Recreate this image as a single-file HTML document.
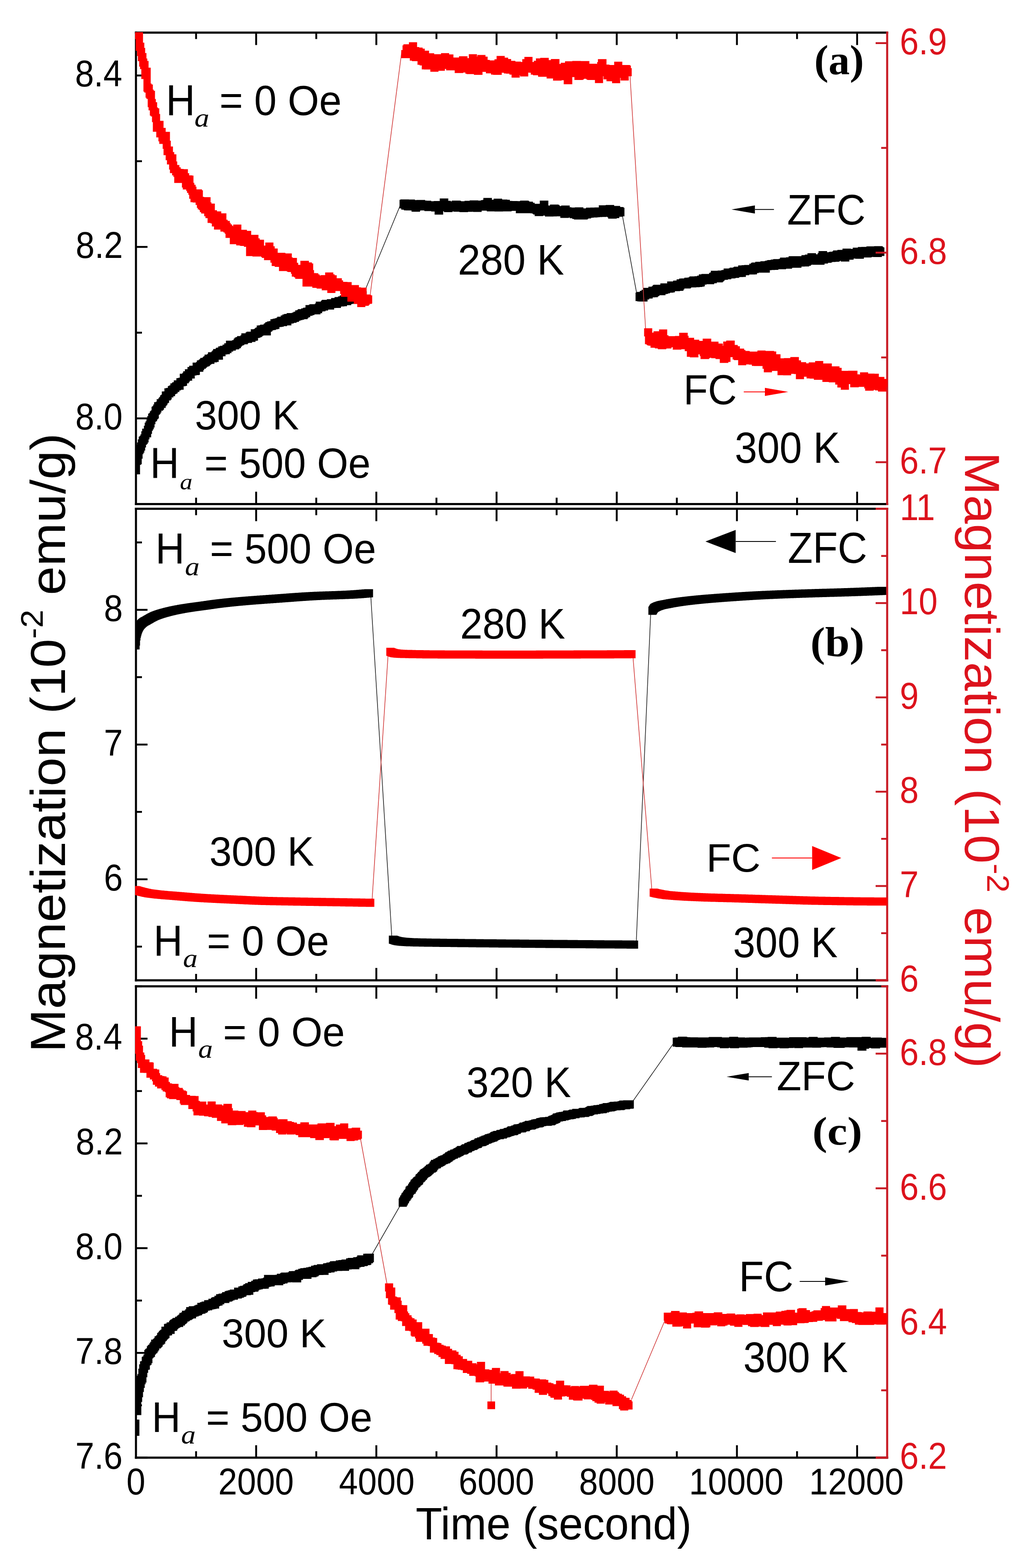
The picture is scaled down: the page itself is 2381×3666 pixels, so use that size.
<!DOCTYPE html>
<html><head><meta charset="utf-8"><title>Magnetization vs time</title>
<style>html,body{margin:0;padding:0;background:#fff;}svg{display:block;}</style></head>
<body><svg width="2381" height="3666" viewBox="0 0 2381 3666">
<rect width="2381" height="3666" fill="#fff"/>
<line x1="458.6" y1="76.3" x2="458.6" y2="91.3" stroke="#000" stroke-width="4.4"/>
<line x1="458.6" y1="1178.6" x2="458.6" y2="1163.6" stroke="#000" stroke-width="4.4"/>
<line x1="599.1" y1="76.3" x2="599.1" y2="105.3" stroke="#000" stroke-width="4.4"/>
<line x1="599.1" y1="1178.6" x2="599.1" y2="1149.6" stroke="#000" stroke-width="4.4"/>
<line x1="739.7" y1="76.3" x2="739.7" y2="91.3" stroke="#000" stroke-width="4.4"/>
<line x1="739.7" y1="1178.6" x2="739.7" y2="1163.6" stroke="#000" stroke-width="4.4"/>
<line x1="880.2" y1="76.3" x2="880.2" y2="105.3" stroke="#000" stroke-width="4.4"/>
<line x1="880.2" y1="1178.6" x2="880.2" y2="1149.6" stroke="#000" stroke-width="4.4"/>
<line x1="1020.8" y1="76.3" x2="1020.8" y2="91.3" stroke="#000" stroke-width="4.4"/>
<line x1="1020.8" y1="1178.6" x2="1020.8" y2="1163.6" stroke="#000" stroke-width="4.4"/>
<line x1="1161.4" y1="76.3" x2="1161.4" y2="105.3" stroke="#000" stroke-width="4.4"/>
<line x1="1161.4" y1="1178.6" x2="1161.4" y2="1149.6" stroke="#000" stroke-width="4.4"/>
<line x1="1301.9" y1="76.3" x2="1301.9" y2="91.3" stroke="#000" stroke-width="4.4"/>
<line x1="1301.9" y1="1178.6" x2="1301.9" y2="1163.6" stroke="#000" stroke-width="4.4"/>
<line x1="1442.5" y1="76.3" x2="1442.5" y2="105.3" stroke="#000" stroke-width="4.4"/>
<line x1="1442.5" y1="1178.6" x2="1442.5" y2="1149.6" stroke="#000" stroke-width="4.4"/>
<line x1="1583.0" y1="76.3" x2="1583.0" y2="91.3" stroke="#000" stroke-width="4.4"/>
<line x1="1583.0" y1="1178.6" x2="1583.0" y2="1163.6" stroke="#000" stroke-width="4.4"/>
<line x1="1723.6" y1="76.3" x2="1723.6" y2="105.3" stroke="#000" stroke-width="4.4"/>
<line x1="1723.6" y1="1178.6" x2="1723.6" y2="1149.6" stroke="#000" stroke-width="4.4"/>
<line x1="1864.2" y1="76.3" x2="1864.2" y2="91.3" stroke="#000" stroke-width="4.4"/>
<line x1="1864.2" y1="1178.6" x2="1864.2" y2="1163.6" stroke="#000" stroke-width="4.4"/>
<line x1="2004.7" y1="76.3" x2="2004.7" y2="105.3" stroke="#000" stroke-width="4.4"/>
<line x1="2004.7" y1="1178.6" x2="2004.7" y2="1149.6" stroke="#000" stroke-width="4.4"/>
<line x1="458.6" y1="1189.5" x2="458.6" y2="1204.5" stroke="#000" stroke-width="4.4"/>
<line x1="458.6" y1="2292.0" x2="458.6" y2="2277.0" stroke="#000" stroke-width="4.4"/>
<line x1="599.1" y1="1189.5" x2="599.1" y2="1218.5" stroke="#000" stroke-width="4.4"/>
<line x1="599.1" y1="2292.0" x2="599.1" y2="2263.0" stroke="#000" stroke-width="4.4"/>
<line x1="739.7" y1="1189.5" x2="739.7" y2="1204.5" stroke="#000" stroke-width="4.4"/>
<line x1="739.7" y1="2292.0" x2="739.7" y2="2277.0" stroke="#000" stroke-width="4.4"/>
<line x1="880.2" y1="1189.5" x2="880.2" y2="1218.5" stroke="#000" stroke-width="4.4"/>
<line x1="880.2" y1="2292.0" x2="880.2" y2="2263.0" stroke="#000" stroke-width="4.4"/>
<line x1="1020.8" y1="1189.5" x2="1020.8" y2="1204.5" stroke="#000" stroke-width="4.4"/>
<line x1="1020.8" y1="2292.0" x2="1020.8" y2="2277.0" stroke="#000" stroke-width="4.4"/>
<line x1="1161.4" y1="1189.5" x2="1161.4" y2="1218.5" stroke="#000" stroke-width="4.4"/>
<line x1="1161.4" y1="2292.0" x2="1161.4" y2="2263.0" stroke="#000" stroke-width="4.4"/>
<line x1="1301.9" y1="1189.5" x2="1301.9" y2="1204.5" stroke="#000" stroke-width="4.4"/>
<line x1="1301.9" y1="2292.0" x2="1301.9" y2="2277.0" stroke="#000" stroke-width="4.4"/>
<line x1="1442.5" y1="1189.5" x2="1442.5" y2="1218.5" stroke="#000" stroke-width="4.4"/>
<line x1="1442.5" y1="2292.0" x2="1442.5" y2="2263.0" stroke="#000" stroke-width="4.4"/>
<line x1="1583.0" y1="1189.5" x2="1583.0" y2="1204.5" stroke="#000" stroke-width="4.4"/>
<line x1="1583.0" y1="2292.0" x2="1583.0" y2="2277.0" stroke="#000" stroke-width="4.4"/>
<line x1="1723.6" y1="1189.5" x2="1723.6" y2="1218.5" stroke="#000" stroke-width="4.4"/>
<line x1="1723.6" y1="2292.0" x2="1723.6" y2="2263.0" stroke="#000" stroke-width="4.4"/>
<line x1="1864.2" y1="1189.5" x2="1864.2" y2="1204.5" stroke="#000" stroke-width="4.4"/>
<line x1="1864.2" y1="2292.0" x2="1864.2" y2="2277.0" stroke="#000" stroke-width="4.4"/>
<line x1="2004.7" y1="1189.5" x2="2004.7" y2="1218.5" stroke="#000" stroke-width="4.4"/>
<line x1="2004.7" y1="2292.0" x2="2004.7" y2="2263.0" stroke="#000" stroke-width="4.4"/>
<line x1="458.6" y1="2306.0" x2="458.6" y2="2321.0" stroke="#000" stroke-width="4.4"/>
<line x1="458.6" y1="3408.0" x2="458.6" y2="3393.0" stroke="#000" stroke-width="4.4"/>
<line x1="599.1" y1="2306.0" x2="599.1" y2="2335.0" stroke="#000" stroke-width="4.4"/>
<line x1="599.1" y1="3408.0" x2="599.1" y2="3379.0" stroke="#000" stroke-width="4.4"/>
<line x1="739.7" y1="2306.0" x2="739.7" y2="2321.0" stroke="#000" stroke-width="4.4"/>
<line x1="739.7" y1="3408.0" x2="739.7" y2="3393.0" stroke="#000" stroke-width="4.4"/>
<line x1="880.2" y1="2306.0" x2="880.2" y2="2335.0" stroke="#000" stroke-width="4.4"/>
<line x1="880.2" y1="3408.0" x2="880.2" y2="3379.0" stroke="#000" stroke-width="4.4"/>
<line x1="1020.8" y1="2306.0" x2="1020.8" y2="2321.0" stroke="#000" stroke-width="4.4"/>
<line x1="1020.8" y1="3408.0" x2="1020.8" y2="3393.0" stroke="#000" stroke-width="4.4"/>
<line x1="1161.4" y1="2306.0" x2="1161.4" y2="2335.0" stroke="#000" stroke-width="4.4"/>
<line x1="1161.4" y1="3408.0" x2="1161.4" y2="3379.0" stroke="#000" stroke-width="4.4"/>
<line x1="1301.9" y1="2306.0" x2="1301.9" y2="2321.0" stroke="#000" stroke-width="4.4"/>
<line x1="1301.9" y1="3408.0" x2="1301.9" y2="3393.0" stroke="#000" stroke-width="4.4"/>
<line x1="1442.5" y1="2306.0" x2="1442.5" y2="2335.0" stroke="#000" stroke-width="4.4"/>
<line x1="1442.5" y1="3408.0" x2="1442.5" y2="3379.0" stroke="#000" stroke-width="4.4"/>
<line x1="1583.0" y1="2306.0" x2="1583.0" y2="2321.0" stroke="#000" stroke-width="4.4"/>
<line x1="1583.0" y1="3408.0" x2="1583.0" y2="3393.0" stroke="#000" stroke-width="4.4"/>
<line x1="1723.6" y1="2306.0" x2="1723.6" y2="2335.0" stroke="#000" stroke-width="4.4"/>
<line x1="1723.6" y1="3408.0" x2="1723.6" y2="3379.0" stroke="#000" stroke-width="4.4"/>
<line x1="1864.2" y1="2306.0" x2="1864.2" y2="2321.0" stroke="#000" stroke-width="4.4"/>
<line x1="1864.2" y1="3408.0" x2="1864.2" y2="3393.0" stroke="#000" stroke-width="4.4"/>
<line x1="2004.7" y1="2306.0" x2="2004.7" y2="2335.0" stroke="#000" stroke-width="4.4"/>
<line x1="2004.7" y1="3408.0" x2="2004.7" y2="3379.0" stroke="#000" stroke-width="4.4"/>
<line x1="318.0" y1="978.2" x2="345.0" y2="978.2" stroke="#000" stroke-width="4.4"/>
<line x1="318.0" y1="577.3" x2="345.0" y2="577.3" stroke="#000" stroke-width="4.4"/>
<line x1="318.0" y1="176.5" x2="345.0" y2="176.5" stroke="#000" stroke-width="4.4"/>
<line x1="318.0" y1="1178.6" x2="332.0" y2="1178.6" stroke="#000" stroke-width="4.4"/>
<line x1="318.0" y1="777.8" x2="332.0" y2="777.8" stroke="#000" stroke-width="4.4"/>
<line x1="318.0" y1="376.9" x2="332.0" y2="376.9" stroke="#000" stroke-width="4.4"/>
<line x1="318.0" y1="2055.8" x2="345.0" y2="2055.8" stroke="#000" stroke-width="4.4"/>
<line x1="318.0" y1="1740.8" x2="345.0" y2="1740.8" stroke="#000" stroke-width="4.4"/>
<line x1="318.0" y1="1425.8" x2="345.0" y2="1425.8" stroke="#000" stroke-width="4.4"/>
<line x1="318.0" y1="2213.2" x2="332.0" y2="2213.2" stroke="#000" stroke-width="4.4"/>
<line x1="318.0" y1="1898.2" x2="332.0" y2="1898.2" stroke="#000" stroke-width="4.4"/>
<line x1="318.0" y1="1583.2" x2="332.0" y2="1583.2" stroke="#000" stroke-width="4.4"/>
<line x1="318.0" y1="1268.2" x2="332.0" y2="1268.2" stroke="#000" stroke-width="4.4"/>
<line x1="318.0" y1="3408.0" x2="345.0" y2="3408.0" stroke="#000" stroke-width="4.4"/>
<line x1="318.0" y1="3163.1" x2="345.0" y2="3163.1" stroke="#000" stroke-width="4.4"/>
<line x1="318.0" y1="2918.2" x2="345.0" y2="2918.2" stroke="#000" stroke-width="4.4"/>
<line x1="318.0" y1="2673.3" x2="345.0" y2="2673.3" stroke="#000" stroke-width="4.4"/>
<line x1="318.0" y1="2428.4" x2="345.0" y2="2428.4" stroke="#000" stroke-width="4.4"/>
<line x1="318.0" y1="3285.6" x2="332.0" y2="3285.6" stroke="#000" stroke-width="4.4"/>
<line x1="318.0" y1="3040.7" x2="332.0" y2="3040.7" stroke="#000" stroke-width="4.4"/>
<line x1="318.0" y1="2795.8" x2="332.0" y2="2795.8" stroke="#000" stroke-width="4.4"/>
<line x1="318.0" y1="2550.9" x2="332.0" y2="2550.9" stroke="#000" stroke-width="4.4"/>
<line x1="318.0" y1="2306.0" x2="332.0" y2="2306.0" stroke="#000" stroke-width="4.4"/>
<line x1="315.6" y1="76.3" x2="2077.4" y2="76.3" stroke="#000" stroke-width="5.0"/>
<line x1="315.6" y1="1178.6" x2="2077.4" y2="1178.6" stroke="#000" stroke-width="5.0"/>
<line x1="318.0" y1="73.8" x2="318.0" y2="1181.1" stroke="#000" stroke-width="4.8"/>
<line x1="315.6" y1="1189.5" x2="2077.4" y2="1189.5" stroke="#000" stroke-width="5.0"/>
<line x1="315.6" y1="2292.0" x2="2077.4" y2="2292.0" stroke="#000" stroke-width="5.0"/>
<line x1="318.0" y1="1187.0" x2="318.0" y2="2294.5" stroke="#000" stroke-width="4.8"/>
<line x1="315.6" y1="2306.0" x2="2077.4" y2="2306.0" stroke="#000" stroke-width="5.0"/>
<line x1="315.6" y1="3408.0" x2="2077.4" y2="3408.0" stroke="#000" stroke-width="5.0"/>
<line x1="318.0" y1="2303.5" x2="318.0" y2="3410.5" stroke="#000" stroke-width="4.8"/>
<line x1="855.0" y1="676.0" x2="937.0" y2="478.0" stroke="#222" stroke-width="1.6"/>
<line x1="1455.0" y1="500.0" x2="1491.0" y2="696.0" stroke="#222" stroke-width="1.6"/>
<line x1="867.0" y1="1390.0" x2="917.0" y2="2200.0" stroke="#222" stroke-width="1.6"/>
<line x1="1488.0" y1="2206.0" x2="1522.0" y2="1432.0" stroke="#222" stroke-width="1.6"/>
<line x1="866.0" y1="2940.0" x2="938.0" y2="2815.0" stroke="#222" stroke-width="1.6"/>
<line x1="1475.0" y1="2582.0" x2="1577.0" y2="2437.0" stroke="#222" stroke-width="1.6"/>
<path d="M316 1053.4 L316.5 1053.4 L316.5 1042.8 L318.5 1042.8 L318.5 1039.4 L320.5 1039.4 L320.5 1034.6 L322.5 1034.6 L322.5 1027.3 L324.5 1027.3 L324.5 1021 L326.5 1021 L326.5 1018.9 L328.5 1018.9 L328.5 1015.6 L330.5 1015.6 L330.5 1008.2 L332.5 1008.2 L332.5 1002.2 L336.5 1002.2 L336.5 995.5 L338.5 995.5 L338.5 988.2 L340.5 988.2 L340.5 984.7 L342.5 984.7 L342.5 980.5 L344.5 980.5 L344.5 972.8 L346.5 972.8 L346.5 967 L348.5 967 L348.5 965.4 L350.5 965.4 L350.5 961.4 L352.5 961.4 L352.5 959.6 L354.5 959.6 L354.5 951 L356.5 951 L356.5 949 L358.5 949 L358.5 945.4 L360.5 945.4 L360.5 940.3 L364.5 940.3 L364.5 939 L366.5 939 L366.5 933.2 L370.5 933.2 L370.5 930.6 L372.5 930.6 L372.5 927.9 L374.5 927.9 L374.5 924.2 L376.5 924.2 L376.5 922.8 L378.5 922.8 L378.5 915.3 L382.5 915.3 L382.5 915 L384.5 915 L384.5 907.7 L388.5 907.7 L388.5 906.9 L392.5 906.9 L392.5 902.7 L394.5 902.7 L394.5 901.7 L396.5 901.7 L396.5 900.7 L398.5 900.7 L398.5 896.2 L402.5 896.2 L402.5 894.1 L404.5 894.1 L404.5 893.5 L406.5 893.5 L406.5 889.3 L412.5 889.3 L412.5 884.2 L414.5 884.2 L414.5 884.1 L416.5 884.1 L416.5 883.6 L418.5 883.6 L418.5 882.9 L420.5 882.9 L420.5 873.8 L426.5 873.8 L426.5 871.6 L428.5 871.6 L428.5 867.9 L432.5 867.9 L432.5 863.2 L438.5 863.2 L438.5 857.9 L442.5 857.9 L442.5 855.1 L450.5 855.1 L450.5 847.7 L458.5 847.7 L458.5 846.3 L460.5 846.3 L460.5 842.4 L464.5 842.4 L464.5 841.1 L466.5 841.1 L466.5 839.3 L468.5 839.3 L468.5 836.8 L472.5 836.8 L472.5 836.3 L474.5 836.3 L474.5 834.1 L476.5 834.1 L476.5 832.5 L478.5 832.5 L478.5 828.9 L484.5 828.9 L484.5 827.4 L486.5 827.4 L486.5 823.4 L494.5 823.4 L494.5 821.6 L496.5 821.6 L496.5 819.2 L498.5 819.2 L498.5 815.9 L504.5 815.9 L504.5 813.5 L506.5 813.5 L506.5 812.7 L510.5 812.7 L510.5 809.8 L514.5 809.8 L514.5 808.5 L520.5 808.5 L520.5 805.7 L524.5 805.7 L524.5 802.5 L528.5 802.5 L528.5 796.5 L542.5 796.5 L542.5 795.6 L544.5 795.6 L544.5 795.1 L546.5 795.1 L546.5 791.7 L548.5 791.7 L548.5 789.5 L550.5 789.5 L550.5 788.4 L552.5 788.4 L552.5 788 L554.5 788 L554.5 785.7 L562.5 785.7 L562.5 783.6 L564.5 783.6 L564.5 779.2 L574.5 779.2 L574.5 776.9 L576.5 776.9 L576.5 775.6 L586.5 775.6 L586.5 769.7 L592.5 769.7 L592.5 769.5 L594.5 769.5 L594.5 768.4 L596.5 768.4 L596.5 766.6 L598.5 766.6 L598.5 765.5 L600.5 765.5 L600.5 760.9 L604.5 760.9 L604.5 760.5 L608.5 760.5 L608.5 759.1 L616.5 759.1 L616.5 756.8 L618.5 756.8 L618.5 755.4 L620.5 755.4 L620.5 753.3 L622.5 753.3 L622.5 753 L624.5 753 L624.5 751.4 L628.5 751.4 L628.5 750.7 L632.5 750.7 L632.5 746.2 L636.5 746.2 L636.5 745.8 L638.5 745.8 L638.5 745.1 L642.5 745.1 L642.5 743.9 L646.5 743.9 L646.5 742.4 L648.5 742.4 L648.5 740.6 L656.5 740.6 L656.5 737.5 L660.5 737.5 L660.5 735.3 L664.5 735.3 L664.5 733.9 L670.5 733.9 L670.5 731.9 L682.5 731.9 L682.5 730.9 L684.5 730.9 L684.5 730.6 L686.5 730.6 L686.5 728.8 L690.5 728.8 L690.5 725.5 L694.5 725.5 L694.5 724.8 L696.5 724.8 L696.5 722.8 L704.5 722.8 L704.5 720.9 L708.5 720.9 L708.5 719.5 L710.5 719.5 L710.5 719.4 L712.5 719.4 L712.5 719.1 L714.5 719.1 L714.5 713.2 L722.5 713.2 L722.5 712 L724.5 712 L724.5 711.2 L736.5 711.2 L736.5 709.5 L738.5 709.5 L738.5 705.2 L750.5 705.2 L750.5 703.1 L752.5 703.1 L752.5 701.1 L764.5 701.1 L764.5 699.4 L774.5 699.4 L774.5 696.7 L782.5 696.7 L782.5 694.4 L790.5 694.4 L790.5 692.9 L794.5 692.9 L794.5 690.7 L800.5 690.7 L800.5 689.6 L806.5 689.6 L806.5 688.3 L812.5 688.3 L812.5 685.3 L830.5 685.3 L830.5 685 L832.5 685 L832.5 684.8 L836.5 684.8 L836.5 680.8 L855.5 680.8 L855.5 681 L857.5 681 L857.5 700 L853.5 700 L853.5 703.8 L849.5 703.8 L849.5 704 L847.5 704 L847.5 706.8 L841.5 706.8 L841.5 708.3 L827.5 708.3 L827.5 710.6 L823.5 710.6 L823.5 711 L821.5 711 L821.5 713.4 L811.5 713.4 L811.5 716.1 L805.5 716.1 L805.5 716.6 L799.5 716.6 L799.5 716.8 L797.5 716.8 L797.5 719.9 L787.5 719.9 L787.5 720.1 L785.5 720.1 L785.5 720.2 L781.5 720.2 L781.5 723.7 L767.5 723.7 L767.5 725.9 L765.5 725.9 L765.5 726 L761.5 726 L761.5 727.8 L759.5 727.8 L759.5 727.9 L755.5 727.9 L755.5 728.5 L753.5 728.5 L753.5 732.2 L749.5 732.2 L749.5 734.9 L735.5 734.9 L735.5 736.8 L731.5 736.8 L731.5 738.1 L729.5 738.1 L729.5 738.4 L727.5 738.4 L727.5 738.5 L725.5 738.5 L725.5 741.7 L721.5 741.7 L721.5 743.9 L719.5 743.9 L719.5 746.2 L711.5 746.2 L711.5 747.4 L707.5 747.4 L707.5 748.6 L703.5 748.6 L703.5 749.6 L701.5 749.6 L701.5 749.9 L699.5 749.9 L699.5 752.4 L695.5 752.4 L695.5 752.9 L693.5 752.9 L693.5 754.8 L687.5 754.8 L687.5 756 L685.5 756 L685.5 756.6 L681.5 756.6 L681.5 760.8 L671.5 760.8 L671.5 762.6 L663.5 762.6 L663.5 764 L659.5 764 L659.5 764.5 L655.5 764.5 L655.5 764.8 L653.5 764.8 L653.5 769.2 L649.5 769.2 L649.5 770.1 L645.5 770.1 L645.5 771.4 L641.5 771.4 L641.5 772 L639.5 772 L639.5 772.3 L637.5 772.3 L637.5 774.4 L635.5 774.4 L635.5 775.8 L633.5 775.8 L633.5 784.2 L617.5 784.2 L617.5 784.5 L615.5 784.5 L615.5 785.6 L613.5 785.6 L613.5 787.4 L611.5 787.4 L611.5 788.5 L609.5 788.5 L609.5 789.3 L607.5 789.3 L607.5 790.2 L603.5 790.2 L603.5 796.3 L601.5 796.3 L601.5 796.7 L597.5 796.7 L597.5 799.4 L591.5 799.4 L591.5 799.6 L589.5 799.6 L589.5 801.7 L581.5 801.7 L581.5 802.6 L579.5 802.6 L579.5 804.9 L577.5 804.9 L577.5 805.1 L571.5 805.1 L571.5 807 L569.5 807 L569.5 807.4 L567.5 807.4 L567.5 808.5 L565.5 808.5 L565.5 810.7 L563.5 810.7 L563.5 814.1 L561.5 814.1 L561.5 814.6 L559.5 814.6 L559.5 816.7 L555.5 816.7 L555.5 817.1 L551.5 817.1 L551.5 819.7 L545.5 819.7 L545.5 822 L541.5 822 L541.5 825.5 L537.5 825.5 L537.5 828.2 L531.5 828.2 L531.5 828.8 L527.5 828.8 L527.5 833.1 L521.5 833.1 L521.5 841.1 L511.5 841.1 L511.5 846.3 L507.5 846.3 L507.5 847.2 L501.5 847.2 L501.5 850.7 L495.5 850.7 L495.5 851.5 L493.5 851.5 L493.5 853.1 L491.5 853.1 L491.5 855.3 L489.5 855.3 L489.5 856.8 L485.5 856.8 L485.5 858.3 L483.5 858.3 L483.5 860.1 L481.5 860.1 L481.5 862.2 L477.5 862.2 L477.5 865.3 L475.5 865.3 L475.5 869.3 L467.5 869.3 L467.5 876.4 L465.5 876.4 L465.5 877 L459.5 877 L459.5 878 L455.5 878 L455.5 884.9 L453.5 884.9 L453.5 885 L449.5 885 L449.5 890 L445.5 890 L445.5 890.6 L443.5 890.6 L443.5 893.6 L441.5 893.6 L441.5 896.3 L437.5 896.3 L437.5 901.9 L435.5 901.9 L435.5 902.6 L433.5 902.6 L433.5 903.1 L431.5 903.1 L431.5 903.2 L429.5 903.2 L429.5 911.3 L423.5 911.3 L423.5 912.5 L421.5 912.5 L421.5 913.1 L419.5 913.1 L419.5 916.5 L415.5 916.5 L415.5 919.7 L413.5 919.7 L413.5 920.7 L411.5 920.7 L411.5 921.7 L409.5 921.7 L409.5 926.2 L405.5 926.2 L405.5 929.2 L401.5 929.2 L401.5 934 L399.5 934 L399.5 936.2 L395.5 936.2 L395.5 941.8 L393.5 941.8 L393.5 943.2 L391.5 943.2 L391.5 946.9 L389.5 946.9 L389.5 949.6 L387.5 949.6 L387.5 953.8 L383.5 953.8 L383.5 958 L381.5 958 L381.5 960.2 L377.5 960.2 L377.5 964.4 L375.5 964.4 L375.5 968 L373.5 968 L373.5 970 L371.5 970 L371.5 978.6 L369.5 978.6 L369.5 980.4 L367.5 980.4 L367.5 984.4 L365.5 984.4 L365.5 986 L363.5 986 L363.5 991.8 L361.5 991.8 L361.5 999.5 L359.5 999.5 L359.5 1003.7 L357.5 1003.7 L357.5 1007.2 L355.5 1007.2 L355.5 1014.5 L353.5 1014.5 L353.5 1022.6 L349.5 1022.6 L349.5 1027.2 L347.5 1027.2 L347.5 1034.6 L345.5 1034.6 L345.5 1037.9 L343.5 1037.9 L343.5 1040 L341.5 1040 L341.5 1046.3 L339.5 1046.3 L339.5 1053.6 L337.5 1053.6 L337.5 1058.4 L335.5 1058.4 L335.5 1061.8 L333.5 1061.8 L333.5 1072.4 L331.5 1072.4 L331.5 1085.4 L329.5 1085.4 L329.5 1087.1 L327.5 1087.1 L327.5 1108.9 L316 1108.9 Z" fill="#000"/>
<path d="M934.5 467.2 L936.5 467.2 L936.5 466.2 L956.5 466.2 L956.5 466.6 L970.5 466.6 L970.5 467.8 L974.5 467.8 L974.5 467.4 L994.5 467.4 L994.5 469 L998.5 469 L998.5 469.2 L1008.5 469.2 L1008.5 470.5 L1010.5 470.5 L1010.5 470.4 L1014.5 470.4 L1014.5 470 L1028.5 470 L1028.5 464.1 L1048.5 464.1 L1048.5 469.6 L1054.5 469.6 L1054.5 470.9 L1056.5 470.9 L1056.5 468.9 L1076.5 468.9 L1076.5 469.6 L1078.5 469.6 L1078.5 470.4 L1086.5 470.4 L1086.5 469.6 L1098.5 469.6 L1098.5 468.6 L1118.5 468.6 L1118.5 469 L1124.5 469 L1124.5 468 L1128.5 468 L1128.5 467.3 L1130.5 467.3 L1130.5 462.8 L1150.5 462.8 L1150.5 467.1 L1154.5 467.1 L1154.5 464.6 L1174.5 464.6 L1174.5 466.5 L1186.5 466.5 L1186.5 467.1 L1192.5 467.1 L1192.5 469.7 L1198.5 469.7 L1198.5 470 L1210.5 470 L1210.5 470.3 L1216.5 470.3 L1216.5 469 L1236.5 469 L1236.5 470.5 L1238.5 470.5 L1238.5 471.4 L1246.5 471.4 L1246.5 474.1 L1250.5 474.1 L1250.5 476.4 L1262.5 476.4 L1262.5 469 L1282.5 469 L1282.5 480.5 L1286.5 480.5 L1286.5 478.3 L1306.5 478.3 L1306.5 479.1 L1308.5 479.1 L1308.5 481.2 L1310.5 481.2 L1310.5 482.1 L1312.5 482.1 L1312.5 480.6 L1332.5 480.6 L1332.5 484.4 L1336.5 484.4 L1336.5 485.3 L1344.5 485.3 L1344.5 484.8 L1364.5 484.8 L1364.5 487.3 L1370.5 487.3 L1370.5 485.5 L1380.5 485.5 L1380.5 485.2 L1390.5 485.2 L1390.5 485 L1392.5 485 L1392.5 484.9 L1400.5 484.9 L1400.5 480 L1416.5 480 L1416.5 479.3 L1436.5 479.3 L1436.5 481.4 L1450.5 481.4 L1450.5 484.1 L1458.5 484.1 L1458.5 485.8 L1460.5 485.8 L1460.5 505.8 L1456.5 505.8 L1456.5 506.8 L1448.5 506.8 L1448.5 510 L1442.5 510 L1442.5 511.2 L1422.5 511.2 L1422.5 508.3 L1420.5 508.3 L1420.5 506.8 L1418.5 506.8 L1418.5 507.3 L1408.5 507.3 L1408.5 507.4 L1402.5 507.4 L1402.5 508 L1398.5 508 L1398.5 508.2 L1396.5 508.2 L1396.5 508.5 L1388.5 508.5 L1388.5 509.1 L1384.5 509.1 L1384.5 509.3 L1382.5 509.3 L1382.5 510.7 L1376.5 510.7 L1376.5 511.5 L1374.5 511.5 L1374.5 513.2 L1362.5 513.2 L1362.5 513.3 L1342.5 513.3 L1342.5 512.1 L1338.5 512.1 L1338.5 510.3 L1332.5 510.3 L1332.5 508.5 L1330.5 508.5 L1330.5 509.5 L1310.5 509.5 L1310.5 505.8 L1302.5 505.8 L1302.5 506 L1294.5 506 L1294.5 506.3 L1274.5 506.3 L1274.5 504 L1270.5 504 L1270.5 505.2 L1250.5 505.2 L1250.5 501.5 L1248.5 501.5 L1248.5 501.3 L1246.5 501.3 L1246.5 499.6 L1244.5 499.6 L1244.5 498.8 L1240.5 498.8 L1240.5 498.6 L1236.5 498.6 L1236.5 498.5 L1206.5 498.5 L1206.5 493.1 L1196.5 493.1 L1196.5 494.3 L1176.5 494.3 L1176.5 494.5 L1156.5 494.5 L1156.5 494.2 L1138.5 494.2 L1138.5 492.4 L1134.5 492.4 L1134.5 492.5 L1126.5 492.5 L1126.5 495.4 L1106.5 495.4 L1106.5 495.1 L1104.5 495.1 L1104.5 495.2 L1094.5 495.2 L1094.5 496.1 L1074.5 496.1 L1074.5 495.1 L1060.5 495.1 L1060.5 493.9 L1058.5 493.9 L1058.5 496 L1038.5 496 L1038.5 494 L1036.5 494 L1036.5 501.7 L1016.5 501.7 L1016.5 494.4 L1008.5 494.4 L1008.5 493.6 L992.5 493.6 L992.5 492 L984.5 492 L984.5 492.3 L982.5 492.3 L982.5 495.1 L962.5 495.1 L962.5 492.1 L948.5 492.1 L948.5 491.7 L944.5 491.7 L944.5 490.3 L940.5 490.3 L940.5 490.2 L938.5 490.2 L938.5 487.2 L934.5 487.2 Z" fill="#000"/>
<path d="M1486.5 684 L1488.5 684 L1488.5 682.5 L1496.5 682.5 L1496.5 679.9 L1500.5 679.9 L1500.5 677.4 L1504.5 677.4 L1504.5 673 L1516.5 673 L1516.5 670.3 L1524.5 670.3 L1524.5 668.9 L1526.5 668.9 L1526.5 666.4 L1528.5 666.4 L1528.5 665.8 L1544.5 665.8 L1544.5 662.5 L1560.5 662.5 L1560.5 658.1 L1574.5 658.1 L1574.5 656.1 L1582.5 656.1 L1582.5 652.9 L1588.5 652.9 L1588.5 651.3 L1592.5 651.3 L1592.5 651 L1600.5 651 L1600.5 649.2 L1606.5 649.2 L1606.5 649 L1610.5 649 L1610.5 648 L1612.5 648 L1612.5 646.3 L1624.5 646.3 L1624.5 645.7 L1630.5 645.7 L1630.5 644.4 L1634.5 644.4 L1634.5 641.6 L1640.5 641.6 L1640.5 640.5 L1658.5 640.5 L1658.5 637.9 L1660.5 637.9 L1660.5 637 L1662.5 637 L1662.5 633.1 L1678.5 633.1 L1678.5 632.5 L1686.5 632.5 L1686.5 631.8 L1688.5 631.8 L1688.5 631.2 L1692.5 631.2 L1692.5 627.7 L1704.5 627.7 L1704.5 627.3 L1706.5 627.3 L1706.5 625.7 L1714.5 625.7 L1714.5 624.8 L1716.5 624.8 L1716.5 623.6 L1726.5 623.6 L1726.5 620.6 L1734.5 620.6 L1734.5 619.9 L1740.5 619.9 L1740.5 619.5 L1752.5 619.5 L1752.5 616.5 L1756.5 616.5 L1756.5 614.5 L1758.5 614.5 L1758.5 613.7 L1766.5 613.7 L1766.5 612.1 L1778.5 612.1 L1778.5 610.7 L1788.5 610.7 L1788.5 610 L1790.5 610 L1790.5 609.2 L1794.5 609.2 L1794.5 607.9 L1802.5 607.9 L1802.5 607 L1804.5 607 L1804.5 606.7 L1808.5 606.7 L1808.5 605.8 L1820.5 605.8 L1820.5 605.4 L1822.5 605.4 L1822.5 604.7 L1824.5 604.7 L1824.5 602.2 L1838.5 602.2 L1838.5 601.4 L1844.5 601.4 L1844.5 599 L1850.5 599 L1850.5 598.9 L1870.5 598.9 L1870.5 599.1 L1874.5 599.1 L1874.5 596.5 L1882.5 596.5 L1882.5 595.2 L1888.5 595.2 L1888.5 591.9 L1908.5 591.9 L1908.5 594.5 L1912.5 594.5 L1912.5 591.4 L1914.5 591.4 L1914.5 587.1 L1934.5 587.1 L1934.5 589.8 L1938.5 589.8 L1938.5 589.1 L1940.5 589.1 L1940.5 588.4 L1946.5 588.4 L1946.5 587.4 L1948.5 587.4 L1948.5 585.4 L1958.5 585.4 L1958.5 584.3 L1970.5 584.3 L1970.5 581.2 L1990.5 581.2 L1990.5 582 L1994.5 582 L1994.5 579.1 L2004.5 579.1 L2004.5 578.9 L2006.5 578.9 L2006.5 577.5 L2014.5 577.5 L2014.5 577.3 L2026.5 577.3 L2026.5 575.9 L2044.5 575.9 L2044.5 575.6 L2064.5 575.6 L2064.5 577.2 L2066.5 577.2 L2066.5 578.4 L2068.5 578.4 L2068.5 598.4 L2062.5 598.4 L2062.5 601 L2042.5 601 L2042.5 600.7 L2038.5 600.7 L2038.5 601.9 L2020.5 601.9 L2020.5 605.1 L2000.5 605.1 L2000.5 604.5 L1996.5 604.5 L1996.5 607.3 L1986.5 607.3 L1986.5 611.5 L1966.5 611.5 L1966.5 609.7 L1964.5 609.7 L1964.5 611.2 L1962.5 611.2 L1962.5 612 L1954.5 612 L1954.5 612.6 L1946.5 612.6 L1946.5 613.5 L1944.5 613.5 L1944.5 614.5 L1936.5 614.5 L1936.5 616.2 L1928.5 616.2 L1928.5 618.9 L1920.5 618.9 L1920.5 619 L1900.5 619 L1900.5 618.8 L1898.5 618.8 L1898.5 619.5 L1896.5 619.5 L1896.5 621.6 L1892.5 621.6 L1892.5 623 L1882.5 623 L1882.5 623.2 L1874.5 623.2 L1874.5 625.9 L1854.5 625.9 L1854.5 626.3 L1852.5 626.3 L1852.5 628.3 L1838.5 628.3 L1838.5 629.5 L1820.5 629.5 L1820.5 630.9 L1812.5 630.9 L1812.5 631.3 L1804.5 631.3 L1804.5 631.7 L1800.5 631.7 L1800.5 637.4 L1788.5 637.4 L1788.5 637.6 L1774.5 637.6 L1774.5 638.6 L1770.5 638.6 L1770.5 641.5 L1766.5 641.5 L1766.5 641.7 L1752.5 641.7 L1752.5 643.6 L1744.5 643.6 L1744.5 647.6 L1738.5 647.6 L1738.5 647.7 L1730.5 647.7 L1730.5 648.3 L1728.5 648.3 L1728.5 649.8 L1720.5 649.8 L1720.5 650.7 L1718.5 650.7 L1718.5 651.1 L1710.5 651.1 L1710.5 652.9 L1702.5 652.9 L1702.5 654.3 L1696.5 654.3 L1696.5 654.6 L1694.5 654.6 L1694.5 656.8 L1692.5 656.8 L1692.5 658.6 L1690.5 658.6 L1690.5 660.2 L1676.5 660.2 L1676.5 662.2 L1670.5 662.2 L1670.5 664.4 L1652.5 664.4 L1652.5 665.4 L1648.5 665.4 L1648.5 669.6 L1646.5 669.6 L1646.5 670.2 L1642.5 670.2 L1642.5 671.1 L1636.5 671.1 L1636.5 671.6 L1628.5 671.6 L1628.5 672.1 L1616.5 672.1 L1616.5 673.9 L1614.5 673.9 L1614.5 674.6 L1600.5 674.6 L1600.5 676.9 L1598.5 676.9 L1598.5 680 L1590.5 680 L1590.5 680.8 L1578.5 680.8 L1578.5 683.4 L1576.5 683.4 L1576.5 683.7 L1574.5 683.7 L1574.5 684.3 L1568.5 684.3 L1568.5 684.5 L1566.5 684.5 L1566.5 686.1 L1562.5 686.1 L1562.5 686.9 L1560.5 686.9 L1560.5 687.6 L1556.5 687.6 L1556.5 690.3 L1542.5 690.3 L1542.5 691.8 L1540.5 691.8 L1540.5 693 L1538.5 693 L1538.5 695.1 L1532.5 695.1 L1532.5 695.2 L1526.5 695.2 L1526.5 698.1 L1518.5 698.1 L1518.5 700.3 L1514.5 700.3 L1514.5 705 L1494.5 705 L1494.5 704.7 L1490.5 704.7 L1490.5 704 L1486.5 704 Z" fill="#000"/>
<path d="M316 1457.2 L316.5 1457.2 L316.5 1455.3 L317.5 1455.3 L317.5 1453.7 L318.5 1453.7 L318.5 1452.3 L319.5 1452.3 L319.5 1451.1 L320.5 1451.1 L320.5 1450 L321.5 1450 L321.5 1448.9 L322.5 1448.9 L322.5 1448 L323.5 1448 L323.5 1447.1 L324.5 1447.1 L324.5 1446.3 L325.5 1446.3 L325.5 1445.5 L326.5 1445.5 L326.5 1444.8 L327.5 1444.8 L327.5 1444.1 L328.5 1444.1 L328.5 1443.5 L329.5 1443.5 L329.5 1443 L330.5 1443 L330.5 1442.4 L331.5 1442.4 L331.5 1441.9 L332.5 1441.9 L332.5 1441.4 L333.5 1441.4 L333.5 1440.8 L334.5 1440.8 L334.5 1440.3 L335.5 1440.3 L335.5 1439.7 L336.5 1439.7 L336.5 1439.1 L337.5 1439.1 L337.5 1438.5 L338.5 1438.5 L338.5 1437.9 L339.5 1437.9 L339.5 1437.4 L340.5 1437.4 L340.5 1436.8 L341.5 1436.8 L341.5 1436.2 L342.5 1436.2 L342.5 1435.6 L343.5 1435.6 L343.5 1435.1 L344.5 1435.1 L344.5 1434.5 L345.5 1434.5 L345.5 1434 L346.5 1434 L346.5 1433.4 L347.5 1433.4 L347.5 1432.9 L348.5 1432.9 L348.5 1432.4 L349.5 1432.4 L349.5 1432 L350.5 1432 L350.5 1431.5 L351.5 1431.5 L351.5 1431.1 L352.5 1431.1 L352.5 1430.6 L353.5 1430.6 L353.5 1430.2 L354.5 1430.2 L354.5 1429.8 L355.5 1429.8 L355.5 1429.4 L356.5 1429.4 L356.5 1429 L357.5 1429 L357.5 1428.7 L358.5 1428.7 L358.5 1428.3 L359.5 1428.3 L359.5 1427.9 L360.5 1427.9 L360.5 1427.6 L361.5 1427.6 L361.5 1427.2 L362.5 1427.2 L362.5 1426.9 L363.5 1426.9 L363.5 1426.6 L364.5 1426.6 L364.5 1426.2 L365.5 1426.2 L365.5 1425.9 L366.5 1425.9 L366.5 1425.6 L367.5 1425.6 L367.5 1425.3 L368.5 1425.3 L368.5 1425 L369.5 1425 L369.5 1424.7 L370.5 1424.7 L370.5 1424.4 L371.5 1424.4 L371.5 1424.1 L372.5 1424.1 L372.5 1423.8 L373.5 1423.8 L373.5 1423.5 L374.5 1423.5 L374.5 1423.3 L375.5 1423.3 L375.5 1423 L376.5 1423 L376.5 1422.7 L377.5 1422.7 L377.5 1422.4 L378.5 1422.4 L378.5 1422.2 L379.5 1422.2 L379.5 1421.9 L380.5 1421.9 L380.5 1421.6 L381.5 1421.6 L381.5 1421.4 L382.5 1421.4 L382.5 1421.1 L383.5 1421.1 L383.5 1420.9 L384.5 1420.9 L384.5 1420.6 L385.5 1420.6 L385.5 1420.4 L386.5 1420.4 L386.5 1420.1 L387.5 1420.1 L387.5 1419.9 L388.5 1419.9 L388.5 1419.6 L389.5 1419.6 L389.5 1419.4 L390.5 1419.4 L390.5 1419.2 L391.5 1419.2 L391.5 1418.9 L392.5 1418.9 L392.5 1418.7 L393.5 1418.7 L393.5 1418.5 L394.5 1418.5 L394.5 1418.3 L395.5 1418.3 L395.5 1418 L396.5 1418 L396.5 1417.8 L397.5 1417.8 L397.5 1417.6 L398.5 1417.6 L398.5 1417.4 L399.5 1417.4 L399.5 1417.2 L400.5 1417.2 L400.5 1417 L401.5 1417 L401.5 1416.8 L402.5 1416.8 L402.5 1416.6 L403.5 1416.6 L403.5 1416.4 L404.5 1416.4 L404.5 1416.2 L405.5 1416.2 L405.5 1416 L406.5 1416 L406.5 1415.8 L407.5 1415.8 L407.5 1415.6 L408.5 1415.6 L408.5 1415.4 L409.5 1415.4 L409.5 1415.2 L410.5 1415.2 L410.5 1415 L411.5 1415 L411.5 1414.9 L412.5 1414.9 L412.5 1414.7 L413.5 1414.7 L413.5 1414.5 L414.5 1414.5 L414.5 1414.3 L415.5 1414.3 L415.5 1414.1 L416.5 1414.1 L416.5 1414 L417.5 1414 L417.5 1413.8 L418.5 1413.8 L418.5 1413.6 L419.5 1413.6 L419.5 1413.5 L420.5 1413.5 L420.5 1413.3 L421.5 1413.3 L421.5 1413.1 L422.5 1413.1 L422.5 1413 L423.5 1413 L423.5 1412.8 L424.5 1412.8 L424.5 1412.6 L425.5 1412.6 L425.5 1412.5 L426.5 1412.5 L426.5 1412.3 L427.5 1412.3 L427.5 1412.2 L428.5 1412.2 L428.5 1412 L429.5 1412 L429.5 1411.8 L430.5 1411.8 L430.5 1411.7 L431.5 1411.7 L431.5 1411.5 L432.5 1411.5 L432.5 1411.4 L433.5 1411.4 L433.5 1411.2 L434.5 1411.2 L434.5 1411.1 L435.5 1411.1 L435.5 1410.9 L436.5 1410.9 L436.5 1410.8 L437.5 1410.8 L437.5 1410.6 L438.5 1410.6 L438.5 1410.5 L439.5 1410.5 L439.5 1410.3 L440.5 1410.3 L440.5 1410.2 L441.5 1410.2 L441.5 1410 L442.5 1410 L442.5 1409.9 L443.5 1409.9 L443.5 1409.8 L444.5 1409.8 L444.5 1409.6 L445.5 1409.6 L445.5 1409.5 L446.5 1409.5 L446.5 1409.4 L447.5 1409.4 L447.5 1409.2 L448.5 1409.2 L448.5 1409.1 L449.5 1409.1 L449.5 1409 L450.5 1409 L450.5 1408.8 L451.5 1408.8 L451.5 1408.7 L452.5 1408.7 L452.5 1408.6 L453.5 1408.6 L453.5 1408.4 L454.5 1408.4 L454.5 1408.3 L455.5 1408.3 L455.5 1408.2 L456.5 1408.2 L456.5 1408 L457.5 1408 L457.5 1407.9 L458.5 1407.9 L458.5 1407.8 L459.5 1407.8 L459.5 1407.6 L460.5 1407.6 L460.5 1407.5 L461.5 1407.5 L461.5 1407.4 L462.5 1407.4 L462.5 1407.2 L463.5 1407.2 L463.5 1407.1 L464.5 1407.1 L464.5 1407 L465.5 1407 L465.5 1406.8 L466.5 1406.8 L466.5 1406.7 L467.5 1406.7 L467.5 1406.6 L468.5 1406.6 L468.5 1406.4 L469.5 1406.4 L469.5 1406.3 L470.5 1406.3 L470.5 1406.1 L471.5 1406.1 L471.5 1406 L472.5 1406 L472.5 1405.9 L473.5 1405.9 L473.5 1405.7 L474.5 1405.7 L474.5 1405.6 L475.5 1405.6 L475.5 1405.4 L476.5 1405.4 L476.5 1405.3 L477.5 1405.3 L477.5 1405.1 L478.5 1405.1 L478.5 1405 L479.5 1405 L479.5 1404.9 L480.5 1404.9 L480.5 1404.7 L481.5 1404.7 L481.5 1404.6 L482.5 1404.6 L482.5 1404.4 L483.5 1404.4 L483.5 1404.3 L484.5 1404.3 L484.5 1404.1 L485.5 1404.1 L485.5 1404 L486.5 1404 L486.5 1403.8 L487.5 1403.8 L487.5 1403.7 L488.5 1403.7 L488.5 1403.5 L489.5 1403.5 L489.5 1403.4 L490.5 1403.4 L490.5 1403.3 L491.5 1403.3 L491.5 1403.1 L492.5 1403.1 L492.5 1403 L493.5 1403 L493.5 1402.8 L494.5 1402.8 L494.5 1402.7 L495.5 1402.7 L495.5 1402.6 L496.5 1402.6 L496.5 1402.4 L497.5 1402.4 L497.5 1402.3 L498.5 1402.3 L498.5 1402.2 L499.5 1402.2 L499.5 1402 L500.5 1402 L500.5 1401.9 L501.5 1401.9 L501.5 1401.8 L502.5 1401.8 L502.5 1401.7 L503.5 1401.7 L503.5 1401.6 L504.5 1401.6 L504.5 1401.4 L505.5 1401.4 L505.5 1401.3 L506.5 1401.3 L506.5 1401.2 L507.5 1401.2 L507.5 1401.1 L508.5 1401.1 L508.5 1401 L509.5 1401 L509.5 1400.9 L510.5 1400.9 L510.5 1400.7 L511.5 1400.7 L511.5 1400.6 L512.5 1400.6 L512.5 1400.5 L513.5 1400.5 L513.5 1400.4 L514.5 1400.4 L514.5 1400.3 L515.5 1400.3 L515.5 1400.2 L516.5 1400.2 L516.5 1400.1 L517.5 1400.1 L517.5 1400 L518.5 1400 L518.5 1399.9 L519.5 1399.9 L519.5 1399.7 L520.5 1399.7 L520.5 1399.6 L521.5 1399.6 L521.5 1399.5 L522.5 1399.5 L522.5 1399.4 L523.5 1399.4 L523.5 1399.3 L524.5 1399.3 L524.5 1399.2 L525.5 1399.2 L525.5 1399.1 L526.5 1399.1 L526.5 1399 L527.5 1399 L527.5 1398.9 L528.5 1398.9 L528.5 1398.8 L529.5 1398.8 L529.5 1398.7 L530.5 1398.7 L530.5 1398.6 L531.5 1398.6 L531.5 1398.5 L532.5 1398.5 L532.5 1398.4 L533.5 1398.4 L533.5 1398.3 L534.5 1398.3 L534.5 1398.2 L535.5 1398.2 L535.5 1398.1 L536.5 1398.1 L536.5 1398 L537.5 1398 L537.5 1397.9 L538.5 1397.9 L538.5 1397.8 L539.5 1397.8 L539.5 1397.7 L540.5 1397.7 L540.5 1397.6 L541.5 1397.6 L541.5 1397.5 L542.5 1397.5 L542.5 1397.4 L543.5 1397.4 L543.5 1397.3 L545.5 1397.3 L545.5 1397.2 L546.5 1397.2 L546.5 1397.1 L547.5 1397.1 L547.5 1397 L548.5 1397 L548.5 1396.9 L549.5 1396.9 L549.5 1396.8 L550.5 1396.8 L550.5 1396.7 L551.5 1396.7 L551.5 1396.6 L552.5 1396.6 L552.5 1396.5 L553.5 1396.5 L553.5 1396.4 L555.5 1396.4 L555.5 1396.3 L556.5 1396.3 L556.5 1396.2 L557.5 1396.2 L557.5 1396.1 L558.5 1396.1 L558.5 1396 L559.5 1396 L559.5 1395.9 L560.5 1395.9 L560.5 1395.8 L561.5 1395.8 L561.5 1395.7 L563.5 1395.7 L563.5 1395.6 L564.5 1395.6 L564.5 1395.5 L565.5 1395.5 L565.5 1395.4 L566.5 1395.4 L566.5 1395.3 L567.5 1395.3 L567.5 1395.2 L569.5 1395.2 L569.5 1395.1 L570.5 1395.1 L570.5 1395 L571.5 1395 L571.5 1394.9 L572.5 1394.9 L572.5 1394.8 L574.5 1394.8 L574.5 1394.7 L575.5 1394.7 L575.5 1394.6 L576.5 1394.6 L576.5 1394.5 L577.5 1394.5 L577.5 1394.4 L579.5 1394.4 L579.5 1394.3 L580.5 1394.3 L580.5 1394.2 L581.5 1394.2 L581.5 1394.1 L583.5 1394.1 L583.5 1394 L584.5 1394 L584.5 1393.9 L585.5 1393.9 L585.5 1393.8 L587.5 1393.8 L587.5 1393.7 L588.5 1393.7 L588.5 1393.6 L589.5 1393.6 L589.5 1393.5 L591.5 1393.5 L591.5 1393.4 L592.5 1393.4 L592.5 1393.3 L593.5 1393.3 L593.5 1393.2 L595.5 1393.2 L595.5 1393.1 L596.5 1393.1 L596.5 1393 L597.5 1393 L597.5 1392.9 L599.5 1392.9 L599.5 1392.8 L600.5 1392.8 L600.5 1392.7 L601.5 1392.7 L601.5 1392.6 L603.5 1392.6 L603.5 1392.5 L604.5 1392.5 L604.5 1392.4 L606.5 1392.4 L606.5 1392.3 L607.5 1392.3 L607.5 1392.2 L608.5 1392.2 L608.5 1392.1 L610.5 1392.1 L610.5 1392 L611.5 1392 L611.5 1391.9 L613.5 1391.9 L613.5 1391.8 L614.5 1391.8 L614.5 1391.7 L615.5 1391.7 L615.5 1391.6 L617.5 1391.6 L617.5 1391.5 L618.5 1391.5 L618.5 1391.4 L620.5 1391.4 L620.5 1391.3 L621.5 1391.3 L621.5 1391.2 L622.5 1391.2 L622.5 1391.1 L624.5 1391.1 L624.5 1391 L625.5 1391 L625.5 1390.9 L627.5 1390.9 L627.5 1390.8 L628.5 1390.8 L628.5 1390.7 L629.5 1390.7 L629.5 1390.6 L631.5 1390.6 L631.5 1390.5 L632.5 1390.5 L632.5 1390.4 L634.5 1390.4 L634.5 1390.3 L635.5 1390.3 L635.5 1390.2 L636.5 1390.2 L636.5 1390.1 L638.5 1390.1 L638.5 1390 L639.5 1390 L639.5 1389.9 L641.5 1389.9 L641.5 1389.8 L642.5 1389.8 L642.5 1389.7 L643.5 1389.7 L643.5 1389.6 L645.5 1389.6 L645.5 1389.5 L646.5 1389.5 L646.5 1389.4 L647.5 1389.4 L647.5 1389.3 L649.5 1389.3 L649.5 1389.2 L650.5 1389.2 L650.5 1389.1 L651.5 1389.1 L651.5 1389 L653.5 1389 L653.5 1388.9 L654.5 1388.9 L654.5 1388.8 L656.5 1388.8 L656.5 1388.7 L657.5 1388.7 L657.5 1388.6 L658.5 1388.6 L658.5 1388.5 L660.5 1388.5 L660.5 1388.4 L661.5 1388.4 L661.5 1388.3 L662.5 1388.3 L662.5 1388.2 L664.5 1388.2 L664.5 1388.1 L665.5 1388.1 L665.5 1388 L666.5 1388 L666.5 1387.9 L668.5 1387.9 L668.5 1387.8 L669.5 1387.8 L669.5 1387.7 L670.5 1387.7 L670.5 1387.6 L672.5 1387.6 L672.5 1387.5 L673.5 1387.5 L673.5 1387.4 L674.5 1387.4 L674.5 1387.3 L676.5 1387.3 L676.5 1387.2 L677.5 1387.2 L677.5 1387.1 L679.5 1387.1 L679.5 1387 L680.5 1387 L680.5 1386.9 L681.5 1386.9 L681.5 1386.8 L683.5 1386.8 L683.5 1386.7 L684.5 1386.7 L684.5 1386.6 L685.5 1386.6 L685.5 1386.5 L687.5 1386.5 L687.5 1386.4 L688.5 1386.4 L688.5 1386.3 L690.5 1386.3 L690.5 1386.2 L691.5 1386.2 L691.5 1386.1 L693.5 1386.1 L693.5 1386 L694.5 1386 L694.5 1385.9 L696.5 1385.9 L696.5 1385.8 L697.5 1385.8 L697.5 1385.7 L699.5 1385.7 L699.5 1385.6 L700.5 1385.6 L700.5 1385.5 L702.5 1385.5 L702.5 1385.4 L703.5 1385.4 L703.5 1385.3 L705.5 1385.3 L705.5 1385.2 L706.5 1385.2 L706.5 1385.1 L708.5 1385.1 L708.5 1385 L710.5 1385 L710.5 1384.9 L711.5 1384.9 L711.5 1384.8 L713.5 1384.8 L713.5 1384.7 L715.5 1384.7 L715.5 1384.6 L716.5 1384.6 L716.5 1384.5 L718.5 1384.5 L718.5 1384.4 L720.5 1384.4 L720.5 1384.3 L722.5 1384.3 L722.5 1384.2 L724.5 1384.2 L724.5 1384.1 L726.5 1384.1 L726.5 1384 L728.5 1384 L728.5 1383.9 L730.5 1383.9 L730.5 1383.8 L732.5 1383.8 L732.5 1383.7 L734.5 1383.7 L734.5 1383.6 L736.5 1383.6 L736.5 1383.5 L739.5 1383.5 L739.5 1383.4 L741.5 1383.4 L741.5 1383.3 L743.5 1383.3 L743.5 1383.2 L746.5 1383.2 L746.5 1383.1 L749.5 1383.1 L749.5 1383 L751.5 1383 L751.5 1382.9 L754.5 1382.9 L754.5 1382.8 L757.5 1382.8 L757.5 1382.7 L760.5 1382.7 L760.5 1382.6 L763.5 1382.6 L763.5 1382.5 L766.5 1382.5 L766.5 1382.4 L769.5 1382.4 L769.5 1382.3 L772.5 1382.3 L772.5 1382.2 L775.5 1382.2 L775.5 1382.1 L778.5 1382.1 L778.5 1382 L781.5 1382 L781.5 1381.9 L784.5 1381.9 L784.5 1381.8 L786.5 1381.8 L786.5 1381.7 L789.5 1381.7 L789.5 1381.6 L792.5 1381.6 L792.5 1381.5 L794.5 1381.5 L794.5 1381.4 L797.5 1381.4 L797.5 1381.3 L799.5 1381.3 L799.5 1381.2 L801.5 1381.2 L801.5 1381.1 L804.5 1381.1 L804.5 1381 L806.5 1381 L806.5 1380.9 L808.5 1380.9 L808.5 1380.8 L810.5 1380.8 L810.5 1380.7 L812.5 1380.7 L812.5 1380.6 L814.5 1380.6 L814.5 1380.5 L815.5 1380.5 L815.5 1380.4 L817.5 1380.4 L817.5 1380.3 L819.5 1380.3 L819.5 1380.2 L820.5 1380.2 L820.5 1380.1 L822.5 1380.1 L822.5 1380 L823.5 1380 L823.5 1379.9 L825.5 1379.9 L825.5 1379.8 L826.5 1379.8 L826.5 1379.7 L828.5 1379.7 L828.5 1379.6 L829.5 1379.6 L829.5 1379.5 L830.5 1379.5 L830.5 1379.4 L832.5 1379.4 L832.5 1379.3 L833.5 1379.3 L833.5 1379.2 L834.5 1379.2 L834.5 1379.1 L835.5 1379.1 L835.5 1379 L837.5 1379 L837.5 1378.9 L838.5 1378.9 L838.5 1378.8 L839.5 1378.8 L839.5 1378.7 L840.5 1378.7 L840.5 1378.6 L841.5 1378.6 L841.5 1378.5 L843.5 1378.5 L843.5 1378.4 L844.5 1378.4 L844.5 1378.3 L845.5 1378.3 L845.5 1378.2 L846.5 1378.2 L846.5 1378.1 L847.5 1378.1 L847.5 1378 L848.5 1378 L848.5 1377.9 L850.5 1377.9 L850.5 1377.8 L851.5 1377.8 L851.5 1377.7 L852.5 1377.7 L852.5 1377.6 L853.5 1377.6 L853.5 1377.5 L872.5 1377.5 L872.5 1396.5 L871.5 1396.5 L871.5 1396.6 L870.5 1396.6 L870.5 1396.7 L869.5 1396.7 L869.5 1396.8 L868.5 1396.8 L868.5 1396.9 L866.5 1396.9 L866.5 1397 L865.5 1397 L865.5 1397.1 L864.5 1397.1 L864.5 1397.2 L863.5 1397.2 L863.5 1397.3 L862.5 1397.3 L862.5 1397.4 L861.5 1397.4 L861.5 1397.5 L859.5 1397.5 L859.5 1397.6 L858.5 1397.6 L858.5 1397.7 L857.5 1397.7 L857.5 1397.8 L856.5 1397.8 L856.5 1397.9 L855.5 1397.9 L855.5 1398 L853.5 1398 L853.5 1398.1 L852.5 1398.1 L852.5 1398.2 L851.5 1398.2 L851.5 1398.3 L850.5 1398.3 L850.5 1398.4 L848.5 1398.4 L848.5 1398.5 L847.5 1398.5 L847.5 1398.6 L846.5 1398.6 L846.5 1398.7 L844.5 1398.7 L844.5 1398.8 L843.5 1398.8 L843.5 1398.9 L841.5 1398.9 L841.5 1399 L840.5 1399 L840.5 1399.1 L838.5 1399.1 L838.5 1399.2 L837.5 1399.2 L837.5 1399.3 L835.5 1399.3 L835.5 1399.4 L833.5 1399.4 L833.5 1399.5 L832.5 1399.5 L832.5 1399.6 L830.5 1399.6 L830.5 1399.7 L828.5 1399.7 L828.5 1399.8 L826.5 1399.8 L826.5 1399.9 L824.5 1399.9 L824.5 1400 L822.5 1400 L822.5 1400.1 L819.5 1400.1 L819.5 1400.2 L817.5 1400.2 L817.5 1400.3 L815.5 1400.3 L815.5 1400.4 L812.5 1400.4 L812.5 1400.5 L810.5 1400.5 L810.5 1400.6 L807.5 1400.6 L807.5 1400.7 L804.5 1400.7 L804.5 1400.8 L802.5 1400.8 L802.5 1400.9 L799.5 1400.9 L799.5 1401 L796.5 1401 L796.5 1401.1 L793.5 1401.1 L793.5 1401.2 L790.5 1401.2 L790.5 1401.3 L787.5 1401.3 L787.5 1401.4 L784.5 1401.4 L784.5 1401.5 L781.5 1401.5 L781.5 1401.6 L778.5 1401.6 L778.5 1401.7 L775.5 1401.7 L775.5 1401.8 L772.5 1401.8 L772.5 1401.9 L769.5 1401.9 L769.5 1402 L767.5 1402 L767.5 1402.1 L764.5 1402.1 L764.5 1402.2 L761.5 1402.2 L761.5 1402.3 L759.5 1402.3 L759.5 1402.4 L757.5 1402.4 L757.5 1402.5 L754.5 1402.5 L754.5 1402.6 L752.5 1402.6 L752.5 1402.7 L750.5 1402.7 L750.5 1402.8 L748.5 1402.8 L748.5 1402.9 L746.5 1402.9 L746.5 1403 L744.5 1403 L744.5 1403.1 L742.5 1403.1 L742.5 1403.2 L740.5 1403.2 L740.5 1403.3 L738.5 1403.3 L738.5 1403.4 L736.5 1403.4 L736.5 1403.5 L734.5 1403.5 L734.5 1403.6 L733.5 1403.6 L733.5 1403.7 L731.5 1403.7 L731.5 1403.8 L729.5 1403.8 L729.5 1403.9 L728.5 1403.9 L728.5 1404 L726.5 1404 L726.5 1404.1 L724.5 1404.1 L724.5 1404.2 L723.5 1404.2 L723.5 1404.3 L721.5 1404.3 L721.5 1404.4 L720.5 1404.4 L720.5 1404.5 L718.5 1404.5 L718.5 1404.6 L717.5 1404.6 L717.5 1404.7 L715.5 1404.7 L715.5 1404.8 L714.5 1404.8 L714.5 1404.9 L712.5 1404.9 L712.5 1405 L711.5 1405 L711.5 1405.1 L709.5 1405.1 L709.5 1405.2 L708.5 1405.2 L708.5 1405.3 L706.5 1405.3 L706.5 1405.4 L705.5 1405.4 L705.5 1405.5 L703.5 1405.5 L703.5 1405.6 L702.5 1405.6 L702.5 1405.7 L701.5 1405.7 L701.5 1405.8 L699.5 1405.8 L699.5 1405.9 L698.5 1405.9 L698.5 1406 L697.5 1406 L697.5 1406.1 L695.5 1406.1 L695.5 1406.2 L694.5 1406.2 L694.5 1406.3 L692.5 1406.3 L692.5 1406.4 L691.5 1406.4 L691.5 1406.5 L690.5 1406.5 L690.5 1406.6 L688.5 1406.6 L688.5 1406.7 L687.5 1406.7 L687.5 1406.8 L686.5 1406.8 L686.5 1406.9 L684.5 1406.9 L684.5 1407 L683.5 1407 L683.5 1407.1 L682.5 1407.1 L682.5 1407.2 L680.5 1407.2 L680.5 1407.3 L679.5 1407.3 L679.5 1407.4 L678.5 1407.4 L678.5 1407.5 L676.5 1407.5 L676.5 1407.6 L675.5 1407.6 L675.5 1407.7 L674.5 1407.7 L674.5 1407.8 L672.5 1407.8 L672.5 1407.9 L671.5 1407.9 L671.5 1408 L669.5 1408 L669.5 1408.1 L668.5 1408.1 L668.5 1408.2 L667.5 1408.2 L667.5 1408.3 L665.5 1408.3 L665.5 1408.4 L664.5 1408.4 L664.5 1408.5 L663.5 1408.5 L663.5 1408.6 L661.5 1408.6 L661.5 1408.7 L660.5 1408.7 L660.5 1408.8 L659.5 1408.8 L659.5 1408.9 L657.5 1408.9 L657.5 1409 L656.5 1409 L656.5 1409.1 L654.5 1409.1 L654.5 1409.2 L653.5 1409.2 L653.5 1409.3 L652.5 1409.3 L652.5 1409.4 L650.5 1409.4 L650.5 1409.5 L649.5 1409.5 L649.5 1409.6 L647.5 1409.6 L647.5 1409.7 L646.5 1409.7 L646.5 1409.8 L645.5 1409.8 L645.5 1409.9 L643.5 1409.9 L643.5 1410 L642.5 1410 L642.5 1410.1 L640.5 1410.1 L640.5 1410.2 L639.5 1410.2 L639.5 1410.3 L638.5 1410.3 L638.5 1410.4 L636.5 1410.4 L636.5 1410.5 L635.5 1410.5 L635.5 1410.6 L633.5 1410.6 L633.5 1410.7 L632.5 1410.7 L632.5 1410.8 L631.5 1410.8 L631.5 1410.9 L629.5 1410.9 L629.5 1411 L628.5 1411 L628.5 1411.1 L626.5 1411.1 L626.5 1411.2 L625.5 1411.2 L625.5 1411.3 L624.5 1411.3 L624.5 1411.4 L622.5 1411.4 L622.5 1411.5 L621.5 1411.5 L621.5 1411.6 L619.5 1411.6 L619.5 1411.7 L618.5 1411.7 L618.5 1411.8 L617.5 1411.8 L617.5 1411.9 L615.5 1411.9 L615.5 1412 L614.5 1412 L614.5 1412.1 L613.5 1412.1 L613.5 1412.2 L611.5 1412.2 L611.5 1412.3 L610.5 1412.3 L610.5 1412.4 L609.5 1412.4 L609.5 1412.5 L607.5 1412.5 L607.5 1412.6 L606.5 1412.6 L606.5 1412.7 L605.5 1412.7 L605.5 1412.8 L603.5 1412.8 L603.5 1412.9 L602.5 1412.9 L602.5 1413 L601.5 1413 L601.5 1413.1 L599.5 1413.1 L599.5 1413.2 L598.5 1413.2 L598.5 1413.3 L597.5 1413.3 L597.5 1413.4 L595.5 1413.4 L595.5 1413.5 L594.5 1413.5 L594.5 1413.6 L593.5 1413.6 L593.5 1413.7 L592.5 1413.7 L592.5 1413.8 L590.5 1413.8 L590.5 1413.9 L589.5 1413.9 L589.5 1414 L588.5 1414 L588.5 1414.1 L587.5 1414.1 L587.5 1414.2 L585.5 1414.2 L585.5 1414.3 L584.5 1414.3 L584.5 1414.4 L583.5 1414.4 L583.5 1414.5 L582.5 1414.5 L582.5 1414.6 L581.5 1414.6 L581.5 1414.7 L579.5 1414.7 L579.5 1414.8 L578.5 1414.8 L578.5 1414.9 L577.5 1414.9 L577.5 1415 L576.5 1415 L576.5 1415.1 L575.5 1415.1 L575.5 1415.2 L574.5 1415.2 L574.5 1415.3 L573.5 1415.3 L573.5 1415.4 L571.5 1415.4 L571.5 1415.5 L570.5 1415.5 L570.5 1415.6 L569.5 1415.6 L569.5 1415.7 L568.5 1415.7 L568.5 1415.8 L567.5 1415.8 L567.5 1415.9 L566.5 1415.9 L566.5 1416 L565.5 1416 L565.5 1416.1 L564.5 1416.1 L564.5 1416.2 L563.5 1416.2 L563.5 1416.3 L561.5 1416.3 L561.5 1416.4 L560.5 1416.4 L560.5 1416.5 L559.5 1416.5 L559.5 1416.6 L558.5 1416.6 L558.5 1416.7 L557.5 1416.7 L557.5 1416.8 L556.5 1416.8 L556.5 1416.9 L555.5 1416.9 L555.5 1417 L554.5 1417 L554.5 1417.1 L553.5 1417.1 L553.5 1417.2 L552.5 1417.2 L552.5 1417.3 L551.5 1417.3 L551.5 1417.4 L550.5 1417.4 L550.5 1417.5 L549.5 1417.5 L549.5 1417.6 L548.5 1417.6 L548.5 1417.7 L547.5 1417.7 L547.5 1417.8 L546.5 1417.8 L546.5 1417.9 L545.5 1417.9 L545.5 1418 L544.5 1418 L544.5 1418.1 L543.5 1418.1 L543.5 1418.2 L542.5 1418.2 L542.5 1418.3 L541.5 1418.3 L541.5 1418.4 L540.5 1418.4 L540.5 1418.5 L539.5 1418.5 L539.5 1418.6 L538.5 1418.6 L538.5 1418.7 L537.5 1418.7 L537.5 1418.9 L536.5 1418.9 L536.5 1419 L535.5 1419 L535.5 1419.1 L534.5 1419.1 L534.5 1419.2 L533.5 1419.2 L533.5 1419.3 L532.5 1419.3 L532.5 1419.4 L531.5 1419.4 L531.5 1419.5 L530.5 1419.5 L530.5 1419.6 L529.5 1419.6 L529.5 1419.7 L528.5 1419.7 L528.5 1419.9 L527.5 1419.9 L527.5 1420 L526.5 1420 L526.5 1420.1 L525.5 1420.1 L525.5 1420.2 L524.5 1420.2 L524.5 1420.3 L523.5 1420.3 L523.5 1420.4 L522.5 1420.4 L522.5 1420.6 L521.5 1420.6 L521.5 1420.7 L520.5 1420.7 L520.5 1420.8 L519.5 1420.8 L519.5 1420.9 L518.5 1420.9 L518.5 1421 L517.5 1421 L517.5 1421.2 L516.5 1421.2 L516.5 1421.3 L515.5 1421.3 L515.5 1421.4 L514.5 1421.4 L514.5 1421.6 L513.5 1421.6 L513.5 1421.7 L512.5 1421.7 L512.5 1421.8 L511.5 1421.8 L511.5 1422 L510.5 1422 L510.5 1422.1 L509.5 1422.1 L509.5 1422.3 L508.5 1422.3 L508.5 1422.4 L507.5 1422.4 L507.5 1422.5 L506.5 1422.5 L506.5 1422.7 L505.5 1422.7 L505.5 1422.8 L504.5 1422.8 L504.5 1423 L503.5 1423 L503.5 1423.1 L502.5 1423.1 L502.5 1423.3 L501.5 1423.3 L501.5 1423.4 L500.5 1423.4 L500.5 1423.6 L499.5 1423.6 L499.5 1423.7 L498.5 1423.7 L498.5 1423.9 L497.5 1423.9 L497.5 1424 L496.5 1424 L496.5 1424.1 L495.5 1424.1 L495.5 1424.3 L494.5 1424.3 L494.5 1424.4 L493.5 1424.4 L493.5 1424.6 L492.5 1424.6 L492.5 1424.7 L491.5 1424.7 L491.5 1424.9 L490.5 1424.9 L490.5 1425 L489.5 1425 L489.5 1425.1 L488.5 1425.1 L488.5 1425.3 L487.5 1425.3 L487.5 1425.4 L486.5 1425.4 L486.5 1425.6 L485.5 1425.6 L485.5 1425.7 L484.5 1425.7 L484.5 1425.8 L483.5 1425.8 L483.5 1426 L482.5 1426 L482.5 1426.1 L481.5 1426.1 L481.5 1426.2 L480.5 1426.2 L480.5 1426.4 L479.5 1426.4 L479.5 1426.5 L478.5 1426.5 L478.5 1426.6 L477.5 1426.6 L477.5 1426.8 L476.5 1426.8 L476.5 1426.9 L475.5 1426.9 L475.5 1427 L474.5 1427 L474.5 1427.2 L473.5 1427.2 L473.5 1427.3 L472.5 1427.3 L472.5 1427.4 L471.5 1427.4 L471.5 1427.6 L470.5 1427.6 L470.5 1427.7 L469.5 1427.7 L469.5 1427.8 L468.5 1427.8 L468.5 1428 L467.5 1428 L467.5 1428.1 L466.5 1428.1 L466.5 1428.2 L465.5 1428.2 L465.5 1428.4 L464.5 1428.4 L464.5 1428.5 L463.5 1428.5 L463.5 1428.6 L462.5 1428.6 L462.5 1428.8 L461.5 1428.8 L461.5 1428.9 L460.5 1428.9 L460.5 1429 L459.5 1429 L459.5 1429.2 L458.5 1429.2 L458.5 1429.3 L457.5 1429.3 L457.5 1429.5 L456.5 1429.5 L456.5 1429.6 L455.5 1429.6 L455.5 1429.8 L454.5 1429.8 L454.5 1429.9 L453.5 1429.9 L453.5 1430.1 L452.5 1430.1 L452.5 1430.2 L451.5 1430.2 L451.5 1430.4 L450.5 1430.4 L450.5 1430.5 L449.5 1430.5 L449.5 1430.7 L448.5 1430.7 L448.5 1430.8 L447.5 1430.8 L447.5 1431 L446.5 1431 L446.5 1431.2 L445.5 1431.2 L445.5 1431.3 L444.5 1431.3 L444.5 1431.5 L443.5 1431.5 L443.5 1431.6 L442.5 1431.6 L442.5 1431.8 L441.5 1431.8 L441.5 1432 L440.5 1432 L440.5 1432.1 L439.5 1432.1 L439.5 1432.3 L438.5 1432.3 L438.5 1432.5 L437.5 1432.5 L437.5 1432.6 L436.5 1432.6 L436.5 1432.8 L435.5 1432.8 L435.5 1433 L434.5 1433 L434.5 1433.1 L433.5 1433.1 L433.5 1433.3 L432.5 1433.3 L432.5 1433.5 L431.5 1433.5 L431.5 1433.7 L430.5 1433.7 L430.5 1433.9 L429.5 1433.9 L429.5 1434 L428.5 1434 L428.5 1434.2 L427.5 1434.2 L427.5 1434.4 L426.5 1434.4 L426.5 1434.6 L425.5 1434.6 L425.5 1434.8 L424.5 1434.8 L424.5 1435 L423.5 1435 L423.5 1435.2 L422.5 1435.2 L422.5 1435.4 L421.5 1435.4 L421.5 1435.6 L420.5 1435.6 L420.5 1435.8 L419.5 1435.8 L419.5 1436 L418.5 1436 L418.5 1436.2 L417.5 1436.2 L417.5 1436.4 L416.5 1436.4 L416.5 1436.6 L415.5 1436.6 L415.5 1436.8 L414.5 1436.8 L414.5 1437 L413.5 1437 L413.5 1437.3 L412.5 1437.3 L412.5 1437.5 L411.5 1437.5 L411.5 1437.7 L410.5 1437.7 L410.5 1437.9 L409.5 1437.9 L409.5 1438.2 L408.5 1438.2 L408.5 1438.4 L407.5 1438.4 L407.5 1438.6 L406.5 1438.6 L406.5 1438.9 L405.5 1438.9 L405.5 1439.1 L404.5 1439.1 L404.5 1439.4 L403.5 1439.4 L403.5 1439.6 L402.5 1439.6 L402.5 1439.9 L401.5 1439.9 L401.5 1440.1 L400.5 1440.1 L400.5 1440.4 L399.5 1440.4 L399.5 1440.6 L398.5 1440.6 L398.5 1440.9 L397.5 1440.9 L397.5 1441.2 L396.5 1441.2 L396.5 1441.4 L395.5 1441.4 L395.5 1441.7 L394.5 1441.7 L394.5 1442 L393.5 1442 L393.5 1442.3 L392.5 1442.3 L392.5 1442.5 L391.5 1442.5 L391.5 1442.8 L390.5 1442.8 L390.5 1443.1 L389.5 1443.1 L389.5 1443.4 L388.5 1443.4 L388.5 1443.7 L387.5 1443.7 L387.5 1444 L386.5 1444 L386.5 1444.3 L385.5 1444.3 L385.5 1444.6 L384.5 1444.6 L384.5 1444.9 L383.5 1444.9 L383.5 1445.2 L382.5 1445.2 L382.5 1445.6 L381.5 1445.6 L381.5 1445.9 L380.5 1445.9 L380.5 1446.2 L379.5 1446.2 L379.5 1446.6 L378.5 1446.6 L378.5 1446.9 L377.5 1446.9 L377.5 1447.3 L376.5 1447.3 L376.5 1447.7 L375.5 1447.7 L375.5 1448 L374.5 1448 L374.5 1448.4 L373.5 1448.4 L373.5 1448.8 L372.5 1448.8 L372.5 1449.2 L371.5 1449.2 L371.5 1449.6 L370.5 1449.6 L370.5 1450.1 L369.5 1450.1 L369.5 1450.5 L368.5 1450.5 L368.5 1451 L367.5 1451 L367.5 1451.4 L366.5 1451.4 L366.5 1451.9 L365.5 1451.9 L365.5 1452.4 L364.5 1452.4 L364.5 1453 L363.5 1453 L363.5 1453.5 L362.5 1453.5 L362.5 1454.1 L361.5 1454.1 L361.5 1454.6 L360.5 1454.6 L360.5 1455.2 L359.5 1455.2 L359.5 1455.8 L358.5 1455.8 L358.5 1456.4 L357.5 1456.4 L357.5 1456.9 L356.5 1456.9 L356.5 1457.5 L355.5 1457.5 L355.5 1458.1 L354.5 1458.1 L354.5 1458.7 L353.5 1458.7 L353.5 1459.3 L352.5 1459.3 L352.5 1459.8 L351.5 1459.8 L351.5 1460.4 L350.5 1460.4 L350.5 1460.9 L349.5 1460.9 L349.5 1461.4 L348.5 1461.4 L348.5 1462 L347.5 1462 L347.5 1462.5 L346.5 1462.5 L346.5 1463.1 L345.5 1463.1 L345.5 1463.8 L344.5 1463.8 L344.5 1464.5 L343.5 1464.5 L343.5 1465.3 L342.5 1465.3 L342.5 1466.1 L341.5 1466.1 L341.5 1467 L340.5 1467 L340.5 1467.9 L339.5 1467.9 L339.5 1469 L338.5 1469 L338.5 1470.1 L337.5 1470.1 L337.5 1471.3 L336.5 1471.3 L336.5 1472.7 L335.5 1472.7 L335.5 1474.3 L334.5 1474.3 L334.5 1476.2 L333.5 1476.2 L333.5 1478.3 L332.5 1478.3 L332.5 1480.8 L331.5 1480.8 L331.5 1483.8 L330.5 1483.8 L330.5 1487.5 L329.5 1487.5 L329.5 1491.6 L328.5 1491.6 L328.5 1497.5 L327.5 1497.5 L327.5 1509.5 L326.5 1509.5 L326.5 1518.5 L316 1518.5 Z" fill="#000"/>
<path d="M909.5 2187.5 L929.5 2187.5 L929.5 2188.1 L931.5 2188.1 L931.5 2188.8 L933.5 2188.8 L933.5 2189.4 L935.5 2189.4 L935.5 2190 L937.5 2190 L937.5 2190.5 L939.5 2190.5 L939.5 2190.9 L941.5 2190.9 L941.5 2191.3 L943.5 2191.3 L943.5 2191.6 L945.5 2191.6 L945.5 2191.8 L947.5 2191.8 L947.5 2192 L949.5 2192 L949.5 2192.2 L951.5 2192.2 L951.5 2192.4 L953.5 2192.4 L953.5 2192.5 L955.5 2192.5 L955.5 2192.7 L957.5 2192.7 L957.5 2192.8 L959.5 2192.8 L959.5 2193 L961.5 2193 L961.5 2193.1 L963.5 2193.1 L963.5 2193.2 L965.5 2193.2 L965.5 2193.3 L967.5 2193.3 L967.5 2193.4 L969.5 2193.4 L969.5 2193.5 L973.5 2193.5 L973.5 2193.6 L977.5 2193.6 L977.5 2193.7 L981.5 2193.7 L981.5 2193.8 L983.5 2193.8 L983.5 2193.9 L989.5 2193.9 L989.5 2194 L993.5 2194 L993.5 2194.1 L997.5 2194.1 L997.5 2194.2 L1003.5 2194.2 L1003.5 2194.3 L1009.5 2194.3 L1009.5 2194.4 L1015.5 2194.4 L1015.5 2194.5 L1021.5 2194.5 L1021.5 2194.6 L1029.5 2194.6 L1029.5 2194.7 L1037.5 2194.7 L1037.5 2194.8 L1045.5 2194.8 L1045.5 2194.9 L1053.5 2194.9 L1053.5 2195 L1063.5 2195 L1063.5 2195.1 L1071.5 2195.1 L1071.5 2195.2 L1079.5 2195.2 L1079.5 2195.3 L1087.5 2195.3 L1087.5 2195.4 L1095.5 2195.4 L1095.5 2195.5 L1103.5 2195.5 L1103.5 2195.6 L1113.5 2195.6 L1113.5 2195.7 L1121.5 2195.7 L1121.5 2195.8 L1131.5 2195.8 L1131.5 2195.9 L1141.5 2195.9 L1141.5 2196 L1151.5 2196 L1151.5 2196.1 L1161.5 2196.1 L1161.5 2196.2 L1171.5 2196.2 L1171.5 2196.3 L1183.5 2196.3 L1183.5 2196.4 L1193.5 2196.4 L1193.5 2196.5 L1203.5 2196.5 L1203.5 2196.6 L1215.5 2196.6 L1215.5 2196.7 L1225.5 2196.7 L1225.5 2196.8 L1237.5 2196.8 L1237.5 2196.9 L1247.5 2196.9 L1247.5 2197 L1259.5 2197 L1259.5 2197.1 L1269.5 2197.1 L1269.5 2197.2 L1281.5 2197.2 L1281.5 2197.3 L1293.5 2197.3 L1293.5 2197.4 L1303.5 2197.4 L1303.5 2197.5 L1315.5 2197.5 L1315.5 2197.6 L1327.5 2197.6 L1327.5 2197.7 L1339.5 2197.7 L1339.5 2197.8 L1351.5 2197.8 L1351.5 2197.9 L1363.5 2197.9 L1363.5 2198 L1375.5 2198 L1375.5 2198.1 L1387.5 2198.1 L1387.5 2198.2 L1401.5 2198.2 L1401.5 2198.3 L1413.5 2198.3 L1413.5 2198.4 L1427.5 2198.4 L1427.5 2198.5 L1441.5 2198.5 L1441.5 2198.6 L1455.5 2198.6 L1455.5 2198.7 L1469.5 2198.7 L1469.5 2198.8 L1483.5 2198.8 L1483.5 2198.9 L1492.5 2198.9 L1492.5 2217.9 L1465.5 2217.9 L1465.5 2217.8 L1451.5 2217.8 L1451.5 2217.7 L1437.5 2217.7 L1437.5 2217.6 L1423.5 2217.6 L1423.5 2217.5 L1409.5 2217.5 L1409.5 2217.4 L1395.5 2217.4 L1395.5 2217.3 L1383.5 2217.3 L1383.5 2217.2 L1369.5 2217.2 L1369.5 2217.1 L1357.5 2217.1 L1357.5 2217 L1345.5 2217 L1345.5 2216.9 L1333.5 2216.9 L1333.5 2216.8 L1321.5 2216.8 L1321.5 2216.7 L1309.5 2216.7 L1309.5 2216.6 L1297.5 2216.6 L1297.5 2216.5 L1285.5 2216.5 L1285.5 2216.4 L1275.5 2216.4 L1275.5 2216.3 L1263.5 2216.3 L1263.5 2216.2 L1251.5 2216.2 L1251.5 2216.1 L1241.5 2216.1 L1241.5 2216 L1229.5 2216 L1229.5 2215.9 L1219.5 2215.9 L1219.5 2215.8 L1207.5 2215.8 L1207.5 2215.7 L1197.5 2215.7 L1197.5 2215.6 L1185.5 2215.6 L1185.5 2215.5 L1175.5 2215.5 L1175.5 2215.4 L1165.5 2215.4 L1165.5 2215.3 L1153.5 2215.3 L1153.5 2215.2 L1143.5 2215.2 L1143.5 2215.1 L1133.5 2215.1 L1133.5 2215 L1123.5 2215 L1123.5 2214.9 L1113.5 2214.9 L1113.5 2214.8 L1103.5 2214.8 L1103.5 2214.7 L1095.5 2214.7 L1095.5 2214.6 L1085.5 2214.6 L1085.5 2214.5 L1077.5 2214.5 L1077.5 2214.4 L1069.5 2214.4 L1069.5 2214.3 L1061.5 2214.3 L1061.5 2214.2 L1053.5 2214.2 L1053.5 2214.1 L1045.5 2214.1 L1045.5 2214 L1035.5 2214 L1035.5 2213.9 L1027.5 2213.9 L1027.5 2213.8 L1019.5 2213.8 L1019.5 2213.7 L1011.5 2213.7 L1011.5 2213.6 L1003.5 2213.6 L1003.5 2213.5 L997.5 2213.5 L997.5 2213.4 L991.5 2213.4 L991.5 2213.3 L985.5 2213.3 L985.5 2213.2 L979.5 2213.2 L979.5 2213.1 L975.5 2213.1 L975.5 2213 L971.5 2213 L971.5 2212.9 L965.5 2212.9 L965.5 2212.8 L963.5 2212.8 L963.5 2212.7 L959.5 2212.7 L959.5 2212.6 L955.5 2212.6 L955.5 2212.5 L951.5 2212.5 L951.5 2212.4 L949.5 2212.4 L949.5 2212.3 L947.5 2212.3 L947.5 2212.2 L945.5 2212.2 L945.5 2212.1 L943.5 2212.1 L943.5 2212 L941.5 2212 L941.5 2211.8 L939.5 2211.8 L939.5 2211.7 L937.5 2211.7 L937.5 2211.5 L935.5 2211.5 L935.5 2211.4 L933.5 2211.4 L933.5 2211.2 L931.5 2211.2 L931.5 2211 L929.5 2211 L929.5 2210.8 L927.5 2210.8 L927.5 2210.6 L925.5 2210.6 L925.5 2210.3 L923.5 2210.3 L923.5 2209.9 L921.5 2209.9 L921.5 2209.5 L919.5 2209.5 L919.5 2209 L917.5 2209 L917.5 2208.4 L915.5 2208.4 L915.5 2207.8 L913.5 2207.8 L913.5 2207.1 L911.5 2207.1 L911.5 2206.5 L909.5 2206.5 Z" fill="#000"/>
<path d="M1516.5 1418.5 L1517.5 1418.5 L1517.5 1416.9 L1518.5 1416.9 L1518.5 1415.2 L1519.5 1415.2 L1519.5 1413.6 L1520.5 1413.6 L1520.5 1412.4 L1521.5 1412.4 L1521.5 1411.5 L1522.5 1411.5 L1522.5 1410.9 L1523.5 1410.9 L1523.5 1410.4 L1524.5 1410.4 L1524.5 1409.9 L1525.5 1409.9 L1525.5 1409.4 L1526.5 1409.4 L1526.5 1409 L1527.5 1409 L1527.5 1408.5 L1528.5 1408.5 L1528.5 1408.1 L1529.5 1408.1 L1529.5 1407.7 L1530.5 1407.7 L1530.5 1407.4 L1531.5 1407.4 L1531.5 1407 L1532.5 1407 L1532.5 1406.7 L1533.5 1406.7 L1533.5 1406.4 L1534.5 1406.4 L1534.5 1406.1 L1535.5 1406.1 L1535.5 1405.8 L1536.5 1405.8 L1536.5 1405.6 L1537.5 1405.6 L1537.5 1405.3 L1538.5 1405.3 L1538.5 1405.1 L1539.5 1405.1 L1539.5 1404.8 L1540.5 1404.8 L1540.5 1404.6 L1541.5 1404.6 L1541.5 1404.4 L1542.5 1404.4 L1542.5 1404.2 L1543.5 1404.2 L1543.5 1404 L1544.5 1404 L1544.5 1403.8 L1545.5 1403.8 L1545.5 1403.6 L1546.5 1403.6 L1546.5 1403.4 L1547.5 1403.4 L1547.5 1403.3 L1548.5 1403.3 L1548.5 1403.1 L1549.5 1403.1 L1549.5 1402.9 L1550.5 1402.9 L1550.5 1402.7 L1551.5 1402.7 L1551.5 1402.5 L1552.5 1402.5 L1552.5 1402.3 L1553.5 1402.3 L1553.5 1402.1 L1554.5 1402.1 L1554.5 1401.9 L1555.5 1401.9 L1555.5 1401.7 L1556.5 1401.7 L1556.5 1401.5 L1557.5 1401.5 L1557.5 1401.3 L1558.5 1401.3 L1558.5 1401.1 L1559.5 1401.1 L1559.5 1401 L1560.5 1401 L1560.5 1400.8 L1561.5 1400.8 L1561.5 1400.6 L1562.5 1400.6 L1562.5 1400.4 L1563.5 1400.4 L1563.5 1400.2 L1564.5 1400.2 L1564.5 1400.1 L1565.5 1400.1 L1565.5 1399.9 L1566.5 1399.9 L1566.5 1399.7 L1567.5 1399.7 L1567.5 1399.6 L1568.5 1399.6 L1568.5 1399.4 L1569.5 1399.4 L1569.5 1399.2 L1570.5 1399.2 L1570.5 1399.1 L1571.5 1399.1 L1571.5 1398.9 L1572.5 1398.9 L1572.5 1398.8 L1573.5 1398.8 L1573.5 1398.6 L1574.5 1398.6 L1574.5 1398.5 L1575.5 1398.5 L1575.5 1398.3 L1576.5 1398.3 L1576.5 1398.2 L1577.5 1398.2 L1577.5 1398 L1578.5 1398 L1578.5 1397.9 L1579.5 1397.9 L1579.5 1397.7 L1580.5 1397.7 L1580.5 1397.6 L1581.5 1397.6 L1581.5 1397.4 L1582.5 1397.4 L1582.5 1397.3 L1583.5 1397.3 L1583.5 1397.2 L1584.5 1397.2 L1584.5 1397 L1585.5 1397 L1585.5 1396.9 L1586.5 1396.9 L1586.5 1396.8 L1587.5 1396.8 L1587.5 1396.6 L1588.5 1396.6 L1588.5 1396.5 L1589.5 1396.5 L1589.5 1396.4 L1590.5 1396.4 L1590.5 1396.2 L1591.5 1396.2 L1591.5 1396.1 L1592.5 1396.1 L1592.5 1396 L1593.5 1396 L1593.5 1395.9 L1594.5 1395.9 L1594.5 1395.7 L1595.5 1395.7 L1595.5 1395.6 L1596.5 1395.6 L1596.5 1395.5 L1597.5 1395.5 L1597.5 1395.4 L1598.5 1395.4 L1598.5 1395.3 L1599.5 1395.3 L1599.5 1395.2 L1600.5 1395.2 L1600.5 1395 L1601.5 1395 L1601.5 1394.9 L1602.5 1394.9 L1602.5 1394.8 L1603.5 1394.8 L1603.5 1394.7 L1604.5 1394.7 L1604.5 1394.6 L1605.5 1394.6 L1605.5 1394.5 L1606.5 1394.5 L1606.5 1394.4 L1607.5 1394.4 L1607.5 1394.3 L1608.5 1394.3 L1608.5 1394.1 L1609.5 1394.1 L1609.5 1394 L1610.5 1394 L1610.5 1393.9 L1611.5 1393.9 L1611.5 1393.8 L1612.5 1393.8 L1612.5 1393.7 L1613.5 1393.7 L1613.5 1393.6 L1614.5 1393.6 L1614.5 1393.5 L1615.5 1393.5 L1615.5 1393.4 L1616.5 1393.4 L1616.5 1393.3 L1617.5 1393.3 L1617.5 1393.2 L1618.5 1393.2 L1618.5 1393.1 L1619.5 1393.1 L1619.5 1393 L1620.5 1393 L1620.5 1392.9 L1621.5 1392.9 L1621.5 1392.8 L1622.5 1392.8 L1622.5 1392.7 L1623.5 1392.7 L1623.5 1392.6 L1624.5 1392.6 L1624.5 1392.5 L1625.5 1392.5 L1625.5 1392.4 L1626.5 1392.4 L1626.5 1392.3 L1627.5 1392.3 L1627.5 1392.2 L1628.5 1392.2 L1628.5 1392.1 L1629.5 1392.1 L1629.5 1392 L1630.5 1392 L1630.5 1391.9 L1631.5 1391.9 L1631.5 1391.8 L1632.5 1391.8 L1632.5 1391.7 L1633.5 1391.7 L1633.5 1391.6 L1634.5 1391.6 L1634.5 1391.5 L1636.5 1391.5 L1636.5 1391.4 L1637.5 1391.4 L1637.5 1391.3 L1638.5 1391.3 L1638.5 1391.2 L1639.5 1391.2 L1639.5 1391.1 L1640.5 1391.1 L1640.5 1391 L1641.5 1391 L1641.5 1390.9 L1642.5 1390.9 L1642.5 1390.8 L1644.5 1390.8 L1644.5 1390.7 L1645.5 1390.7 L1645.5 1390.6 L1646.5 1390.6 L1646.5 1390.5 L1647.5 1390.5 L1647.5 1390.4 L1648.5 1390.4 L1648.5 1390.3 L1650.5 1390.3 L1650.5 1390.2 L1651.5 1390.2 L1651.5 1390.1 L1652.5 1390.1 L1652.5 1390 L1653.5 1390 L1653.5 1389.9 L1655.5 1389.9 L1655.5 1389.8 L1656.5 1389.8 L1656.5 1389.7 L1657.5 1389.7 L1657.5 1389.6 L1658.5 1389.6 L1658.5 1389.5 L1660.5 1389.5 L1660.5 1389.4 L1661.5 1389.4 L1661.5 1389.3 L1662.5 1389.3 L1662.5 1389.2 L1664.5 1389.2 L1664.5 1389.1 L1665.5 1389.1 L1665.5 1389 L1666.5 1389 L1666.5 1388.9 L1668.5 1388.9 L1668.5 1388.8 L1669.5 1388.8 L1669.5 1388.7 L1670.5 1388.7 L1670.5 1388.6 L1672.5 1388.6 L1672.5 1388.5 L1673.5 1388.5 L1673.5 1388.4 L1674.5 1388.4 L1674.5 1388.3 L1676.5 1388.3 L1676.5 1388.2 L1677.5 1388.2 L1677.5 1388.1 L1678.5 1388.1 L1678.5 1388 L1680.5 1388 L1680.5 1387.9 L1681.5 1387.9 L1681.5 1387.8 L1683.5 1387.8 L1683.5 1387.7 L1684.5 1387.7 L1684.5 1387.6 L1685.5 1387.6 L1685.5 1387.5 L1687.5 1387.5 L1687.5 1387.4 L1688.5 1387.4 L1688.5 1387.3 L1690.5 1387.3 L1690.5 1387.2 L1691.5 1387.2 L1691.5 1387.1 L1693.5 1387.1 L1693.5 1387 L1694.5 1387 L1694.5 1386.9 L1695.5 1386.9 L1695.5 1386.8 L1697.5 1386.8 L1697.5 1386.7 L1698.5 1386.7 L1698.5 1386.6 L1700.5 1386.6 L1700.5 1386.5 L1701.5 1386.5 L1701.5 1386.4 L1703.5 1386.4 L1703.5 1386.3 L1704.5 1386.3 L1704.5 1386.2 L1705.5 1386.2 L1705.5 1386.1 L1707.5 1386.1 L1707.5 1386 L1708.5 1386 L1708.5 1385.9 L1710.5 1385.9 L1710.5 1385.8 L1711.5 1385.8 L1711.5 1385.7 L1713.5 1385.7 L1713.5 1385.6 L1714.5 1385.6 L1714.5 1385.5 L1716.5 1385.5 L1716.5 1385.4 L1717.5 1385.4 L1717.5 1385.3 L1719.5 1385.3 L1719.5 1385.2 L1720.5 1385.2 L1720.5 1385.1 L1722.5 1385.1 L1722.5 1385 L1723.5 1385 L1723.5 1384.9 L1725.5 1384.9 L1725.5 1384.8 L1726.5 1384.8 L1726.5 1384.7 L1728.5 1384.7 L1728.5 1384.6 L1729.5 1384.6 L1729.5 1384.5 L1731.5 1384.5 L1731.5 1384.4 L1733.5 1384.4 L1733.5 1384.3 L1734.5 1384.3 L1734.5 1384.2 L1736.5 1384.2 L1736.5 1384.1 L1737.5 1384.1 L1737.5 1384 L1739.5 1384 L1739.5 1383.9 L1741.5 1383.9 L1741.5 1383.8 L1742.5 1383.8 L1742.5 1383.7 L1744.5 1383.7 L1744.5 1383.6 L1746.5 1383.6 L1746.5 1383.5 L1747.5 1383.5 L1747.5 1383.4 L1749.5 1383.4 L1749.5 1383.3 L1751.5 1383.3 L1751.5 1383.2 L1753.5 1383.2 L1753.5 1383.1 L1754.5 1383.1 L1754.5 1383 L1756.5 1383 L1756.5 1382.9 L1758.5 1382.9 L1758.5 1382.8 L1760.5 1382.8 L1760.5 1382.7 L1762.5 1382.7 L1762.5 1382.6 L1764.5 1382.6 L1764.5 1382.5 L1765.5 1382.5 L1765.5 1382.4 L1767.5 1382.4 L1767.5 1382.3 L1769.5 1382.3 L1769.5 1382.2 L1772.5 1382.2 L1772.5 1382.1 L1774.5 1382.1 L1774.5 1382 L1776.5 1382 L1776.5 1381.9 L1778.5 1381.9 L1778.5 1381.8 L1780.5 1381.8 L1780.5 1381.7 L1782.5 1381.7 L1782.5 1381.6 L1784.5 1381.6 L1784.5 1381.5 L1786.5 1381.5 L1786.5 1381.4 L1789.5 1381.4 L1789.5 1381.3 L1791.5 1381.3 L1791.5 1381.2 L1793.5 1381.2 L1793.5 1381.1 L1796.5 1381.1 L1796.5 1381 L1798.5 1381 L1798.5 1380.9 L1800.5 1380.9 L1800.5 1380.8 L1803.5 1380.8 L1803.5 1380.7 L1805.5 1380.7 L1805.5 1380.6 L1807.5 1380.6 L1807.5 1380.5 L1810.5 1380.5 L1810.5 1380.4 L1812.5 1380.4 L1812.5 1380.3 L1815.5 1380.3 L1815.5 1380.2 L1817.5 1380.2 L1817.5 1380.1 L1820.5 1380.1 L1820.5 1380 L1822.5 1380 L1822.5 1379.9 L1825.5 1379.9 L1825.5 1379.8 L1828.5 1379.8 L1828.5 1379.7 L1830.5 1379.7 L1830.5 1379.6 L1833.5 1379.6 L1833.5 1379.5 L1836.5 1379.5 L1836.5 1379.4 L1838.5 1379.4 L1838.5 1379.3 L1841.5 1379.3 L1841.5 1379.2 L1844.5 1379.2 L1844.5 1379.1 L1847.5 1379.1 L1847.5 1379 L1850.5 1379 L1850.5 1378.9 L1852.5 1378.9 L1852.5 1378.8 L1855.5 1378.8 L1855.5 1378.7 L1858.5 1378.7 L1858.5 1378.6 L1861.5 1378.6 L1861.5 1378.5 L1864.5 1378.5 L1864.5 1378.4 L1867.5 1378.4 L1867.5 1378.3 L1870.5 1378.3 L1870.5 1378.2 L1873.5 1378.2 L1873.5 1378.1 L1875.5 1378.1 L1875.5 1378 L1878.5 1378 L1878.5 1377.9 L1882.5 1377.9 L1882.5 1377.8 L1885.5 1377.8 L1885.5 1377.7 L1888.5 1377.7 L1888.5 1377.6 L1891.5 1377.6 L1891.5 1377.5 L1894.5 1377.5 L1894.5 1377.4 L1898.5 1377.4 L1898.5 1377.3 L1901.5 1377.3 L1901.5 1377.2 L1905.5 1377.2 L1905.5 1377.1 L1908.5 1377.1 L1908.5 1377 L1911.5 1377 L1911.5 1376.9 L1915.5 1376.9 L1915.5 1376.8 L1919.5 1376.8 L1919.5 1376.7 L1922.5 1376.7 L1922.5 1376.6 L1926.5 1376.6 L1926.5 1376.5 L1929.5 1376.5 L1929.5 1376.4 L1933.5 1376.4 L1933.5 1376.3 L1937.5 1376.3 L1937.5 1376.2 L1940.5 1376.2 L1940.5 1376.1 L1944.5 1376.1 L1944.5 1376 L1947.5 1376 L1947.5 1375.9 L1950.5 1375.9 L1950.5 1375.8 L1954.5 1375.8 L1954.5 1375.7 L1957.5 1375.7 L1957.5 1375.6 L1960.5 1375.6 L1960.5 1375.5 L1964.5 1375.5 L1964.5 1375.4 L1967.5 1375.4 L1967.5 1375.3 L1970.5 1375.3 L1970.5 1375.2 L1973.5 1375.2 L1973.5 1375.1 L1976.5 1375.1 L1976.5 1375 L1979.5 1375 L1979.5 1374.9 L1982.5 1374.9 L1982.5 1374.8 L1985.5 1374.8 L1985.5 1374.7 L1988.5 1374.7 L1988.5 1374.6 L1990.5 1374.6 L1990.5 1374.5 L1993.5 1374.5 L1993.5 1374.4 L1996.5 1374.4 L1996.5 1374.3 L1998.5 1374.3 L1998.5 1374.2 L2001.5 1374.2 L2001.5 1374.1 L2004.5 1374.1 L2004.5 1374 L2006.5 1374 L2006.5 1373.9 L2009.5 1373.9 L2009.5 1373.8 L2012.5 1373.8 L2012.5 1373.7 L2014.5 1373.7 L2014.5 1373.6 L2017.5 1373.6 L2017.5 1373.5 L2019.5 1373.5 L2019.5 1373.4 L2022.5 1373.4 L2022.5 1373.3 L2024.5 1373.3 L2024.5 1373.2 L2027.5 1373.2 L2027.5 1373.1 L2029.5 1373.1 L2029.5 1373 L2032.5 1373 L2032.5 1372.9 L2034.5 1372.9 L2034.5 1372.8 L2036.5 1372.8 L2036.5 1372.7 L2039.5 1372.7 L2039.5 1372.6 L2041.5 1372.6 L2041.5 1372.5 L2044.5 1372.5 L2044.5 1372.4 L2046.5 1372.4 L2046.5 1372.3 L2048.5 1372.3 L2048.5 1372.2 L2051.5 1372.2 L2051.5 1372.1 L2053.5 1372.1 L2053.5 1372 L2055.5 1372 L2055.5 1371.9 L2075.5 1371.9 L2075.5 1390.9 L2073.5 1390.9 L2073.5 1391 L2071.5 1391 L2071.5 1391.1 L2069.5 1391.1 L2069.5 1391.2 L2066.5 1391.2 L2066.5 1391.3 L2064.5 1391.3 L2064.5 1391.4 L2062.5 1391.4 L2062.5 1391.5 L2059.5 1391.5 L2059.5 1391.6 L2057.5 1391.6 L2057.5 1391.7 L2054.5 1391.7 L2054.5 1391.8 L2052.5 1391.8 L2052.5 1391.9 L2050.5 1391.9 L2050.5 1392 L2047.5 1392 L2047.5 1392.1 L2045.5 1392.1 L2045.5 1392.2 L2042.5 1392.2 L2042.5 1392.3 L2040.5 1392.3 L2040.5 1392.4 L2037.5 1392.4 L2037.5 1392.5 L2035.5 1392.5 L2035.5 1392.6 L2032.5 1392.6 L2032.5 1392.7 L2030.5 1392.7 L2030.5 1392.8 L2027.5 1392.8 L2027.5 1392.9 L2024.5 1392.9 L2024.5 1393 L2022.5 1393 L2022.5 1393.1 L2019.5 1393.1 L2019.5 1393.2 L2016.5 1393.2 L2016.5 1393.3 L2014.5 1393.3 L2014.5 1393.4 L2011.5 1393.4 L2011.5 1393.5 L2008.5 1393.5 L2008.5 1393.6 L2006.5 1393.6 L2006.5 1393.7 L2003.5 1393.7 L2003.5 1393.8 L2000.5 1393.8 L2000.5 1393.9 L1997.5 1393.9 L1997.5 1394 L1994.5 1394 L1994.5 1394.1 L1991.5 1394.1 L1991.5 1394.2 L1988.5 1394.2 L1988.5 1394.3 L1985.5 1394.3 L1985.5 1394.4 L1982.5 1394.4 L1982.5 1394.5 L1978.5 1394.5 L1978.5 1394.6 L1975.5 1394.6 L1975.5 1394.7 L1972.5 1394.7 L1972.5 1394.8 L1968.5 1394.8 L1968.5 1394.9 L1965.5 1394.9 L1965.5 1395 L1962.5 1395 L1962.5 1395.1 L1958.5 1395.1 L1958.5 1395.2 L1955.5 1395.2 L1955.5 1395.3 L1951.5 1395.3 L1951.5 1395.4 L1947.5 1395.4 L1947.5 1395.5 L1944.5 1395.5 L1944.5 1395.6 L1940.5 1395.6 L1940.5 1395.7 L1937.5 1395.7 L1937.5 1395.8 L1933.5 1395.8 L1933.5 1395.9 L1929.5 1395.9 L1929.5 1396 L1926.5 1396 L1926.5 1396.1 L1923.5 1396.1 L1923.5 1396.2 L1919.5 1396.2 L1919.5 1396.3 L1916.5 1396.3 L1916.5 1396.4 L1912.5 1396.4 L1912.5 1396.5 L1909.5 1396.5 L1909.5 1396.6 L1906.5 1396.6 L1906.5 1396.7 L1903.5 1396.7 L1903.5 1396.8 L1900.5 1396.8 L1900.5 1396.9 L1896.5 1396.9 L1896.5 1397 L1893.5 1397 L1893.5 1397.1 L1891.5 1397.1 L1891.5 1397.2 L1888.5 1397.2 L1888.5 1397.3 L1885.5 1397.3 L1885.5 1397.4 L1882.5 1397.4 L1882.5 1397.5 L1879.5 1397.5 L1879.5 1397.6 L1876.5 1397.6 L1876.5 1397.7 L1873.5 1397.7 L1873.5 1397.8 L1870.5 1397.8 L1870.5 1397.9 L1868.5 1397.9 L1868.5 1398 L1865.5 1398 L1865.5 1398.1 L1862.5 1398.1 L1862.5 1398.2 L1859.5 1398.2 L1859.5 1398.3 L1856.5 1398.3 L1856.5 1398.4 L1854.5 1398.4 L1854.5 1398.5 L1851.5 1398.5 L1851.5 1398.6 L1848.5 1398.6 L1848.5 1398.7 L1846.5 1398.7 L1846.5 1398.8 L1843.5 1398.8 L1843.5 1398.9 L1840.5 1398.9 L1840.5 1399 L1838.5 1399 L1838.5 1399.1 L1835.5 1399.1 L1835.5 1399.2 L1833.5 1399.2 L1833.5 1399.3 L1830.5 1399.3 L1830.5 1399.4 L1828.5 1399.4 L1828.5 1399.5 L1825.5 1399.5 L1825.5 1399.6 L1823.5 1399.6 L1823.5 1399.7 L1821.5 1399.7 L1821.5 1399.8 L1818.5 1399.8 L1818.5 1399.9 L1816.5 1399.9 L1816.5 1400 L1814.5 1400 L1814.5 1400.1 L1811.5 1400.1 L1811.5 1400.2 L1809.5 1400.2 L1809.5 1400.3 L1807.5 1400.3 L1807.5 1400.4 L1804.5 1400.4 L1804.5 1400.5 L1802.5 1400.5 L1802.5 1400.6 L1800.5 1400.6 L1800.5 1400.7 L1798.5 1400.7 L1798.5 1400.8 L1796.5 1400.8 L1796.5 1400.9 L1794.5 1400.9 L1794.5 1401 L1792.5 1401 L1792.5 1401.1 L1790.5 1401.1 L1790.5 1401.2 L1787.5 1401.2 L1787.5 1401.3 L1785.5 1401.3 L1785.5 1401.4 L1783.5 1401.4 L1783.5 1401.5 L1782.5 1401.5 L1782.5 1401.6 L1780.5 1401.6 L1780.5 1401.7 L1778.5 1401.7 L1778.5 1401.8 L1776.5 1401.8 L1776.5 1401.9 L1774.5 1401.9 L1774.5 1402 L1772.5 1402 L1772.5 1402.1 L1771.5 1402.1 L1771.5 1402.2 L1769.5 1402.2 L1769.5 1402.3 L1767.5 1402.3 L1767.5 1402.4 L1765.5 1402.4 L1765.5 1402.5 L1764.5 1402.5 L1764.5 1402.6 L1762.5 1402.6 L1762.5 1402.7 L1760.5 1402.7 L1760.5 1402.8 L1759.5 1402.8 L1759.5 1402.9 L1757.5 1402.9 L1757.5 1403 L1755.5 1403 L1755.5 1403.1 L1754.5 1403.1 L1754.5 1403.2 L1752.5 1403.2 L1752.5 1403.3 L1751.5 1403.3 L1751.5 1403.4 L1749.5 1403.4 L1749.5 1403.5 L1747.5 1403.5 L1747.5 1403.6 L1746.5 1403.6 L1746.5 1403.7 L1744.5 1403.7 L1744.5 1403.8 L1743.5 1403.8 L1743.5 1403.9 L1741.5 1403.9 L1741.5 1404 L1740.5 1404 L1740.5 1404.1 L1738.5 1404.1 L1738.5 1404.2 L1737.5 1404.2 L1737.5 1404.3 L1735.5 1404.3 L1735.5 1404.4 L1734.5 1404.4 L1734.5 1404.5 L1732.5 1404.5 L1732.5 1404.6 L1731.5 1404.6 L1731.5 1404.7 L1729.5 1404.7 L1729.5 1404.8 L1728.5 1404.8 L1728.5 1404.9 L1726.5 1404.9 L1726.5 1405 L1725.5 1405 L1725.5 1405.1 L1723.5 1405.1 L1723.5 1405.2 L1722.5 1405.2 L1722.5 1405.3 L1721.5 1405.3 L1721.5 1405.4 L1719.5 1405.4 L1719.5 1405.5 L1718.5 1405.5 L1718.5 1405.6 L1716.5 1405.6 L1716.5 1405.7 L1715.5 1405.7 L1715.5 1405.8 L1713.5 1405.8 L1713.5 1405.9 L1712.5 1405.9 L1712.5 1406 L1711.5 1406 L1711.5 1406.1 L1709.5 1406.1 L1709.5 1406.2 L1708.5 1406.2 L1708.5 1406.3 L1706.5 1406.3 L1706.5 1406.4 L1705.5 1406.4 L1705.5 1406.5 L1703.5 1406.5 L1703.5 1406.6 L1702.5 1406.6 L1702.5 1406.7 L1701.5 1406.7 L1701.5 1406.8 L1699.5 1406.8 L1699.5 1406.9 L1698.5 1406.9 L1698.5 1407 L1696.5 1407 L1696.5 1407.1 L1695.5 1407.1 L1695.5 1407.2 L1694.5 1407.2 L1694.5 1407.3 L1692.5 1407.3 L1692.5 1407.4 L1691.5 1407.4 L1691.5 1407.5 L1690.5 1407.5 L1690.5 1407.6 L1688.5 1407.6 L1688.5 1407.7 L1687.5 1407.7 L1687.5 1407.8 L1686.5 1407.8 L1686.5 1407.9 L1684.5 1407.9 L1684.5 1408 L1683.5 1408 L1683.5 1408.1 L1682.5 1408.1 L1682.5 1408.2 L1680.5 1408.2 L1680.5 1408.3 L1679.5 1408.3 L1679.5 1408.4 L1678.5 1408.4 L1678.5 1408.5 L1676.5 1408.5 L1676.5 1408.6 L1675.5 1408.6 L1675.5 1408.7 L1674.5 1408.7 L1674.5 1408.8 L1673.5 1408.8 L1673.5 1408.9 L1671.5 1408.9 L1671.5 1409 L1670.5 1409 L1670.5 1409.1 L1669.5 1409.1 L1669.5 1409.2 L1668.5 1409.2 L1668.5 1409.3 L1666.5 1409.3 L1666.5 1409.4 L1665.5 1409.4 L1665.5 1409.5 L1664.5 1409.5 L1664.5 1409.6 L1663.5 1409.6 L1663.5 1409.7 L1662.5 1409.7 L1662.5 1409.8 L1660.5 1409.8 L1660.5 1409.9 L1659.5 1409.9 L1659.5 1410 L1658.5 1410 L1658.5 1410.1 L1657.5 1410.1 L1657.5 1410.2 L1656.5 1410.2 L1656.5 1410.3 L1655.5 1410.3 L1655.5 1410.4 L1654.5 1410.4 L1654.5 1410.5 L1652.5 1410.5 L1652.5 1410.6 L1651.5 1410.6 L1651.5 1410.7 L1650.5 1410.7 L1650.5 1410.8 L1649.5 1410.8 L1649.5 1410.9 L1648.5 1410.9 L1648.5 1411 L1647.5 1411 L1647.5 1411.1 L1646.5 1411.1 L1646.5 1411.2 L1645.5 1411.2 L1645.5 1411.3 L1644.5 1411.3 L1644.5 1411.4 L1643.5 1411.4 L1643.5 1411.5 L1642.5 1411.5 L1642.5 1411.6 L1641.5 1411.6 L1641.5 1411.7 L1640.5 1411.7 L1640.5 1411.8 L1639.5 1411.8 L1639.5 1411.9 L1638.5 1411.9 L1638.5 1412 L1637.5 1412 L1637.5 1412.1 L1636.5 1412.1 L1636.5 1412.2 L1635.5 1412.2 L1635.5 1412.3 L1634.5 1412.3 L1634.5 1412.4 L1633.5 1412.4 L1633.5 1412.5 L1632.5 1412.5 L1632.5 1412.6 L1631.5 1412.6 L1631.5 1412.7 L1630.5 1412.7 L1630.5 1412.8 L1629.5 1412.8 L1629.5 1412.9 L1628.5 1412.9 L1628.5 1413 L1627.5 1413 L1627.5 1413.1 L1626.5 1413.1 L1626.5 1413.3 L1625.5 1413.3 L1625.5 1413.4 L1624.5 1413.4 L1624.5 1413.5 L1623.5 1413.5 L1623.5 1413.6 L1622.5 1413.6 L1622.5 1413.7 L1621.5 1413.7 L1621.5 1413.8 L1620.5 1413.8 L1620.5 1413.9 L1619.5 1413.9 L1619.5 1414 L1618.5 1414 L1618.5 1414.2 L1617.5 1414.2 L1617.5 1414.3 L1616.5 1414.3 L1616.5 1414.4 L1615.5 1414.4 L1615.5 1414.5 L1614.5 1414.5 L1614.5 1414.6 L1613.5 1414.6 L1613.5 1414.7 L1612.5 1414.7 L1612.5 1414.9 L1611.5 1414.9 L1611.5 1415 L1610.5 1415 L1610.5 1415.1 L1609.5 1415.1 L1609.5 1415.2 L1608.5 1415.2 L1608.5 1415.4 L1607.5 1415.4 L1607.5 1415.5 L1606.5 1415.5 L1606.5 1415.6 L1605.5 1415.6 L1605.5 1415.8 L1604.5 1415.8 L1604.5 1415.9 L1603.5 1415.9 L1603.5 1416 L1602.5 1416 L1602.5 1416.2 L1601.5 1416.2 L1601.5 1416.3 L1600.5 1416.3 L1600.5 1416.4 L1599.5 1416.4 L1599.5 1416.6 L1598.5 1416.6 L1598.5 1416.7 L1597.5 1416.7 L1597.5 1416.9 L1596.5 1416.9 L1596.5 1417 L1595.5 1417 L1595.5 1417.2 L1594.5 1417.2 L1594.5 1417.3 L1593.5 1417.3 L1593.5 1417.5 L1592.5 1417.5 L1592.5 1417.6 L1591.5 1417.6 L1591.5 1417.8 L1590.5 1417.8 L1590.5 1417.9 L1589.5 1417.9 L1589.5 1418.1 L1588.5 1418.1 L1588.5 1418.2 L1587.5 1418.2 L1587.5 1418.4 L1586.5 1418.4 L1586.5 1418.6 L1585.5 1418.6 L1585.5 1418.7 L1584.5 1418.7 L1584.5 1418.9 L1583.5 1418.9 L1583.5 1419.1 L1582.5 1419.1 L1582.5 1419.2 L1581.5 1419.2 L1581.5 1419.4 L1580.5 1419.4 L1580.5 1419.6 L1579.5 1419.6 L1579.5 1419.8 L1578.5 1419.8 L1578.5 1420 L1577.5 1420 L1577.5 1420.1 L1576.5 1420.1 L1576.5 1420.3 L1575.5 1420.3 L1575.5 1420.5 L1574.5 1420.5 L1574.5 1420.7 L1573.5 1420.7 L1573.5 1420.9 L1572.5 1420.9 L1572.5 1421.1 L1571.5 1421.1 L1571.5 1421.3 L1570.5 1421.3 L1570.5 1421.5 L1569.5 1421.5 L1569.5 1421.7 L1568.5 1421.7 L1568.5 1421.9 L1567.5 1421.9 L1567.5 1422.1 L1566.5 1422.1 L1566.5 1422.3 L1565.5 1422.3 L1565.5 1422.4 L1564.5 1422.4 L1564.5 1422.6 L1563.5 1422.6 L1563.5 1422.8 L1562.5 1422.8 L1562.5 1423 L1561.5 1423 L1561.5 1423.2 L1560.5 1423.2 L1560.5 1423.4 L1559.5 1423.4 L1559.5 1423.6 L1558.5 1423.6 L1558.5 1423.8 L1557.5 1423.8 L1557.5 1424.1 L1556.5 1424.1 L1556.5 1424.3 L1555.5 1424.3 L1555.5 1424.6 L1554.5 1424.6 L1554.5 1424.8 L1553.5 1424.8 L1553.5 1425.1 L1552.5 1425.1 L1552.5 1425.4 L1551.5 1425.4 L1551.5 1425.7 L1550.5 1425.7 L1550.5 1426 L1549.5 1426 L1549.5 1426.4 L1548.5 1426.4 L1548.5 1426.7 L1547.5 1426.7 L1547.5 1427.1 L1546.5 1427.1 L1546.5 1427.5 L1545.5 1427.5 L1545.5 1428 L1544.5 1428 L1544.5 1428.4 L1543.5 1428.4 L1543.5 1428.9 L1542.5 1428.9 L1542.5 1429.4 L1541.5 1429.4 L1541.5 1429.9 L1540.5 1429.9 L1540.5 1430.5 L1539.5 1430.5 L1539.5 1431.4 L1538.5 1431.4 L1538.5 1432.6 L1537.5 1432.6 L1537.5 1434.2 L1536.5 1434.2 L1536.5 1435.9 L1535.5 1435.9 L1535.5 1437.5 L1516.5 1437.5 Z" fill="#000"/>
<rect x="316" y="3319" width="10" height="38" fill="#000"/>
<path d="M316 3234.6 L317.5 3234.6 L317.5 3225.1 L319.5 3225.1 L319.5 3216.6 L321.5 3216.6 L321.5 3212.6 L323.5 3212.6 L323.5 3200.1 L325.5 3200.1 L325.5 3189.8 L327.5 3189.8 L327.5 3182.7 L329.5 3182.7 L329.5 3182.2 L331.5 3182.2 L331.5 3172.5 L333.5 3172.5 L333.5 3171 L335.5 3171 L335.5 3167 L337.5 3167 L337.5 3156 L339.5 3156 L339.5 3153.7 L341.5 3153.7 L341.5 3152.4 L343.5 3152.4 L343.5 3147.2 L345.5 3147.2 L345.5 3144.8 L347.5 3144.8 L347.5 3143.5 L349.5 3143.5 L349.5 3140 L351.5 3140 L351.5 3137 L353.5 3137 L353.5 3131.9 L357.5 3131.9 L357.5 3130.4 L359.5 3130.4 L359.5 3128.4 L361.5 3128.4 L361.5 3124.3 L363.5 3124.3 L363.5 3123.5 L365.5 3123.5 L365.5 3121.5 L367.5 3121.5 L367.5 3116.6 L369.5 3116.6 L369.5 3114.7 L371.5 3114.7 L371.5 3112 L373.5 3112 L373.5 3109.9 L375.5 3109.9 L375.5 3108.5 L377.5 3108.5 L377.5 3101.7 L383.5 3101.7 L383.5 3095.4 L385.5 3095.4 L385.5 3094.8 L389.5 3094.8 L389.5 3092.1 L391.5 3092.1 L391.5 3091.5 L393.5 3091.5 L393.5 3091.4 L395.5 3091.4 L395.5 3088.1 L397.5 3088.1 L397.5 3085.8 L399.5 3085.8 L399.5 3084.8 L401.5 3084.8 L401.5 3083.4 L403.5 3083.4 L403.5 3081.5 L405.5 3081.5 L405.5 3081.3 L409.5 3081.3 L409.5 3078.5 L413.5 3078.5 L413.5 3076.2 L415.5 3076.2 L415.5 3074.9 L417.5 3074.9 L417.5 3072.9 L419.5 3072.9 L419.5 3069.6 L423.5 3069.6 L423.5 3068.3 L425.5 3068.3 L425.5 3064.4 L431.5 3064.4 L431.5 3063.6 L433.5 3063.6 L433.5 3060.8 L435.5 3060.8 L435.5 3055.9 L441.5 3055.9 L441.5 3053.9 L449.5 3053.9 L449.5 3053.8 L453.5 3053.8 L453.5 3052.5 L455.5 3052.5 L455.5 3051.7 L457.5 3051.7 L457.5 3050.5 L461.5 3050.5 L461.5 3045.9 L467.5 3045.9 L467.5 3044.5 L471.5 3044.5 L471.5 3042.9 L477.5 3042.9 L477.5 3039.7 L483.5 3039.7 L483.5 3039.5 L487.5 3039.5 L487.5 3036.5 L493.5 3036.5 L493.5 3034.1 L495.5 3034.1 L495.5 3032.9 L497.5 3032.9 L497.5 3032.4 L501.5 3032.4 L501.5 3029.6 L503.5 3029.6 L503.5 3029.4 L505.5 3029.4 L505.5 3025.8 L509.5 3025.8 L509.5 3025.6 L511.5 3025.6 L511.5 3024.5 L517.5 3024.5 L517.5 3023.6 L519.5 3023.6 L519.5 3021 L525.5 3021 L525.5 3018.5 L529.5 3018.5 L529.5 3017.6 L533.5 3017.6 L533.5 3016.6 L537.5 3016.6 L537.5 3014.9 L547.5 3014.9 L547.5 3010.6 L557.5 3010.6 L557.5 3007.4 L561.5 3007.4 L561.5 3006.2 L567.5 3006.2 L567.5 3004.4 L569.5 3004.4 L569.5 3002.2 L573.5 3002.2 L573.5 2999.9 L579.5 2999.9 L579.5 2997 L585.5 2997 L585.5 2996.9 L587.5 2996.9 L587.5 2994.4 L591.5 2994.4 L591.5 2991.5 L595.5 2991.5 L595.5 2991.1 L597.5 2991.1 L597.5 2991 L603.5 2991 L603.5 2989.3 L611.5 2989.3 L611.5 2988.5 L615.5 2988.5 L615.5 2986.9 L617.5 2986.9 L617.5 2980.7 L643.5 2980.7 L643.5 2980.4 L647.5 2980.4 L647.5 2977.9 L655.5 2977.9 L655.5 2976 L657.5 2976 L657.5 2975.3 L667.5 2975.3 L667.5 2975.2 L669.5 2975.2 L669.5 2975.1 L673.5 2975.1 L673.5 2974.3 L675.5 2974.3 L675.5 2972 L681.5 2972 L681.5 2971.8 L689.5 2971.8 L689.5 2969.8 L691.5 2969.8 L691.5 2968.8 L693.5 2968.8 L693.5 2968.5 L697.5 2968.5 L697.5 2966.6 L701.5 2966.6 L701.5 2965.5 L703.5 2965.5 L703.5 2965.1 L709.5 2965.1 L709.5 2964.3 L713.5 2964.3 L713.5 2964.2 L715.5 2964.2 L715.5 2963.2 L717.5 2963.2 L717.5 2963.1 L721.5 2963.1 L721.5 2961.7 L727.5 2961.7 L727.5 2959.2 L731.5 2959.2 L731.5 2959.1 L733.5 2959.1 L733.5 2957.5 L741.5 2957.5 L741.5 2955.8 L755.5 2955.8 L755.5 2953.8 L757.5 2953.8 L757.5 2953.6 L759.5 2953.6 L759.5 2953.2 L763.5 2953.2 L763.5 2951.7 L769.5 2951.7 L769.5 2951.1 L771.5 2951.1 L771.5 2948.9 L773.5 2948.9 L773.5 2948.8 L777.5 2948.8 L777.5 2948.4 L785.5 2948.4 L785.5 2946.8 L791.5 2946.8 L791.5 2945.9 L797.5 2945.9 L797.5 2945.6 L799.5 2945.6 L799.5 2944.8 L809.5 2944.8 L809.5 2942.1 L813.5 2942.1 L813.5 2941.1 L825.5 2941.1 L825.5 2939.7 L827.5 2939.7 L827.5 2939.2 L833.5 2939.2 L833.5 2938 L835.5 2938 L835.5 2935 L849.5 2935 L849.5 2931.3 L853.5 2931.3 L853.5 2931 L874.5 2931 L874.5 2951 L872.5 2951 L872.5 2953.4 L868.5 2953.4 L868.5 2957.1 L866.5 2957.1 L866.5 2957.9 L860.5 2957.9 L860.5 2959.8 L858.5 2959.8 L858.5 2960.3 L852.5 2960.3 L852.5 2962 L844.5 2962 L844.5 2963 L842.5 2963 L842.5 2963.4 L840.5 2963.4 L840.5 2967.6 L822.5 2967.6 L822.5 2968.1 L816.5 2968.1 L816.5 2971.3 L800.5 2971.3 L800.5 2971.5 L788.5 2971.5 L788.5 2972.8 L782.5 2972.8 L782.5 2975 L774.5 2975 L774.5 2975.9 L772.5 2975.9 L772.5 2976.1 L768.5 2976.1 L768.5 2980.8 L756.5 2980.8 L756.5 2981.1 L746.5 2981.1 L746.5 2982.4 L744.5 2982.4 L744.5 2984.6 L740.5 2984.6 L740.5 2986.2 L728.5 2986.2 L728.5 2989.9 L708.5 2989.9 L708.5 2992.5 L704.5 2992.5 L704.5 2998.3 L683.5 2998.3 L683.5 2998 L680.5 2998 L680.5 2998.3 L674.5 2998.3 L674.5 2998.6 L672.5 2998.6 L672.5 3000.8 L666.5 3000.8 L666.5 3001.9 L662.5 3001.9 L662.5 3005.1 L642.5 3005.1 L642.5 3007.5 L640.5 3007.5 L640.5 3007.8 L634.5 3007.8 L634.5 3008.5 L630.5 3008.5 L630.5 3009.5 L628.5 3009.5 L628.5 3013 L622.5 3013 L622.5 3013.2 L614.5 3013.2 L614.5 3014.6 L610.5 3014.6 L610.5 3015.2 L606.5 3015.2 L606.5 3016.9 L604.5 3016.9 L604.5 3019.8 L602.5 3019.8 L602.5 3020 L598.5 3020 L598.5 3020.1 L596.5 3020.1 L596.5 3021 L592.5 3021 L592.5 3027.3 L586.5 3027.3 L586.5 3028.2 L576.5 3028.2 L576.5 3031.2 L574.5 3031.2 L574.5 3032.3 L570.5 3032.3 L570.5 3033.9 L566.5 3033.9 L566.5 3035.5 L564.5 3035.5 L564.5 3036 L556.5 3036 L556.5 3038.7 L548.5 3038.7 L548.5 3040.6 L544.5 3040.6 L544.5 3042.2 L542.5 3042.2 L542.5 3043.2 L538.5 3043.2 L538.5 3043.6 L536.5 3043.6 L536.5 3046.4 L524.5 3046.4 L524.5 3049.4 L522.5 3049.4 L522.5 3049.6 L520.5 3049.6 L520.5 3052.6 L516.5 3052.6 L516.5 3052.9 L514.5 3052.9 L514.5 3054.1 L512.5 3054.1 L512.5 3059.5 L506.5 3059.5 L506.5 3060.4 L502.5 3060.4 L502.5 3061 L500.5 3061 L500.5 3061.5 L496.5 3061.5 L496.5 3063.6 L490.5 3063.6 L490.5 3064.6 L486.5 3064.6 L486.5 3067.7 L484.5 3067.7 L484.5 3069.6 L480.5 3069.6 L480.5 3071.6 L476.5 3071.6 L476.5 3071.7 L474.5 3071.7 L474.5 3072.5 L472.5 3072.5 L472.5 3075.2 L468.5 3075.2 L468.5 3076.3 L464.5 3076.3 L464.5 3078.1 L460.5 3078.1 L460.5 3078.8 L458.5 3078.8 L458.5 3082.6 L452.5 3082.6 L452.5 3083.6 L450.5 3083.6 L450.5 3085.1 L448.5 3085.1 L448.5 3086.6 L444.5 3086.6 L444.5 3088.3 L442.5 3088.3 L442.5 3089.8 L438.5 3089.8 L438.5 3092.9 L436.5 3092.9 L436.5 3094.9 L434.5 3094.9 L434.5 3096.2 L432.5 3096.2 L432.5 3099.3 L428.5 3099.3 L428.5 3102.4 L422.5 3102.4 L422.5 3103.4 L420.5 3103.4 L420.5 3104.8 L418.5 3104.8 L418.5 3105.8 L416.5 3105.8 L416.5 3108.1 L414.5 3108.1 L414.5 3111.4 L412.5 3111.4 L412.5 3111.5 L410.5 3111.5 L410.5 3112.1 L408.5 3112.1 L408.5 3118.7 L402.5 3118.7 L402.5 3122 L400.5 3122 L400.5 3122.4 L396.5 3122.4 L396.5 3128.5 L394.5 3128.5 L394.5 3129.9 L392.5 3129.9 L392.5 3132 L390.5 3132 L390.5 3134.7 L388.5 3134.7 L388.5 3136.6 L386.5 3136.6 L386.5 3141.5 L384.5 3141.5 L384.5 3143.5 L382.5 3143.5 L382.5 3144.3 L380.5 3144.3 L380.5 3148.4 L378.5 3148.4 L378.5 3150.4 L376.5 3150.4 L376.5 3152.7 L372.5 3152.7 L372.5 3157 L370.5 3157 L370.5 3160 L368.5 3160 L368.5 3163.5 L366.5 3163.5 L366.5 3164.8 L364.5 3164.8 L364.5 3167.2 L362.5 3167.2 L362.5 3172.4 L360.5 3172.4 L360.5 3173.7 L358.5 3173.7 L358.5 3176 L356.5 3176 L356.5 3187 L354.5 3187 L354.5 3191 L352.5 3191 L352.5 3192.5 L350.5 3192.5 L350.5 3202.2 L348.5 3202.2 L348.5 3202.7 L346.5 3202.7 L346.5 3209.8 L344.5 3209.8 L344.5 3220.1 L342.5 3220.1 L342.5 3232.6 L340.5 3232.6 L340.5 3236.6 L338.5 3236.6 L338.5 3245.1 L336.5 3245.1 L336.5 3254.6 L334.5 3254.6 L334.5 3266.8 L332.5 3266.8 L332.5 3277.8 L330.5 3277.8 L330.5 3308.4 L316 3308.4 Z" fill="#000"/>
<path d="M932.5 2802.5 L933.5 2802.5 L933.5 2799.5 L935.5 2799.5 L935.5 2796.6 L936.5 2796.6 L936.5 2794.3 L938.5 2794.3 L938.5 2791.3 L939.5 2791.3 L939.5 2788.8 L941.5 2788.8 L941.5 2787.8 L942.5 2787.8 L942.5 2785 L944.5 2785 L944.5 2782 L945.5 2782 L945.5 2781.6 L947.5 2781.6 L947.5 2778.9 L948.5 2778.9 L948.5 2774.4 L950.5 2774.4 L950.5 2772.5 L951.5 2772.5 L951.5 2772.2 L953.5 2772.2 L953.5 2771.3 L954.5 2771.3 L954.5 2767.7 L956.5 2767.7 L956.5 2764.9 L957.5 2764.9 L957.5 2763.5 L959.5 2763.5 L959.5 2761 L960.5 2761 L960.5 2758 L962.5 2758 L962.5 2757 L963.5 2757 L963.5 2755.7 L965.5 2755.7 L965.5 2753.6 L966.5 2753.6 L966.5 2752.4 L968.5 2752.4 L968.5 2751.5 L969.5 2751.5 L969.5 2750.5 L971.5 2750.5 L971.5 2747.3 L972.5 2747.3 L972.5 2745 L974.5 2745 L974.5 2744.5 L975.5 2744.5 L975.5 2742.4 L977.5 2742.4 L977.5 2740.2 L978.5 2740.2 L978.5 2739.5 L980.5 2739.5 L980.5 2737.4 L981.5 2737.4 L981.5 2735.2 L983.5 2735.2 L983.5 2733.8 L984.5 2733.8 L984.5 2733.1 L986.5 2733.1 L986.5 2732.4 L987.5 2732.4 L987.5 2731.3 L989.5 2731.3 L989.5 2730.4 L990.5 2730.4 L990.5 2728.9 L992.5 2728.9 L992.5 2727.5 L993.5 2727.5 L993.5 2726.3 L995.5 2726.3 L995.5 2725 L996.5 2725 L996.5 2722.9 L998.5 2722.9 L998.5 2722.4 L999.5 2722.4 L999.5 2722.2 L1001.5 2722.2 L1001.5 2721.6 L1002.5 2721.6 L1002.5 2719.9 L1004.5 2719.9 L1004.5 2717.3 L1005.5 2717.3 L1005.5 2715.5 L1007.5 2715.5 L1007.5 2712.7 L1008.5 2712.7 L1008.5 2711.8 L1013.5 2711.8 L1013.5 2709.6 L1014.5 2709.6 L1014.5 2709.4 L1017.5 2709.4 L1017.5 2708 L1019.5 2708 L1019.5 2707.2 L1020.5 2707.2 L1020.5 2706.4 L1022.5 2706.4 L1022.5 2705.9 L1023.5 2705.9 L1023.5 2704.2 L1025.5 2704.2 L1025.5 2703 L1026.5 2703 L1026.5 2702.8 L1028.5 2702.8 L1028.5 2702.6 L1029.5 2702.6 L1029.5 2701.5 L1031.5 2701.5 L1031.5 2700.9 L1034.5 2700.9 L1034.5 2700.1 L1035.5 2700.1 L1035.5 2698.6 L1037.5 2698.6 L1037.5 2697.4 L1038.5 2697.4 L1038.5 2697.1 L1040.5 2697.1 L1040.5 2695.1 L1041.5 2695.1 L1041.5 2694 L1043.5 2694 L1043.5 2693.7 L1044.5 2693.7 L1044.5 2692.6 L1046.5 2692.6 L1046.5 2691.6 L1047.5 2691.6 L1047.5 2690.6 L1049.5 2690.6 L1049.5 2689.9 L1052.5 2689.9 L1052.5 2689.1 L1053.5 2689.1 L1053.5 2687.4 L1058.5 2687.4 L1058.5 2686.1 L1059.5 2686.1 L1059.5 2685.4 L1061.5 2685.4 L1061.5 2684.4 L1062.5 2684.4 L1062.5 2684.1 L1064.5 2684.1 L1064.5 2683.3 L1065.5 2683.3 L1065.5 2682.3 L1067.5 2682.3 L1067.5 2681.1 L1068.5 2681.1 L1068.5 2679.5 L1070.5 2679.5 L1070.5 2679.3 L1076.5 2679.3 L1076.5 2678.8 L1077.5 2678.8 L1077.5 2677.3 L1079.5 2677.3 L1079.5 2676.1 L1080.5 2676.1 L1080.5 2675.2 L1085.5 2675.2 L1085.5 2673.7 L1086.5 2673.7 L1086.5 2672.2 L1089.5 2672.2 L1089.5 2671.8 L1091.5 2671.8 L1091.5 2670.9 L1092.5 2670.9 L1092.5 2670 L1094.5 2670 L1094.5 2669.2 L1098.5 2669.2 L1098.5 2667.9 L1100.5 2667.9 L1100.5 2666.9 L1101.5 2666.9 L1101.5 2666 L1103.5 2666 L1103.5 2665.3 L1107.5 2665.3 L1107.5 2664.2 L1109.5 2664.2 L1109.5 2662.3 L1110.5 2662.3 L1110.5 2661.2 L1113.5 2661.2 L1113.5 2661 L1115.5 2661 L1115.5 2659.5 L1116.5 2659.5 L1116.5 2659.2 L1119.5 2659.2 L1119.5 2659 L1121.5 2659 L1121.5 2657.1 L1125.5 2657.1 L1125.5 2655.4 L1127.5 2655.4 L1127.5 2655.1 L1128.5 2655.1 L1128.5 2655 L1130.5 2655 L1130.5 2654.1 L1131.5 2654.1 L1131.5 2653.8 L1133.5 2653.8 L1133.5 2652.4 L1134.5 2652.4 L1134.5 2651.7 L1137.5 2651.7 L1137.5 2651.3 L1139.5 2651.3 L1139.5 2650.7 L1140.5 2650.7 L1140.5 2650.3 L1142.5 2650.3 L1142.5 2650.2 L1143.5 2650.2 L1143.5 2649.4 L1145.5 2649.4 L1145.5 2648.2 L1146.5 2648.2 L1146.5 2647.2 L1148.5 2647.2 L1148.5 2646.1 L1151.5 2646.1 L1151.5 2645.4 L1152.5 2645.4 L1152.5 2644.6 L1154.5 2644.6 L1154.5 2644.2 L1155.5 2644.2 L1155.5 2643.9 L1160.5 2643.9 L1160.5 2642.8 L1161.5 2642.8 L1161.5 2641.8 L1167.5 2641.8 L1167.5 2641 L1169.5 2641 L1169.5 2639.5 L1175.5 2639.5 L1175.5 2638.9 L1176.5 2638.9 L1176.5 2638.4 L1178.5 2638.4 L1178.5 2637.4 L1179.5 2637.4 L1179.5 2636.9 L1182.5 2636.9 L1182.5 2636.6 L1184.5 2636.6 L1184.5 2636.3 L1185.5 2636.3 L1185.5 2634.5 L1187.5 2634.5 L1187.5 2633.3 L1194.5 2633.3 L1194.5 2632 L1196.5 2632 L1196.5 2631.2 L1199.5 2631.2 L1199.5 2631 L1200.5 2631 L1200.5 2629.2 L1202.5 2629.2 L1202.5 2628.8 L1203.5 2628.8 L1203.5 2628.5 L1208.5 2628.5 L1208.5 2628.1 L1212.5 2628.1 L1212.5 2626.8 L1214.5 2626.8 L1214.5 2625.5 L1215.5 2625.5 L1215.5 2624.5 L1221.5 2624.5 L1221.5 2623.2 L1223.5 2623.2 L1223.5 2622.8 L1224.5 2622.8 L1224.5 2622.6 L1226.5 2622.6 L1226.5 2621.7 L1227.5 2621.7 L1227.5 2620.5 L1235.5 2620.5 L1235.5 2620.3 L1236.5 2620.3 L1236.5 2619.6 L1239.5 2619.6 L1239.5 2619 L1241.5 2619 L1241.5 2618.2 L1242.5 2618.2 L1242.5 2617.6 L1245.5 2617.6 L1245.5 2617 L1247.5 2617 L1247.5 2616.4 L1251.5 2616.4 L1251.5 2616.3 L1253.5 2616.3 L1253.5 2615.3 L1254.5 2615.3 L1254.5 2614.3 L1256.5 2614.3 L1256.5 2614.1 L1257.5 2614.1 L1257.5 2613.9 L1259.5 2613.9 L1259.5 2613.2 L1260.5 2613.2 L1260.5 2612.9 L1262.5 2612.9 L1262.5 2612.8 L1263.5 2612.8 L1263.5 2612.3 L1268.5 2612.3 L1268.5 2612 L1274.5 2612 L1274.5 2611.5 L1275.5 2611.5 L1275.5 2611.3 L1280.5 2611.3 L1280.5 2611 L1281.5 2611 L1281.5 2609.7 L1283.5 2609.7 L1283.5 2608.6 L1284.5 2608.6 L1284.5 2608.5 L1286.5 2608.5 L1286.5 2608.2 L1287.5 2608.2 L1287.5 2607.2 L1289.5 2607.2 L1289.5 2607 L1290.5 2607 L1290.5 2605.9 L1292.5 2605.9 L1292.5 2603.8 L1293.5 2603.8 L1293.5 2603.3 L1295.5 2603.3 L1295.5 2603.1 L1296.5 2603.1 L1296.5 2603 L1298.5 2603 L1298.5 2602.5 L1299.5 2602.5 L1299.5 2601.8 L1301.5 2601.8 L1301.5 2600.7 L1305.5 2600.7 L1305.5 2600.3 L1307.5 2600.3 L1307.5 2599.8 L1311.5 2599.8 L1311.5 2599.4 L1313.5 2599.4 L1313.5 2598.9 L1316.5 2598.9 L1316.5 2597.8 L1317.5 2597.8 L1317.5 2596.3 L1328.5 2596.3 L1328.5 2596.1 L1329.5 2596.1 L1329.5 2594.9 L1331.5 2594.9 L1331.5 2594.3 L1337.5 2594.3 L1337.5 2593.8 L1338.5 2593.8 L1338.5 2592.4 L1352.5 2592.4 L1352.5 2592 L1353.5 2592 L1353.5 2590.7 L1355.5 2590.7 L1355.5 2590.2 L1364.5 2590.2 L1364.5 2590.1 L1367.5 2590.1 L1367.5 2589.8 L1368.5 2589.8 L1368.5 2588.8 L1370.5 2588.8 L1370.5 2587.9 L1371.5 2587.9 L1371.5 2587.1 L1373.5 2587.1 L1373.5 2585.7 L1380.5 2585.7 L1380.5 2585.5 L1382.5 2585.5 L1382.5 2585 L1386.5 2585 L1386.5 2584.5 L1388.5 2584.5 L1388.5 2583.7 L1394.5 2583.7 L1394.5 2583.4 L1395.5 2583.4 L1395.5 2583.3 L1397.5 2583.3 L1397.5 2583.1 L1401.5 2583.1 L1401.5 2581.2 L1406.5 2581.2 L1406.5 2580.5 L1407.5 2580.5 L1407.5 2580.4 L1409.5 2580.4 L1409.5 2579.4 L1410.5 2579.4 L1410.5 2579.1 L1415.5 2579.1 L1415.5 2578.9 L1419.5 2578.9 L1419.5 2578.6 L1421.5 2578.6 L1421.5 2578.4 L1422.5 2578.4 L1422.5 2577.7 L1424.5 2577.7 L1424.5 2577.2 L1425.5 2577.2 L1425.5 2576.6 L1427.5 2576.6 L1427.5 2575.9 L1434.5 2575.9 L1434.5 2575.8 L1436.5 2575.8 L1436.5 2575.6 L1443.5 2575.6 L1443.5 2574.9 L1445.5 2574.9 L1445.5 2574.5 L1446.5 2574.5 L1446.5 2574.2 L1448.5 2574.2 L1448.5 2572.9 L1457.5 2572.9 L1457.5 2572.4 L1482.5 2572.4 L1482.5 2591.4 L1481.5 2591.4 L1481.5 2592.3 L1475.5 2592.3 L1475.5 2592.4 L1473.5 2592.4 L1473.5 2593.6 L1463.5 2593.6 L1463.5 2593.9 L1461.5 2593.9 L1461.5 2595.1 L1460.5 2595.1 L1460.5 2595.4 L1451.5 2595.4 L1451.5 2596.1 L1443.5 2596.1 L1443.5 2596.2 L1442.5 2596.2 L1442.5 2596.7 L1440.5 2596.7 L1440.5 2597.4 L1439.5 2597.4 L1439.5 2597.6 L1437.5 2597.6 L1437.5 2598.6 L1431.5 2598.6 L1431.5 2599 L1427.5 2599 L1427.5 2599.4 L1425.5 2599.4 L1425.5 2599.5 L1424.5 2599.5 L1424.5 2601 L1419.5 2601 L1419.5 2602.2 L1418.5 2602.2 L1418.5 2602.8 L1412.5 2602.8 L1412.5 2602.9 L1410.5 2602.9 L1410.5 2603.4 L1406.5 2603.4 L1406.5 2603.5 L1404.5 2603.5 L1404.5 2604.5 L1398.5 2604.5 L1398.5 2605.4 L1395.5 2605.4 L1395.5 2605.6 L1391.5 2605.6 L1391.5 2606.1 L1389.5 2606.1 L1389.5 2606.9 L1388.5 2606.9 L1388.5 2607.8 L1386.5 2607.8 L1386.5 2608.8 L1385.5 2608.8 L1385.5 2609.2 L1379.5 2609.2 L1379.5 2610.3 L1377.5 2610.3 L1377.5 2611.6 L1367.5 2611.6 L1367.5 2612.4 L1365.5 2612.4 L1365.5 2612.6 L1361.5 2612.6 L1361.5 2612.8 L1355.5 2612.8 L1355.5 2614.4 L1347.5 2614.4 L1347.5 2615.1 L1346.5 2615.1 L1346.5 2616.2 L1343.5 2616.2 L1343.5 2616.3 L1341.5 2616.3 L1341.5 2617 L1334.5 2617 L1334.5 2618.1 L1331.5 2618.1 L1331.5 2618.4 L1329.5 2618.4 L1329.5 2619.5 L1328.5 2619.5 L1328.5 2619.6 L1323.5 2619.6 L1323.5 2620.9 L1317.5 2620.9 L1317.5 2621.5 L1316.5 2621.5 L1316.5 2622 L1314.5 2622 L1314.5 2622.1 L1313.5 2622.1 L1313.5 2622.3 L1311.5 2622.3 L1311.5 2622.8 L1310.5 2622.8 L1310.5 2624.9 L1308.5 2624.9 L1308.5 2626 L1307.5 2626 L1307.5 2626.2 L1305.5 2626.2 L1305.5 2627.2 L1304.5 2627.2 L1304.5 2627.5 L1302.5 2627.5 L1302.5 2627.6 L1301.5 2627.6 L1301.5 2628.7 L1299.5 2628.7 L1299.5 2630 L1298.5 2630 L1298.5 2631.1 L1292.5 2631.1 L1292.5 2631.2 L1290.5 2631.2 L1290.5 2632.3 L1277.5 2632.3 L1277.5 2632.9 L1275.5 2632.9 L1275.5 2633.1 L1274.5 2633.1 L1274.5 2633.3 L1272.5 2633.3 L1272.5 2634.3 L1271.5 2634.3 L1271.5 2635.3 L1269.5 2635.3 L1269.5 2635.7 L1268.5 2635.7 L1268.5 2636 L1263.5 2636 L1263.5 2636.6 L1260.5 2636.6 L1260.5 2637.2 L1259.5 2637.2 L1259.5 2638 L1257.5 2638 L1257.5 2638.6 L1254.5 2638.6 L1254.5 2639.3 L1253.5 2639.3 L1253.5 2640.3 L1251.5 2640.3 L1251.5 2641 L1244.5 2641 L1244.5 2641.6 L1242.5 2641.6 L1242.5 2641.8 L1241.5 2641.8 L1241.5 2642.2 L1239.5 2642.2 L1239.5 2644.3 L1238.5 2644.3 L1238.5 2644.9 L1232.5 2644.9 L1232.5 2645.8 L1230.5 2645.8 L1230.5 2647.5 L1226.5 2647.5 L1226.5 2647.8 L1220.5 2647.8 L1220.5 2648.2 L1218.5 2648.2 L1218.5 2650 L1217.5 2650 L1217.5 2651.2 L1212.5 2651.2 L1212.5 2652.9 L1211.5 2652.9 L1211.5 2653.7 L1209.5 2653.7 L1209.5 2654.3 L1203.5 2654.3 L1203.5 2655.3 L1202.5 2655.3 L1202.5 2655.6 L1200.5 2655.6 L1200.5 2656.3 L1197.5 2656.3 L1197.5 2656.4 L1196.5 2656.4 L1196.5 2657.4 L1194.5 2657.4 L1194.5 2657.9 L1193.5 2657.9 L1193.5 2658.7 L1191.5 2658.7 L1191.5 2659.3 L1187.5 2659.3 L1187.5 2660 L1185.5 2660 L1185.5 2661.9 L1184.5 2661.9 L1184.5 2662.1 L1178.5 2662.1 L1178.5 2663.4 L1172.5 2663.4 L1172.5 2663.6 L1170.5 2663.6 L1170.5 2664.4 L1169.5 2664.4 L1169.5 2665.1 L1166.5 2665.1 L1166.5 2666.2 L1164.5 2666.2 L1164.5 2667.2 L1163.5 2667.2 L1163.5 2668.4 L1161.5 2668.4 L1161.5 2669.2 L1160.5 2669.2 L1160.5 2669.3 L1158.5 2669.3 L1158.5 2669.7 L1157.5 2669.7 L1157.5 2670.3 L1155.5 2670.3 L1155.5 2671.3 L1152.5 2671.3 L1152.5 2671.4 L1151.5 2671.4 L1151.5 2672.8 L1149.5 2672.8 L1149.5 2673.1 L1148.5 2673.1 L1148.5 2674 L1146.5 2674 L1146.5 2674.1 L1145.5 2674.1 L1145.5 2674.4 L1143.5 2674.4 L1143.5 2676.1 L1142.5 2676.1 L1142.5 2676.9 L1139.5 2676.9 L1139.5 2678 L1137.5 2678 L1137.5 2679.6 L1133.5 2679.6 L1133.5 2680 L1131.5 2680 L1131.5 2680.3 L1128.5 2680.3 L1128.5 2681.3 L1127.5 2681.3 L1127.5 2683.2 L1125.5 2683.2 L1125.5 2684.3 L1121.5 2684.3 L1121.5 2685 L1119.5 2685 L1119.5 2685.9 L1118.5 2685.9 L1118.5 2686.9 L1116.5 2686.9 L1116.5 2688.2 L1115.5 2688.2 L1115.5 2688.8 L1112.5 2688.8 L1112.5 2689 L1110.5 2689 L1110.5 2689.9 L1109.5 2689.9 L1109.5 2690.8 L1107.5 2690.8 L1107.5 2691.5 L1104.5 2691.5 L1104.5 2692.7 L1103.5 2692.7 L1103.5 2694.6 L1101.5 2694.6 L1101.5 2694.7 L1098.5 2694.7 L1098.5 2695.1 L1097.5 2695.1 L1097.5 2696.3 L1095.5 2696.3 L1095.5 2697.8 L1094.5 2697.8 L1094.5 2698.4 L1092.5 2698.4 L1092.5 2699.1 L1091.5 2699.1 L1091.5 2699.5 L1086.5 2699.5 L1086.5 2700.1 L1085.5 2700.1 L1085.5 2701.3 L1083.5 2701.3 L1083.5 2702.3 L1082.5 2702.3 L1082.5 2703.1 L1080.5 2703.1 L1080.5 2703.4 L1079.5 2703.4 L1079.5 2704.4 L1077.5 2704.4 L1077.5 2705.1 L1076.5 2705.1 L1076.5 2706.4 L1074.5 2706.4 L1074.5 2706.5 L1071.5 2706.5 L1071.5 2708.1 L1070.5 2708.1 L1070.5 2709.1 L1067.5 2709.1 L1067.5 2709.6 L1065.5 2709.6 L1065.5 2710.6 L1064.5 2710.6 L1064.5 2711.6 L1062.5 2711.6 L1062.5 2712.7 L1061.5 2712.7 L1061.5 2713 L1059.5 2713 L1059.5 2714.1 L1058.5 2714.1 L1058.5 2716.1 L1056.5 2716.1 L1056.5 2716.4 L1055.5 2716.4 L1055.5 2717.6 L1053.5 2717.6 L1053.5 2719.1 L1052.5 2719.1 L1052.5 2719.9 L1049.5 2719.9 L1049.5 2720.5 L1047.5 2720.5 L1047.5 2721.6 L1046.5 2721.6 L1046.5 2721.8 L1044.5 2721.8 L1044.5 2722 L1043.5 2722 L1043.5 2723.2 L1041.5 2723.2 L1041.5 2724.9 L1040.5 2724.9 L1040.5 2725.4 L1038.5 2725.4 L1038.5 2726.2 L1037.5 2726.2 L1037.5 2727 L1035.5 2727 L1035.5 2728.5 L1032.5 2728.5 L1032.5 2728.6 L1031.5 2728.6 L1031.5 2731.2 L1029.5 2731.2 L1029.5 2732 L1025.5 2732 L1025.5 2734.5 L1023.5 2734.5 L1023.5 2736.3 L1022.5 2736.3 L1022.5 2738.9 L1020.5 2738.9 L1020.5 2740.6 L1019.5 2740.6 L1019.5 2741.2 L1017.5 2741.2 L1017.5 2741.4 L1016.5 2741.4 L1016.5 2741.9 L1014.5 2741.9 L1014.5 2744 L1013.5 2744 L1013.5 2745.3 L1011.5 2745.3 L1011.5 2746.5 L1010.5 2746.5 L1010.5 2747.9 L1008.5 2747.9 L1008.5 2749.4 L1007.5 2749.4 L1007.5 2750.3 L1005.5 2750.3 L1005.5 2751.4 L1004.5 2751.4 L1004.5 2752.1 L1002.5 2752.1 L1002.5 2752.8 L1001.5 2752.8 L1001.5 2754.2 L999.5 2754.2 L999.5 2756.4 L998.5 2756.4 L998.5 2758.5 L996.5 2758.5 L996.5 2759.2 L995.5 2759.2 L995.5 2761.4 L993.5 2761.4 L993.5 2763.5 L992.5 2763.5 L992.5 2764 L990.5 2764 L990.5 2766.3 L989.5 2766.3 L989.5 2769.5 L987.5 2769.5 L987.5 2770.5 L986.5 2770.5 L986.5 2771.4 L984.5 2771.4 L984.5 2772.6 L983.5 2772.6 L983.5 2774.7 L981.5 2774.7 L981.5 2776 L980.5 2776 L980.5 2777 L978.5 2777 L978.5 2780 L977.5 2780 L977.5 2782.5 L975.5 2782.5 L975.5 2783.9 L974.5 2783.9 L974.5 2786.7 L972.5 2786.7 L972.5 2790.3 L971.5 2790.3 L971.5 2791.2 L969.5 2791.2 L969.5 2791.5 L968.5 2791.5 L968.5 2793.4 L966.5 2793.4 L966.5 2797.9 L965.5 2797.9 L965.5 2800.6 L963.5 2800.6 L963.5 2801 L962.5 2801 L962.5 2804 L960.5 2804 L960.5 2806.8 L959.5 2806.8 L959.5 2807.8 L957.5 2807.8 L957.5 2810.3 L956.5 2810.3 L956.5 2813.3 L954.5 2813.3 L954.5 2815.6 L953.5 2815.6 L953.5 2818.5 L951.5 2818.5 L951.5 2821.5 L932.5 2821.5 Z" fill="#000"/>
<path d="M1573.5 2426 L1577.5 2426 L1577.5 2425.6 L1585.5 2425.6 L1585.5 2423.7 L1606.5 2423.7 L1606.5 2424.4 L1608.5 2424.4 L1608.5 2425.1 L1614.5 2425.1 L1614.5 2425.2 L1632.5 2425.2 L1632.5 2425.6 L1641.5 2425.6 L1641.5 2425.4 L1657.5 2425.4 L1657.5 2424.5 L1688.5 2424.5 L1688.5 2425.6 L1693.5 2425.6 L1693.5 2425.5 L1705.5 2425.5 L1705.5 2423.9 L1726.5 2423.9 L1726.5 2425.6 L1742.5 2425.6 L1742.5 2426 L1745.5 2426 L1745.5 2425.7 L1751.5 2425.7 L1751.5 2425.5 L1753.5 2425.5 L1753.5 2425.4 L1774.5 2425.4 L1774.5 2425.6 L1779.5 2425.6 L1779.5 2424.9 L1789.5 2424.9 L1789.5 2424.7 L1795.5 2424.7 L1795.5 2424.3 L1816.5 2424.3 L1816.5 2426.2 L1819.5 2426.2 L1819.5 2426 L1821.5 2426 L1821.5 2425.9 L1842.5 2425.9 L1842.5 2426.3 L1845.5 2426.3 L1845.5 2425.1 L1865.5 2425.1 L1865.5 2424.9 L1886.5 2424.9 L1886.5 2425.7 L1889.5 2425.7 L1889.5 2425.5 L1891.5 2425.5 L1891.5 2424.3 L1912.5 2424.3 L1912.5 2426 L1914.5 2426 L1914.5 2426.2 L1915.5 2426.2 L1915.5 2425.9 L1927.5 2425.9 L1927.5 2425.5 L1929.5 2425.5 L1929.5 2425.4 L1943.5 2425.4 L1943.5 2424.2 L1964.5 2424.2 L1964.5 2425.8 L1979.5 2425.8 L1979.5 2424.8 L1997.5 2424.8 L1997.5 2424.7 L2015.5 2424.7 L2015.5 2424.1 L2036.5 2424.1 L2036.5 2426.2 L2039.5 2426.2 L2039.5 2425.7 L2062.5 2425.7 L2062.5 2426.4 L2072.5 2426.4 L2072.5 2427.5 L2076.5 2427.5 L2076.5 2448.5 L2074.5 2448.5 L2074.5 2449.6 L2058.5 2449.6 L2058.5 2451.3 L2037.5 2451.3 L2037.5 2450.3 L2032.5 2450.3 L2032.5 2452 L2026.5 2452 L2026.5 2456.4 L2005.5 2456.4 L2005.5 2448.9 L1985.5 2448.9 L1985.5 2448.7 L1976.5 2448.7 L1976.5 2449.4 L1974.5 2449.4 L1974.5 2450 L1970.5 2450 L1970.5 2450.1 L1949.5 2450.1 L1949.5 2449.1 L1933.5 2449.1 L1933.5 2448.3 L1926.5 2448.3 L1926.5 2448.4 L1922.5 2448.4 L1922.5 2448.5 L1920.5 2448.5 L1920.5 2449.5 L1899.5 2449.5 L1899.5 2449.3 L1879.5 2449.3 L1879.5 2448.9 L1878.5 2448.9 L1878.5 2450.5 L1857.5 2450.5 L1857.5 2449.2 L1856.5 2449.2 L1856.5 2450.2 L1844.5 2450.2 L1844.5 2451 L1823.5 2451 L1823.5 2449.8 L1822.5 2449.8 L1822.5 2449.9 L1818.5 2449.9 L1818.5 2450.8 L1797.5 2450.8 L1797.5 2449.5 L1787.5 2449.5 L1787.5 2448.1 L1760.5 2448.1 L1760.5 2448.6 L1756.5 2448.6 L1756.5 2449.1 L1748.5 2449.1 L1748.5 2449.6 L1728.5 2449.6 L1728.5 2450.7 L1707.5 2450.7 L1707.5 2449.8 L1704.5 2449.8 L1704.5 2450.8 L1683.5 2450.8 L1683.5 2448.7 L1677.5 2448.7 L1677.5 2448 L1670.5 2448 L1670.5 2449.1 L1658.5 2449.1 L1658.5 2449.2 L1652.5 2449.2 L1652.5 2449.7 L1631.5 2449.7 L1631.5 2449.1 L1623.5 2449.1 L1623.5 2449 L1609.5 2449 L1609.5 2448.9 L1595.5 2448.9 L1595.5 2447.9 L1579.5 2447.9 L1579.5 2447.1 L1575.5 2447.1 L1575.5 2447 L1573.5 2447 Z" fill="#000"/>
<line x1="1765.6" y1="489.7" x2="1810.2" y2="489.7" stroke="#000" stroke-width="2.0"/>
<line x1="1720.6" y1="1266.1" x2="1814.8" y2="1266.1" stroke="#000" stroke-width="2.0"/>
<line x1="1751.2" y1="2517.5" x2="1805.4" y2="2517.5" stroke="#000" stroke-width="2.0"/>
<line x1="1930.0" y1="2995.9" x2="1870.4" y2="2995.9" stroke="#000" stroke-width="2.0"/>
<line x1="2075.0" y1="1080.6" x2="2048.0" y2="1080.6" stroke="#c81a24" stroke-width="4.4"/>
<line x1="2075.0" y1="590.7" x2="2048.0" y2="590.7" stroke="#c81a24" stroke-width="4.4"/>
<line x1="2075.0" y1="100.8" x2="2048.0" y2="100.8" stroke="#c81a24" stroke-width="4.4"/>
<line x1="2075.0" y1="835.7" x2="2061.0" y2="835.7" stroke="#c81a24" stroke-width="4.4"/>
<line x1="2075.0" y1="345.8" x2="2061.0" y2="345.8" stroke="#c81a24" stroke-width="4.4"/>
<line x1="2075.0" y1="2292.0" x2="2048.0" y2="2292.0" stroke="#c81a24" stroke-width="4.4"/>
<line x1="2075.0" y1="2071.5" x2="2048.0" y2="2071.5" stroke="#c81a24" stroke-width="4.4"/>
<line x1="2075.0" y1="1851.0" x2="2048.0" y2="1851.0" stroke="#c81a24" stroke-width="4.4"/>
<line x1="2075.0" y1="1630.5" x2="2048.0" y2="1630.5" stroke="#c81a24" stroke-width="4.4"/>
<line x1="2075.0" y1="1410.0" x2="2048.0" y2="1410.0" stroke="#c81a24" stroke-width="4.4"/>
<line x1="2075.0" y1="1189.5" x2="2048.0" y2="1189.5" stroke="#c81a24" stroke-width="4.4"/>
<line x1="2075.0" y1="2181.8" x2="2061.0" y2="2181.8" stroke="#c81a24" stroke-width="4.4"/>
<line x1="2075.0" y1="1961.2" x2="2061.0" y2="1961.2" stroke="#c81a24" stroke-width="4.4"/>
<line x1="2075.0" y1="1740.8" x2="2061.0" y2="1740.8" stroke="#c81a24" stroke-width="4.4"/>
<line x1="2075.0" y1="1520.2" x2="2061.0" y2="1520.2" stroke="#c81a24" stroke-width="4.4"/>
<line x1="2075.0" y1="1299.8" x2="2061.0" y2="1299.8" stroke="#c81a24" stroke-width="4.4"/>
<line x1="2075.0" y1="3408.0" x2="2048.0" y2="3408.0" stroke="#c81a24" stroke-width="4.4"/>
<line x1="2075.0" y1="3093.1" x2="2048.0" y2="3093.1" stroke="#c81a24" stroke-width="4.4"/>
<line x1="2075.0" y1="2778.3" x2="2048.0" y2="2778.3" stroke="#c81a24" stroke-width="4.4"/>
<line x1="2075.0" y1="2463.4" x2="2048.0" y2="2463.4" stroke="#c81a24" stroke-width="4.4"/>
<line x1="2075.0" y1="3250.6" x2="2061.0" y2="3250.6" stroke="#c81a24" stroke-width="4.4"/>
<line x1="2075.0" y1="2935.7" x2="2061.0" y2="2935.7" stroke="#c81a24" stroke-width="4.4"/>
<line x1="2075.0" y1="2620.9" x2="2061.0" y2="2620.9" stroke="#c81a24" stroke-width="4.4"/>
<line x1="2075.0" y1="2306.0" x2="2061.0" y2="2306.0" stroke="#c81a24" stroke-width="4.4"/>
<line x1="2075.0" y1="73.8" x2="2075.0" y2="1181.1" stroke="#c81a24" stroke-width="4.8"/>
<line x1="2075.0" y1="1187.0" x2="2075.0" y2="2294.5" stroke="#c81a24" stroke-width="4.8"/>
<line x1="2075.0" y1="2303.5" x2="2075.0" y2="3410.5" stroke="#c81a24" stroke-width="4.8"/>
<line x1="2075.0" y1="1189.5" x2="2048.0" y2="1189.5" stroke="#c81a24" stroke-width="5.0"/>
<line x1="2075.0" y1="2292.0" x2="2048.0" y2="2292.0" stroke="#c81a24" stroke-width="5.0"/>
<line x1="2075.0" y1="3408.0" x2="2048.0" y2="3408.0" stroke="#c81a24" stroke-width="5.0"/>
<line x1="866.0" y1="688.0" x2="940.0" y2="118.0" stroke="#d23c3c" stroke-width="1.6"/>
<line x1="1473.0" y1="168.0" x2="1511.0" y2="785.0" stroke="#d23c3c" stroke-width="1.6"/>
<line x1="870.0" y1="2108.0" x2="908.0" y2="1526.0" stroke="#d23c3c" stroke-width="1.6"/>
<line x1="1480.0" y1="1530.0" x2="1525.0" y2="2085.0" stroke="#d23c3c" stroke-width="1.6"/>
<line x1="842.0" y1="2656.0" x2="907.0" y2="3012.0" stroke="#d23c3c" stroke-width="1.6"/>
<line x1="1477.0" y1="3272.0" x2="1556.0" y2="3085.0" stroke="#d23c3c" stroke-width="1.6"/>
<line x1="1148.7" y1="3228.0" x2="1148.7" y2="3282.0" stroke="#d23c3c" stroke-width="1.6"/>
<path d="M316 75.3 L334.5 75.3 L334.5 99.8 L337.5 99.8 L337.5 111.9 L339.5 111.9 L339.5 123.9 L342.5 123.9 L342.5 136.7 L344.5 136.7 L344.5 142.4 L347.5 142.4 L347.5 158.3 L352.5 158.3 L352.5 195.2 L354.5 195.2 L354.5 197.6 L357.5 197.6 L357.5 209.6 L359.5 209.6 L359.5 212.3 L362.5 212.3 L362.5 231.5 L364.5 231.5 L364.5 239 L367.5 239 L367.5 251.2 L369.5 251.2 L369.5 253.2 L372.5 253.2 L372.5 266.5 L374.5 266.5 L374.5 282.6 L382.5 282.6 L382.5 299.1 L387.5 299.1 L387.5 308.2 L397.5 308.2 L397.5 328.9 L399.5 328.9 L399.5 342.5 L404.5 342.5 L404.5 355.4 L407.5 355.4 L407.5 360.7 L412.5 360.7 L412.5 377.6 L414.5 377.6 L414.5 385.7 L419.5 385.7 L419.5 390.9 L422.5 390.9 L422.5 394.6 L424.5 394.6 L424.5 395 L429.5 395 L429.5 395.4 L439.5 395.4 L439.5 404.9 L442.5 404.9 L442.5 410.1 L449.5 410.1 L449.5 410.6 L452.5 410.6 L452.5 427.5 L454.5 427.5 L454.5 431.9 L457.5 431.9 L457.5 436.4 L459.5 436.4 L459.5 442.8 L472.5 442.8 L472.5 445.1 L474.5 445.1 L474.5 460.2 L477.5 460.2 L477.5 461.1 L492.5 461.1 L492.5 473.1 L494.5 473.1 L494.5 475.9 L502.5 475.9 L502.5 491.4 L507.5 491.4 L507.5 494.2 L517.5 494.2 L517.5 498.7 L529.5 498.7 L529.5 513.7 L532.5 513.7 L532.5 516.5 L537.5 516.5 L537.5 521.3 L539.5 521.3 L539.5 524.4 L542.5 524.4 L542.5 527.5 L544.5 527.5 L544.5 529 L545.5 529 L545.5 524.9 L564.5 524.9 L564.5 537.3 L577.5 537.3 L577.5 539.8 L587.5 539.8 L587.5 549.1 L604.5 549.1 L604.5 557.3 L607.5 557.3 L607.5 560.4 L617.5 560.4 L617.5 574.3 L620.5 574.3 L620.5 567 L639.5 567 L639.5 575.7 L642.5 575.7 L642.5 581 L649.5 581 L649.5 590.9 L667.5 590.9 L667.5 592.5 L682.5 592.5 L682.5 601.6 L684.5 601.6 L684.5 603.1 L694.5 603.1 L694.5 614.4 L697.5 614.4 L697.5 619.2 L702.5 619.2 L702.5 609.7 L722.5 609.7 L722.5 613.4 L729.5 613.4 L729.5 616.1 L732.5 616.1 L732.5 631.6 L734.5 631.6 L734.5 638.6 L739.5 638.6 L739.5 638.8 L744.5 638.8 L744.5 641.5 L747.5 641.5 L747.5 644.1 L750.5 644.1 L750.5 643.3 L760.5 643.3 L760.5 637.1 L779.5 637.1 L779.5 641.2 L782.5 641.2 L782.5 643.6 L787.5 643.6 L787.5 650.5 L799.5 650.5 L799.5 655.5 L802.5 655.5 L802.5 659 L812.5 659 L812.5 659.5 L822.5 659.5 L822.5 666.4 L839.5 666.4 L839.5 671.8 L844.5 671.8 L844.5 672.4 L857.5 672.4 L857.5 688.6 L867.5 688.6 L867.5 690.5 L870.5 690.5 L870.5 709.5 L869.5 709.5 L869.5 710.6 L864.5 710.6 L864.5 713 L862.5 713 L862.5 715 L854.5 715 L854.5 717.9 L835.5 717.9 L835.5 710.8 L827.5 710.8 L827.5 705.3 L812.5 705.3 L812.5 694.1 L797.5 694.1 L797.5 687.2 L795.5 687.2 L795.5 680.5 L784.5 680.5 L784.5 685 L765.5 685 L765.5 678.7 L752.5 678.7 L752.5 674.7 L740.5 674.7 L740.5 673.1 L730.5 673.1 L730.5 670 L707.5 670 L707.5 652 L690.5 652 L690.5 648.4 L687.5 648.4 L687.5 646.7 L682.5 646.7 L682.5 640.2 L680.5 640.2 L680.5 636 L672.5 636 L672.5 634.7 L670.5 634.7 L670.5 633.7 L652.5 633.7 L652.5 624.1 L642.5 624.1 L642.5 622 L635.5 622 L635.5 614.3 L632.5 614.3 L632.5 608.2 L617.5 608.2 L617.5 603.1 L612.5 603.1 L612.5 600.9 L610.5 600.9 L610.5 599.2 L609.5 599.2 L609.5 599.8 L590.5 599.8 L590.5 598.8 L575.5 598.8 L575.5 577 L570.5 577 L570.5 574.9 L562.5 574.9 L562.5 574.5 L560.5 574.5 L560.5 573.7 L552.5 573.7 L552.5 571 L537.5 571 L537.5 556.3 L527.5 556.3 L527.5 546.5 L525.5 546.5 L525.5 543.4 L522.5 543.4 L522.5 541.6 L515.5 541.6 L515.5 536.7 L500.5 536.7 L500.5 529.4 L495.5 529.4 L495.5 522.5 L492.5 522.5 L492.5 521.2 L485.5 521.2 L485.5 510 L480.5 510 L480.5 505.5 L477.5 505.5 L477.5 499.2 L470.5 499.2 L470.5 495.9 L467.5 495.9 L467.5 491.2 L465.5 491.2 L465.5 489.4 L462.5 489.4 L462.5 485.9 L460.5 485.9 L460.5 479.2 L457.5 479.2 L457.5 473.5 L450.5 473.5 L450.5 472.7 L445.5 472.7 L445.5 464.8 L442.5 464.8 L442.5 455.4 L440.5 455.4 L440.5 450.9 L437.5 450.9 L437.5 446.5 L435.5 446.5 L435.5 442.9 L427.5 442.9 L427.5 438.4 L425.5 438.4 L425.5 427.8 L407.5 427.8 L407.5 413.6 L405.5 413.6 L405.5 409.9 L402.5 409.9 L402.5 404.7 L397.5 404.7 L397.5 396.6 L395.5 396.6 L395.5 384.4 L390.5 384.4 L390.5 374.4 L387.5 374.4 L387.5 362.8 L382.5 362.8 L382.5 347.9 L380.5 347.9 L380.5 336.6 L372.5 336.6 L372.5 330.4 L370.5 330.4 L370.5 321.3 L365.5 321.3 L365.5 308.1 L357.5 308.1 L357.5 285.5 L355.5 285.5 L355.5 272.2 L352.5 272.2 L352.5 270.2 L350.5 270.2 L350.5 258 L347.5 258 L347.5 250.5 L345.5 250.5 L345.5 231.3 L342.5 231.3 L342.5 228.6 L340.5 228.6 L340.5 216.6 L337.5 216.6 L337.5 214.2 L335.5 214.2 L335.5 184.8 L330.5 184.8 L330.5 161.4 L327.5 161.4 L327.5 155.7 L325.5 155.7 L325.5 142.9 L322.5 142.9 L322.5 130.9 L320.5 130.9 L320.5 118.8 L317.5 118.8 L317.5 91.5 L316 91.5 Z" fill="#ff0000"/>
<path d="M938.5 117 L941.5 117 L941.5 105.9 L943.5 105.9 L943.5 103.6 L956.5 103.6 L956.5 98.8 L975.5 98.8 L975.5 110.1 L980.5 110.1 L980.5 111.2 L988.5 111.2 L988.5 113.8 L993.5 113.8 L993.5 118.4 L1003.5 118.4 L1003.5 124.5 L1015.5 124.5 L1015.5 126.8 L1031.5 126.8 L1031.5 124.3 L1050.5 124.3 L1050.5 127.2 L1060.5 127.2 L1060.5 134.5 L1073.5 134.5 L1073.5 131.4 L1093.5 131.4 L1093.5 136 L1096.5 136 L1096.5 126.8 L1115.5 126.8 L1115.5 132.2 L1116.5 132.2 L1116.5 128.6 L1135.5 128.6 L1135.5 132.5 L1140.5 132.5 L1140.5 140 L1145.5 140 L1145.5 141.3 L1156.5 141.3 L1156.5 138.5 L1161.5 138.5 L1161.5 130.7 L1180.5 130.7 L1180.5 134.7 L1185.5 134.7 L1185.5 134.8 L1188.5 134.8 L1188.5 137.9 L1195.5 137.9 L1195.5 142.2 L1205.5 142.2 L1205.5 144 L1218.5 144 L1218.5 144.9 L1221.5 144.9 L1221.5 138.3 L1226.5 138.3 L1226.5 133.1 L1245.5 133.1 L1245.5 144.9 L1248.5 144.9 L1248.5 141.9 L1253.5 141.9 L1253.5 136.5 L1263.5 136.5 L1263.5 135.3 L1283.5 135.3 L1283.5 140.4 L1288.5 140.4 L1288.5 138 L1308.5 138 L1308.5 149.5 L1311.5 149.5 L1311.5 146.7 L1321.5 146.7 L1321.5 143.2 L1338.5 143.2 L1338.5 142.4 L1358.5 142.4 L1358.5 142.8 L1378.5 142.8 L1378.5 148.9 L1395.5 148.9 L1395.5 149.7 L1396.5 149.7 L1396.5 145.2 L1398.5 145.2 L1398.5 138.3 L1418.5 138.3 L1418.5 150.9 L1425.5 150.9 L1425.5 151.9 L1436.5 151.9 L1436.5 144.3 L1455.5 144.3 L1455.5 151.9 L1473.5 151.9 L1473.5 153.3 L1475.5 153.3 L1475.5 159.3 L1477.5 159.3 L1477.5 178.3 L1470.5 178.3 L1470.5 188.2 L1451.5 188.2 L1451.5 182.1 L1450.5 182.1 L1450.5 194.6 L1431.5 194.6 L1431.5 189.9 L1418.5 189.9 L1418.5 185.4 L1411.5 185.4 L1411.5 178.2 L1410.5 178.2 L1410.5 194.3 L1391.5 194.3 L1391.5 187 L1373.5 187 L1373.5 186.1 L1371.5 186.1 L1371.5 184.3 L1365.5 184.3 L1365.5 186 L1363.5 186 L1363.5 187 L1343.5 187 L1343.5 180.2 L1338.5 180.2 L1338.5 197.1 L1318.5 197.1 L1318.5 187.6 L1313.5 187.6 L1313.5 188.6 L1293.5 188.6 L1293.5 183.5 L1278.5 183.5 L1278.5 179.4 L1258.5 179.4 L1258.5 175.9 L1246.5 175.9 L1246.5 174.5 L1241.5 174.5 L1241.5 169.9 L1238.5 169.9 L1238.5 169.8 L1235.5 169.8 L1235.5 178.7 L1216.5 178.7 L1216.5 175.9 L1215.5 175.9 L1215.5 181.5 L1196.5 181.5 L1196.5 174.6 L1191.5 174.6 L1191.5 172.2 L1183.5 172.2 L1183.5 171.8 L1178.5 171.8 L1178.5 170.1 L1173.5 170.1 L1173.5 175 L1153.5 175 L1153.5 174.5 L1148.5 174.5 L1148.5 171.4 L1136.5 171.4 L1136.5 168 L1128.5 168 L1128.5 175 L1108.5 175 L1108.5 173.2 L1091.5 173.2 L1091.5 172.5 L1088.5 172.5 L1088.5 169.6 L1083.5 169.6 L1083.5 170.8 L1063.5 170.8 L1063.5 164.5 L1043.5 164.5 L1043.5 161.2 L1040.5 161.2 L1040.5 165.5 L1025.5 165.5 L1025.5 167.7 L1006.5 167.7 L1006.5 162.5 L991.5 162.5 L991.5 162.2 L986.5 162.2 L986.5 152.9 L981.5 152.9 L981.5 151.5 L976.5 151.5 L976.5 142.9 L963.5 142.9 L963.5 141.8 L958.5 141.8 L958.5 136 L938.5 136 Z" fill="#ff0000"/>
<path d="M1506.5 767.4 L1525.5 767.4 L1525.5 777.7 L1528.5 777.7 L1528.5 774.5 L1541.5 774.5 L1541.5 770.3 L1560.5 770.3 L1560.5 783.8 L1563.5 783.8 L1563.5 786 L1578.5 786 L1578.5 785.4 L1588.5 785.4 L1588.5 777.9 L1608.5 777.9 L1608.5 784.9 L1610.5 784.9 L1610.5 789.8 L1623.5 789.8 L1623.5 794.2 L1635.5 794.2 L1635.5 797.1 L1643.5 797.1 L1643.5 791.7 L1663.5 791.7 L1663.5 798.8 L1680.5 798.8 L1680.5 803.2 L1690.5 803.2 L1690.5 808.5 L1691.5 808.5 L1691.5 798.4 L1698.5 798.4 L1698.5 796.3 L1718.5 796.3 L1718.5 806.5 L1725.5 806.5 L1725.5 809.6 L1730.5 809.6 L1730.5 815 L1740.5 815 L1740.5 818.3 L1743.5 818.3 L1743.5 820.4 L1753.5 820.4 L1753.5 822.1 L1771.5 822.1 L1771.5 819.6 L1790.5 819.6 L1790.5 820.4 L1793.5 820.4 L1793.5 820.6 L1810.5 820.6 L1810.5 821.8 L1815.5 821.8 L1815.5 828.3 L1825.5 828.3 L1825.5 837.8 L1833.5 837.8 L1833.5 837.2 L1848.5 837.2 L1848.5 834.8 L1868.5 834.8 L1868.5 842.6 L1873.5 842.6 L1873.5 846.8 L1885.5 846.8 L1885.5 849.6 L1891.5 849.6 L1891.5 847.2 L1906.5 847.2 L1906.5 844.1 L1925.5 844.1 L1925.5 850.1 L1926.5 850.1 L1926.5 849.7 L1945.5 849.7 L1945.5 856.4 L1963.5 856.4 L1963.5 860.1 L1968.5 860.1 L1968.5 866.9 L1983.5 866.9 L1983.5 866.8 L1986.5 866.8 L1986.5 866.7 L2005.5 866.7 L2005.5 875.2 L2010.5 875.2 L2010.5 875.7 L2011.5 875.7 L2011.5 870.6 L2030.5 870.6 L2030.5 873.4 L2045.5 873.4 L2045.5 873.8 L2055.5 873.8 L2055.5 881.3 L2068.5 881.3 L2068.5 886.1 L2075.5 886.1 L2075.5 905.1 L2073.5 905.1 L2073.5 915.5 L2053.5 915.5 L2053.5 912.8 L2046.5 912.8 L2046.5 911.5 L2043.5 911.5 L2043.5 913.6 L2023.5 913.6 L2023.5 908.2 L2021.5 908.2 L2021.5 904.5 L2008.5 904.5 L2008.5 905.6 L1988.5 905.6 L1988.5 897.9 L1985.5 897.9 L1985.5 911.2 L1966.5 911.2 L1966.5 906.1 L1958.5 906.1 L1958.5 899.2 L1953.5 899.2 L1953.5 893.9 L1938.5 893.9 L1938.5 893.1 L1923.5 893.1 L1923.5 887.9 L1903.5 887.9 L1903.5 885.2 L1893.5 885.2 L1893.5 884.8 L1886.5 884.8 L1886.5 880.8 L1880.5 880.8 L1880.5 886.4 L1861.5 886.4 L1861.5 874.4 L1856.5 874.4 L1856.5 873.9 L1850.5 873.9 L1850.5 877.6 L1831.5 877.6 L1831.5 877.2 L1818.5 877.2 L1818.5 867.2 L1805.5 867.2 L1805.5 870.5 L1786.5 870.5 L1786.5 862.3 L1783.5 862.3 L1783.5 855.8 L1763.5 855.8 L1763.5 855.6 L1758.5 855.6 L1758.5 852.5 L1751.5 852.5 L1751.5 852.1 L1746.5 852.1 L1746.5 851.6 L1745.5 851.6 L1745.5 854 L1726.5 854 L1726.5 842.1 L1716.5 842.1 L1716.5 840.4 L1713.5 840.4 L1713.5 835 L1708.5 835 L1708.5 846.2 L1703.5 846.2 L1703.5 848.6 L1683.5 848.6 L1683.5 839.5 L1673.5 839.5 L1673.5 837.5 L1663.5 837.5 L1663.5 836.6 L1660.5 836.6 L1660.5 837.4 L1658.5 837.4 L1658.5 839.5 L1638.5 839.5 L1638.5 832.5 L1636.5 832.5 L1636.5 828.4 L1633.5 828.4 L1633.5 835.4 L1613.5 835.4 L1613.5 834.3 L1606.5 834.3 L1606.5 821 L1601.5 821 L1601.5 816.4 L1593.5 816.4 L1593.5 817.6 L1573.5 817.6 L1573.5 811.9 L1570.5 811.9 L1570.5 814.8 L1558.5 814.8 L1558.5 816.6 L1538.5 816.6 L1538.5 814.6 L1531.5 814.6 L1531.5 813 L1521.5 813 L1521.5 808.3 L1516.5 808.3 L1516.5 807.5 L1513.5 807.5 L1513.5 805.7 L1511.5 805.7 L1511.5 804.8 L1508.5 804.8 L1508.5 786.4 L1506.5 786.4 Z" fill="#ff0000"/>
<path d="M316 2071.5 L326.5 2071.5 L326.5 2072.1 L328.5 2072.1 L328.5 2072.6 L330.5 2072.6 L330.5 2073.2 L332.5 2073.2 L332.5 2073.7 L334.5 2073.7 L334.5 2074.3 L336.5 2074.3 L336.5 2074.8 L338.5 2074.8 L338.5 2075.3 L340.5 2075.3 L340.5 2075.9 L342.5 2075.9 L342.5 2076.3 L344.5 2076.3 L344.5 2076.8 L346.5 2076.8 L346.5 2077.3 L348.5 2077.3 L348.5 2077.7 L350.5 2077.7 L350.5 2078.1 L352.5 2078.1 L352.5 2078.5 L354.5 2078.5 L354.5 2078.9 L356.5 2078.9 L356.5 2079.2 L358.5 2079.2 L358.5 2079.5 L360.5 2079.5 L360.5 2079.8 L362.5 2079.8 L362.5 2080 L364.5 2080 L364.5 2080.3 L366.5 2080.3 L366.5 2080.6 L368.5 2080.6 L368.5 2080.8 L370.5 2080.8 L370.5 2081 L372.5 2081 L372.5 2081.3 L374.5 2081.3 L374.5 2081.5 L376.5 2081.5 L376.5 2081.7 L378.5 2081.7 L378.5 2081.9 L380.5 2081.9 L380.5 2082.1 L382.5 2082.1 L382.5 2082.3 L384.5 2082.3 L384.5 2082.5 L386.5 2082.5 L386.5 2082.7 L388.5 2082.7 L388.5 2082.8 L390.5 2082.8 L390.5 2083 L392.5 2083 L392.5 2083.2 L394.5 2083.2 L394.5 2083.4 L396.5 2083.4 L396.5 2083.5 L398.5 2083.5 L398.5 2083.7 L400.5 2083.7 L400.5 2083.8 L402.5 2083.8 L402.5 2084 L404.5 2084 L404.5 2084.2 L406.5 2084.2 L406.5 2084.3 L408.5 2084.3 L408.5 2084.5 L410.5 2084.5 L410.5 2084.6 L412.5 2084.6 L412.5 2084.8 L414.5 2084.8 L414.5 2085 L416.5 2085 L416.5 2085.1 L418.5 2085.1 L418.5 2085.3 L420.5 2085.3 L420.5 2085.5 L422.5 2085.5 L422.5 2085.6 L424.5 2085.6 L424.5 2085.8 L426.5 2085.8 L426.5 2086 L428.5 2086 L428.5 2086.1 L430.5 2086.1 L430.5 2086.3 L432.5 2086.3 L432.5 2086.5 L434.5 2086.5 L434.5 2086.6 L436.5 2086.6 L436.5 2086.8 L438.5 2086.8 L438.5 2087 L440.5 2087 L440.5 2087.1 L442.5 2087.1 L442.5 2087.3 L444.5 2087.3 L444.5 2087.4 L446.5 2087.4 L446.5 2087.6 L448.5 2087.6 L448.5 2087.8 L450.5 2087.8 L450.5 2087.9 L452.5 2087.9 L452.5 2088.1 L454.5 2088.1 L454.5 2088.2 L456.5 2088.2 L456.5 2088.4 L458.5 2088.4 L458.5 2088.5 L460.5 2088.5 L460.5 2088.7 L462.5 2088.7 L462.5 2088.8 L464.5 2088.8 L464.5 2089 L466.5 2089 L466.5 2089.1 L468.5 2089.1 L468.5 2089.2 L470.5 2089.2 L470.5 2089.4 L472.5 2089.4 L472.5 2089.5 L474.5 2089.5 L474.5 2089.7 L476.5 2089.7 L476.5 2089.8 L478.5 2089.8 L478.5 2089.9 L480.5 2089.9 L480.5 2090 L482.5 2090 L482.5 2090.2 L484.5 2090.2 L484.5 2090.3 L486.5 2090.3 L486.5 2090.4 L488.5 2090.4 L488.5 2090.5 L490.5 2090.5 L490.5 2090.6 L492.5 2090.6 L492.5 2090.8 L494.5 2090.8 L494.5 2090.9 L496.5 2090.9 L496.5 2091 L498.5 2091 L498.5 2091.1 L500.5 2091.1 L500.5 2091.2 L502.5 2091.2 L502.5 2091.3 L504.5 2091.3 L504.5 2091.4 L506.5 2091.4 L506.5 2091.5 L508.5 2091.5 L508.5 2091.6 L510.5 2091.6 L510.5 2091.7 L512.5 2091.7 L512.5 2091.8 L514.5 2091.8 L514.5 2091.9 L516.5 2091.9 L516.5 2092 L518.5 2092 L518.5 2092.1 L520.5 2092.1 L520.5 2092.2 L522.5 2092.2 L522.5 2092.3 L524.5 2092.3 L524.5 2092.4 L526.5 2092.4 L526.5 2092.5 L528.5 2092.5 L528.5 2092.6 L530.5 2092.6 L530.5 2092.7 L532.5 2092.7 L532.5 2092.8 L534.5 2092.8 L534.5 2092.9 L536.5 2092.9 L536.5 2093 L538.5 2093 L538.5 2093.1 L540.5 2093.1 L540.5 2093.2 L544.5 2093.2 L544.5 2093.3 L546.5 2093.3 L546.5 2093.4 L548.5 2093.4 L548.5 2093.5 L550.5 2093.5 L550.5 2093.6 L552.5 2093.6 L552.5 2093.7 L554.5 2093.7 L554.5 2093.8 L556.5 2093.8 L556.5 2093.9 L558.5 2093.9 L558.5 2094 L560.5 2094 L560.5 2094.1 L564.5 2094.1 L564.5 2094.2 L566.5 2094.2 L566.5 2094.3 L568.5 2094.3 L568.5 2094.4 L570.5 2094.4 L570.5 2094.5 L572.5 2094.5 L572.5 2094.6 L574.5 2094.6 L574.5 2094.7 L576.5 2094.7 L576.5 2094.8 L578.5 2094.8 L578.5 2094.9 L580.5 2094.9 L580.5 2095 L582.5 2095 L582.5 2095.1 L584.5 2095.1 L584.5 2095.2 L586.5 2095.2 L586.5 2095.3 L588.5 2095.3 L588.5 2095.4 L592.5 2095.4 L592.5 2095.5 L594.5 2095.5 L594.5 2095.6 L596.5 2095.6 L596.5 2095.7 L598.5 2095.7 L598.5 2095.8 L600.5 2095.8 L600.5 2095.9 L602.5 2095.9 L602.5 2096 L604.5 2096 L604.5 2096.1 L606.5 2096.1 L606.5 2096.2 L610.5 2096.2 L610.5 2096.3 L612.5 2096.3 L612.5 2096.4 L614.5 2096.4 L614.5 2096.5 L618.5 2096.5 L618.5 2096.6 L620.5 2096.6 L620.5 2096.7 L624.5 2096.7 L624.5 2096.8 L626.5 2096.8 L626.5 2096.9 L630.5 2096.9 L630.5 2097 L634.5 2097 L634.5 2097.1 L638.5 2097.1 L638.5 2097.2 L642.5 2097.2 L642.5 2097.3 L648.5 2097.3 L648.5 2097.4 L652.5 2097.4 L652.5 2097.5 L656.5 2097.5 L656.5 2097.6 L662.5 2097.6 L662.5 2097.7 L668.5 2097.7 L668.5 2097.8 L674.5 2097.8 L674.5 2097.9 L678.5 2097.9 L678.5 2098 L684.5 2098 L684.5 2098.1 L690.5 2098.1 L690.5 2098.2 L696.5 2098.2 L696.5 2098.3 L702.5 2098.3 L702.5 2098.4 L708.5 2098.4 L708.5 2098.5 L714.5 2098.5 L714.5 2098.6 L720.5 2098.6 L720.5 2098.7 L726.5 2098.7 L726.5 2098.8 L732.5 2098.8 L732.5 2098.9 L738.5 2098.9 L738.5 2099 L744.5 2099 L744.5 2099.1 L750.5 2099.1 L750.5 2099.2 L756.5 2099.2 L756.5 2099.3 L762.5 2099.3 L762.5 2099.4 L768.5 2099.4 L768.5 2099.5 L774.5 2099.5 L774.5 2099.6 L782.5 2099.6 L782.5 2099.7 L788.5 2099.7 L788.5 2099.8 L794.5 2099.8 L794.5 2099.9 L800.5 2099.9 L800.5 2100 L806.5 2100 L806.5 2100.1 L812.5 2100.1 L812.5 2100.2 L818.5 2100.2 L818.5 2100.3 L824.5 2100.3 L824.5 2100.4 L830.5 2100.4 L830.5 2100.5 L836.5 2100.5 L836.5 2100.6 L842.5 2100.6 L842.5 2100.7 L848.5 2100.7 L848.5 2100.8 L854.5 2100.8 L854.5 2100.9 L860.5 2100.9 L860.5 2101 L866.5 2101 L866.5 2101.1 L872.5 2101.1 L872.5 2101.2 L875.5 2101.2 L875.5 2120.2 L855.5 2120.2 L855.5 2120.1 L849.5 2120.1 L849.5 2120 L843.5 2120 L843.5 2119.9 L837.5 2119.9 L837.5 2119.8 L831.5 2119.8 L831.5 2119.7 L825.5 2119.7 L825.5 2119.6 L819.5 2119.6 L819.5 2119.5 L813.5 2119.5 L813.5 2119.4 L807.5 2119.4 L807.5 2119.3 L801.5 2119.3 L801.5 2119.2 L795.5 2119.2 L795.5 2119.1 L789.5 2119.1 L789.5 2119 L783.5 2119 L783.5 2118.9 L777.5 2118.9 L777.5 2118.8 L771.5 2118.8 L771.5 2118.7 L765.5 2118.7 L765.5 2118.6 L757.5 2118.6 L757.5 2118.5 L751.5 2118.5 L751.5 2118.4 L745.5 2118.4 L745.5 2118.3 L739.5 2118.3 L739.5 2118.2 L733.5 2118.2 L733.5 2118.1 L727.5 2118.1 L727.5 2118 L721.5 2118 L721.5 2117.9 L715.5 2117.9 L715.5 2117.8 L709.5 2117.8 L709.5 2117.7 L703.5 2117.7 L703.5 2117.6 L697.5 2117.6 L697.5 2117.5 L691.5 2117.5 L691.5 2117.4 L685.5 2117.4 L685.5 2117.3 L679.5 2117.3 L679.5 2117.2 L673.5 2117.2 L673.5 2117.1 L667.5 2117.1 L667.5 2117 L661.5 2117 L661.5 2116.9 L657.5 2116.9 L657.5 2116.8 L651.5 2116.8 L651.5 2116.7 L645.5 2116.7 L645.5 2116.6 L639.5 2116.6 L639.5 2116.5 L635.5 2116.5 L635.5 2116.4 L631.5 2116.4 L631.5 2116.3 L625.5 2116.3 L625.5 2116.2 L621.5 2116.2 L621.5 2116.1 L617.5 2116.1 L617.5 2116 L613.5 2116 L613.5 2115.9 L609.5 2115.9 L609.5 2115.8 L607.5 2115.8 L607.5 2115.7 L603.5 2115.7 L603.5 2115.6 L601.5 2115.6 L601.5 2115.5 L597.5 2115.5 L597.5 2115.4 L595.5 2115.4 L595.5 2115.3 L593.5 2115.3 L593.5 2115.2 L589.5 2115.2 L589.5 2115.1 L587.5 2115.1 L587.5 2115 L585.5 2115 L585.5 2114.9 L583.5 2114.9 L583.5 2114.8 L581.5 2114.8 L581.5 2114.7 L579.5 2114.7 L579.5 2114.6 L577.5 2114.6 L577.5 2114.5 L575.5 2114.5 L575.5 2114.4 L571.5 2114.4 L571.5 2114.3 L569.5 2114.3 L569.5 2114.2 L567.5 2114.2 L567.5 2114.1 L565.5 2114.1 L565.5 2114 L563.5 2114 L563.5 2113.9 L561.5 2113.9 L561.5 2113.8 L559.5 2113.8 L559.5 2113.7 L557.5 2113.7 L557.5 2113.6 L555.5 2113.6 L555.5 2113.5 L553.5 2113.5 L553.5 2113.4 L551.5 2113.4 L551.5 2113.3 L549.5 2113.3 L549.5 2113.2 L547.5 2113.2 L547.5 2113.1 L543.5 2113.1 L543.5 2113 L541.5 2113 L541.5 2112.9 L539.5 2112.9 L539.5 2112.8 L537.5 2112.8 L537.5 2112.7 L535.5 2112.7 L535.5 2112.6 L533.5 2112.6 L533.5 2112.5 L531.5 2112.5 L531.5 2112.4 L529.5 2112.4 L529.5 2112.3 L527.5 2112.3 L527.5 2112.2 L523.5 2112.2 L523.5 2112.1 L521.5 2112.1 L521.5 2112 L519.5 2112 L519.5 2111.9 L517.5 2111.9 L517.5 2111.8 L515.5 2111.8 L515.5 2111.7 L513.5 2111.7 L513.5 2111.6 L511.5 2111.6 L511.5 2111.5 L509.5 2111.5 L509.5 2111.4 L507.5 2111.4 L507.5 2111.3 L505.5 2111.3 L505.5 2111.2 L503.5 2111.2 L503.5 2111.1 L501.5 2111.1 L501.5 2111 L499.5 2111 L499.5 2110.9 L497.5 2110.9 L497.5 2110.8 L495.5 2110.8 L495.5 2110.7 L493.5 2110.7 L493.5 2110.6 L491.5 2110.6 L491.5 2110.5 L489.5 2110.5 L489.5 2110.4 L487.5 2110.4 L487.5 2110.3 L485.5 2110.3 L485.5 2110.2 L483.5 2110.2 L483.5 2110.1 L481.5 2110.1 L481.5 2110 L479.5 2110 L479.5 2109.9 L477.5 2109.9 L477.5 2109.8 L475.5 2109.8 L475.5 2109.6 L473.5 2109.6 L473.5 2109.5 L471.5 2109.5 L471.5 2109.4 L469.5 2109.4 L469.5 2109.3 L467.5 2109.3 L467.5 2109.2 L465.5 2109.2 L465.5 2109 L463.5 2109 L463.5 2108.9 L461.5 2108.9 L461.5 2108.8 L459.5 2108.8 L459.5 2108.7 L457.5 2108.7 L457.5 2108.5 L455.5 2108.5 L455.5 2108.4 L453.5 2108.4 L453.5 2108.2 L451.5 2108.2 L451.5 2108.1 L449.5 2108.1 L449.5 2108 L447.5 2108 L447.5 2107.8 L445.5 2107.8 L445.5 2107.7 L443.5 2107.7 L443.5 2107.5 L441.5 2107.5 L441.5 2107.4 L439.5 2107.4 L439.5 2107.2 L437.5 2107.2 L437.5 2107.1 L435.5 2107.1 L435.5 2106.9 L433.5 2106.9 L433.5 2106.8 L431.5 2106.8 L431.5 2106.6 L429.5 2106.6 L429.5 2106.4 L427.5 2106.4 L427.5 2106.3 L425.5 2106.3 L425.5 2106.1 L423.5 2106.1 L423.5 2106 L421.5 2106 L421.5 2105.8 L419.5 2105.8 L419.5 2105.6 L417.5 2105.6 L417.5 2105.5 L415.5 2105.5 L415.5 2105.3 L413.5 2105.3 L413.5 2105.1 L411.5 2105.1 L411.5 2105 L409.5 2105 L409.5 2104.8 L407.5 2104.8 L407.5 2104.6 L405.5 2104.6 L405.5 2104.5 L403.5 2104.5 L403.5 2104.3 L401.5 2104.3 L401.5 2104.1 L399.5 2104.1 L399.5 2104 L397.5 2104 L397.5 2103.8 L395.5 2103.8 L395.5 2103.6 L393.5 2103.6 L393.5 2103.5 L391.5 2103.5 L391.5 2103.3 L389.5 2103.3 L389.5 2103.2 L387.5 2103.2 L387.5 2103 L385.5 2103 L385.5 2102.8 L383.5 2102.8 L383.5 2102.7 L381.5 2102.7 L381.5 2102.5 L379.5 2102.5 L379.5 2102.4 L377.5 2102.4 L377.5 2102.2 L375.5 2102.2 L375.5 2102 L373.5 2102 L373.5 2101.8 L371.5 2101.8 L371.5 2101.7 L369.5 2101.7 L369.5 2101.5 L367.5 2101.5 L367.5 2101.3 L365.5 2101.3 L365.5 2101.1 L363.5 2101.1 L363.5 2100.9 L361.5 2100.9 L361.5 2100.7 L359.5 2100.7 L359.5 2100.5 L357.5 2100.5 L357.5 2100.3 L355.5 2100.3 L355.5 2100 L353.5 2100 L353.5 2099.8 L351.5 2099.8 L351.5 2099.6 L349.5 2099.6 L349.5 2099.3 L347.5 2099.3 L347.5 2099 L345.5 2099 L345.5 2098.8 L343.5 2098.8 L343.5 2098.5 L341.5 2098.5 L341.5 2098.2 L339.5 2098.2 L339.5 2097.9 L337.5 2097.9 L337.5 2097.5 L335.5 2097.5 L335.5 2097.1 L333.5 2097.1 L333.5 2096.7 L331.5 2096.7 L331.5 2096.3 L329.5 2096.3 L329.5 2095.8 L327.5 2095.8 L327.5 2095.3 L325.5 2095.3 L325.5 2094.9 L323.5 2094.9 L323.5 2094.3 L321.5 2094.3 L321.5 2093.8 L319.5 2093.8 L319.5 2093.3 L317.5 2093.3 L317.5 2092.7 L316 2092.7 Z" fill="#ff0000"/>
<path d="M903.5 1514.5 L922.5 1514.5 L922.5 1515.3 L924.5 1515.3 L924.5 1516 L926.5 1516 L926.5 1516.7 L928.5 1516.7 L928.5 1517.3 L930.5 1517.3 L930.5 1517.7 L932.5 1517.7 L932.5 1518 L934.5 1518 L934.5 1518.3 L936.5 1518.3 L936.5 1518.5 L938.5 1518.5 L938.5 1518.7 L940.5 1518.7 L940.5 1518.8 L942.5 1518.8 L942.5 1519 L944.5 1519 L944.5 1519.1 L946.5 1519.1 L946.5 1519.2 L948.5 1519.2 L948.5 1519.3 L952.5 1519.3 L952.5 1519.4 L956.5 1519.4 L956.5 1519.5 L960.5 1519.5 L960.5 1519.6 L964.5 1519.6 L964.5 1519.7 L968.5 1519.7 L968.5 1519.8 L972.5 1519.8 L972.5 1519.9 L978.5 1519.9 L978.5 1520 L984.5 1520 L984.5 1520.1 L990.5 1520.1 L990.5 1520.2 L996.5 1520.2 L996.5 1520.3 L1004.5 1520.3 L1004.5 1520.4 L1012.5 1520.4 L1012.5 1520.5 L1024.5 1520.5 L1024.5 1520.6 L1040.5 1520.6 L1040.5 1520.7 L1074.5 1520.7 L1074.5 1520.8 L1128.5 1520.8 L1128.5 1520.9 L1253.5 1520.9 L1253.5 1520.8 L1305.5 1520.8 L1305.5 1520.7 L1341.5 1520.7 L1341.5 1520.6 L1371.5 1520.6 L1371.5 1520.5 L1395.5 1520.5 L1395.5 1520.4 L1419.5 1520.4 L1419.5 1520.3 L1439.5 1520.3 L1439.5 1520.2 L1459.5 1520.2 L1459.5 1520.1 L1486.5 1520.1 L1486.5 1539.1 L1476.5 1539.1 L1476.5 1539.2 L1456.5 1539.2 L1456.5 1539.3 L1436.5 1539.3 L1436.5 1539.4 L1412.5 1539.4 L1412.5 1539.5 L1388.5 1539.5 L1388.5 1539.6 L1358.5 1539.6 L1358.5 1539.7 L1322.5 1539.7 L1322.5 1539.8 L1270.5 1539.8 L1270.5 1539.9 L1111.5 1539.9 L1111.5 1539.8 L1057.5 1539.8 L1057.5 1539.7 L1023.5 1539.7 L1023.5 1539.6 L1007.5 1539.6 L1007.5 1539.5 L995.5 1539.5 L995.5 1539.4 L987.5 1539.4 L987.5 1539.3 L979.5 1539.3 L979.5 1539.2 L973.5 1539.2 L973.5 1539.1 L967.5 1539.1 L967.5 1539 L961.5 1539 L961.5 1538.9 L955.5 1538.9 L955.5 1538.8 L951.5 1538.8 L951.5 1538.7 L947.5 1538.7 L947.5 1538.6 L943.5 1538.6 L943.5 1538.5 L939.5 1538.5 L939.5 1538.4 L935.5 1538.4 L935.5 1538.3 L931.5 1538.3 L931.5 1538.2 L929.5 1538.2 L929.5 1538.1 L927.5 1538.1 L927.5 1538 L925.5 1538 L925.5 1537.8 L923.5 1537.8 L923.5 1537.7 L921.5 1537.7 L921.5 1537.5 L919.5 1537.5 L919.5 1537.3 L917.5 1537.3 L917.5 1537 L915.5 1537 L915.5 1536.7 L913.5 1536.7 L913.5 1536.3 L911.5 1536.3 L911.5 1535.7 L909.5 1535.7 L909.5 1535 L907.5 1535 L907.5 1534.3 L905.5 1534.3 L905.5 1533.5 L903.5 1533.5 Z" fill="#ff0000"/>
<path d="M1519.5 2077.5 L1538.5 2077.5 L1538.5 2078 L1540.5 2078 L1540.5 2078.5 L1542.5 2078.5 L1542.5 2079 L1544.5 2079 L1544.5 2079.4 L1546.5 2079.4 L1546.5 2079.8 L1548.5 2079.8 L1548.5 2080.2 L1550.5 2080.2 L1550.5 2080.6 L1552.5 2080.6 L1552.5 2081 L1554.5 2081 L1554.5 2081.4 L1556.5 2081.4 L1556.5 2081.7 L1558.5 2081.7 L1558.5 2082 L1560.5 2082 L1560.5 2082.3 L1562.5 2082.3 L1562.5 2082.6 L1564.5 2082.6 L1564.5 2082.9 L1566.5 2082.9 L1566.5 2083.2 L1568.5 2083.2 L1568.5 2083.4 L1570.5 2083.4 L1570.5 2083.6 L1572.5 2083.6 L1572.5 2083.8 L1574.5 2083.8 L1574.5 2084 L1576.5 2084 L1576.5 2084.1 L1578.5 2084.1 L1578.5 2084.3 L1580.5 2084.3 L1580.5 2084.5 L1582.5 2084.5 L1582.5 2084.6 L1584.5 2084.6 L1584.5 2084.8 L1586.5 2084.8 L1586.5 2084.9 L1588.5 2084.9 L1588.5 2085.1 L1590.5 2085.1 L1590.5 2085.2 L1592.5 2085.2 L1592.5 2085.4 L1594.5 2085.4 L1594.5 2085.5 L1596.5 2085.5 L1596.5 2085.7 L1598.5 2085.7 L1598.5 2085.8 L1600.5 2085.8 L1600.5 2085.9 L1602.5 2085.9 L1602.5 2086.1 L1604.5 2086.1 L1604.5 2086.2 L1606.5 2086.2 L1606.5 2086.3 L1608.5 2086.3 L1608.5 2086.4 L1610.5 2086.4 L1610.5 2086.5 L1612.5 2086.5 L1612.5 2086.7 L1614.5 2086.7 L1614.5 2086.8 L1616.5 2086.8 L1616.5 2086.9 L1618.5 2086.9 L1618.5 2087 L1620.5 2087 L1620.5 2087.1 L1622.5 2087.1 L1622.5 2087.2 L1624.5 2087.2 L1624.5 2087.3 L1626.5 2087.3 L1626.5 2087.4 L1628.5 2087.4 L1628.5 2087.5 L1630.5 2087.5 L1630.5 2087.6 L1632.5 2087.6 L1632.5 2087.7 L1634.5 2087.7 L1634.5 2087.8 L1638.5 2087.8 L1638.5 2087.9 L1640.5 2087.9 L1640.5 2088 L1642.5 2088 L1642.5 2088.1 L1644.5 2088.1 L1644.5 2088.2 L1646.5 2088.2 L1646.5 2088.3 L1650.5 2088.3 L1650.5 2088.4 L1652.5 2088.4 L1652.5 2088.5 L1654.5 2088.5 L1654.5 2088.6 L1656.5 2088.6 L1656.5 2088.7 L1660.5 2088.7 L1660.5 2088.8 L1662.5 2088.8 L1662.5 2088.9 L1666.5 2088.9 L1666.5 2089 L1668.5 2089 L1668.5 2089.1 L1672.5 2089.1 L1672.5 2089.2 L1674.5 2089.2 L1674.5 2089.3 L1678.5 2089.3 L1678.5 2089.4 L1682.5 2089.4 L1682.5 2089.5 L1686.5 2089.5 L1686.5 2089.6 L1690.5 2089.6 L1690.5 2089.7 L1692.5 2089.7 L1692.5 2089.8 L1696.5 2089.8 L1696.5 2089.9 L1700.5 2089.9 L1700.5 2090 L1704.5 2090 L1704.5 2090.1 L1708.5 2090.1 L1708.5 2090.2 L1712.5 2090.2 L1712.5 2090.3 L1716.5 2090.3 L1716.5 2090.4 L1720.5 2090.4 L1720.5 2090.5 L1724.5 2090.5 L1724.5 2090.6 L1728.5 2090.6 L1728.5 2090.7 L1730.5 2090.7 L1730.5 2090.8 L1734.5 2090.8 L1734.5 2090.9 L1738.5 2090.9 L1738.5 2091 L1740.5 2091 L1740.5 2091.1 L1744.5 2091.1 L1744.5 2091.2 L1748.5 2091.2 L1748.5 2091.3 L1750.5 2091.3 L1750.5 2091.4 L1754.5 2091.4 L1754.5 2091.5 L1756.5 2091.5 L1756.5 2091.6 L1760.5 2091.6 L1760.5 2091.7 L1762.5 2091.7 L1762.5 2091.8 L1766.5 2091.8 L1766.5 2091.9 L1770.5 2091.9 L1770.5 2092 L1772.5 2092 L1772.5 2092.1 L1776.5 2092.1 L1776.5 2092.2 L1778.5 2092.2 L1778.5 2092.3 L1782.5 2092.3 L1782.5 2092.4 L1784.5 2092.4 L1784.5 2092.5 L1788.5 2092.5 L1788.5 2092.6 L1790.5 2092.6 L1790.5 2092.7 L1794.5 2092.7 L1794.5 2092.8 L1796.5 2092.8 L1796.5 2092.9 L1800.5 2092.9 L1800.5 2093 L1804.5 2093 L1804.5 2093.1 L1806.5 2093.1 L1806.5 2093.2 L1810.5 2093.2 L1810.5 2093.3 L1814.5 2093.3 L1814.5 2093.4 L1816.5 2093.4 L1816.5 2093.5 L1820.5 2093.5 L1820.5 2093.6 L1822.5 2093.6 L1822.5 2093.7 L1826.5 2093.7 L1826.5 2093.8 L1830.5 2093.8 L1830.5 2093.9 L1832.5 2093.9 L1832.5 2094 L1836.5 2094 L1836.5 2094.1 L1840.5 2094.1 L1840.5 2094.2 L1842.5 2094.2 L1842.5 2094.3 L1846.5 2094.3 L1846.5 2094.4 L1848.5 2094.4 L1848.5 2094.5 L1852.5 2094.5 L1852.5 2094.6 L1854.5 2094.6 L1854.5 2094.7 L1858.5 2094.7 L1858.5 2094.8 L1862.5 2094.8 L1862.5 2094.9 L1864.5 2094.9 L1864.5 2095 L1868.5 2095 L1868.5 2095.1 L1870.5 2095.1 L1870.5 2095.2 L1874.5 2095.2 L1874.5 2095.3 L1878.5 2095.3 L1878.5 2095.4 L1880.5 2095.4 L1880.5 2095.5 L1884.5 2095.5 L1884.5 2095.6 L1888.5 2095.6 L1888.5 2095.7 L1892.5 2095.7 L1892.5 2095.8 L1894.5 2095.8 L1894.5 2095.9 L1898.5 2095.9 L1898.5 2096 L1902.5 2096 L1902.5 2096.1 L1906.5 2096.1 L1906.5 2096.2 L1910.5 2096.2 L1910.5 2096.3 L1914.5 2096.3 L1914.5 2096.4 L1920.5 2096.4 L1920.5 2096.5 L1924.5 2096.5 L1924.5 2096.6 L1930.5 2096.6 L1930.5 2096.7 L1936.5 2096.7 L1936.5 2096.8 L1942.5 2096.8 L1942.5 2096.9 L1948.5 2096.9 L1948.5 2097 L1954.5 2097 L1954.5 2097.1 L1962.5 2097.1 L1962.5 2097.2 L1968.5 2097.2 L1968.5 2097.3 L1974.5 2097.3 L1974.5 2097.4 L1982.5 2097.4 L1982.5 2097.5 L1988.5 2097.5 L1988.5 2097.6 L1996.5 2097.6 L1996.5 2097.7 L2004.5 2097.7 L2004.5 2097.8 L2012.5 2097.8 L2012.5 2097.9 L2022.5 2097.9 L2022.5 2098 L2032.5 2098 L2032.5 2098.1 L2044.5 2098.1 L2044.5 2098.2 L2060.5 2098.2 L2060.5 2098.3 L2075.5 2098.3 L2075.5 2117.3 L2043.5 2117.3 L2043.5 2117.2 L2027.5 2117.2 L2027.5 2117.1 L2015.5 2117.1 L2015.5 2117 L2005.5 2117 L2005.5 2116.9 L1995.5 2116.9 L1995.5 2116.8 L1987.5 2116.8 L1987.5 2116.7 L1979.5 2116.7 L1979.5 2116.6 L1971.5 2116.6 L1971.5 2116.5 L1965.5 2116.5 L1965.5 2116.4 L1957.5 2116.4 L1957.5 2116.3 L1951.5 2116.3 L1951.5 2116.2 L1945.5 2116.2 L1945.5 2116.1 L1937.5 2116.1 L1937.5 2116 L1931.5 2116 L1931.5 2115.9 L1925.5 2115.9 L1925.5 2115.8 L1919.5 2115.8 L1919.5 2115.7 L1913.5 2115.7 L1913.5 2115.6 L1907.5 2115.6 L1907.5 2115.5 L1903.5 2115.5 L1903.5 2115.4 L1897.5 2115.4 L1897.5 2115.3 L1893.5 2115.3 L1893.5 2115.2 L1889.5 2115.2 L1889.5 2115.1 L1885.5 2115.1 L1885.5 2115 L1881.5 2115 L1881.5 2114.9 L1877.5 2114.9 L1877.5 2114.8 L1875.5 2114.8 L1875.5 2114.7 L1871.5 2114.7 L1871.5 2114.6 L1867.5 2114.6 L1867.5 2114.5 L1863.5 2114.5 L1863.5 2114.4 L1861.5 2114.4 L1861.5 2114.3 L1857.5 2114.3 L1857.5 2114.2 L1853.5 2114.2 L1853.5 2114.1 L1851.5 2114.1 L1851.5 2114 L1847.5 2114 L1847.5 2113.9 L1845.5 2113.9 L1845.5 2113.8 L1841.5 2113.8 L1841.5 2113.7 L1837.5 2113.7 L1837.5 2113.6 L1835.5 2113.6 L1835.5 2113.5 L1831.5 2113.5 L1831.5 2113.4 L1829.5 2113.4 L1829.5 2113.3 L1825.5 2113.3 L1825.5 2113.2 L1823.5 2113.2 L1823.5 2113.1 L1819.5 2113.1 L1819.5 2113 L1815.5 2113 L1815.5 2112.9 L1813.5 2112.9 L1813.5 2112.8 L1809.5 2112.8 L1809.5 2112.7 L1805.5 2112.7 L1805.5 2112.6 L1803.5 2112.6 L1803.5 2112.5 L1799.5 2112.5 L1799.5 2112.4 L1797.5 2112.4 L1797.5 2112.3 L1793.5 2112.3 L1793.5 2112.2 L1789.5 2112.2 L1789.5 2112.1 L1787.5 2112.1 L1787.5 2112 L1783.5 2112 L1783.5 2111.9 L1779.5 2111.9 L1779.5 2111.8 L1777.5 2111.8 L1777.5 2111.7 L1773.5 2111.7 L1773.5 2111.6 L1771.5 2111.6 L1771.5 2111.5 L1767.5 2111.5 L1767.5 2111.4 L1765.5 2111.4 L1765.5 2111.3 L1761.5 2111.3 L1761.5 2111.2 L1759.5 2111.2 L1759.5 2111.1 L1755.5 2111.1 L1755.5 2111 L1753.5 2111 L1753.5 2110.9 L1749.5 2110.9 L1749.5 2110.8 L1745.5 2110.8 L1745.5 2110.7 L1743.5 2110.7 L1743.5 2110.6 L1739.5 2110.6 L1739.5 2110.5 L1737.5 2110.5 L1737.5 2110.4 L1733.5 2110.4 L1733.5 2110.3 L1731.5 2110.3 L1731.5 2110.2 L1727.5 2110.2 L1727.5 2110.1 L1723.5 2110.1 L1723.5 2110 L1721.5 2110 L1721.5 2109.9 L1717.5 2109.9 L1717.5 2109.8 L1713.5 2109.8 L1713.5 2109.7 L1711.5 2109.7 L1711.5 2109.6 L1707.5 2109.6 L1707.5 2109.5 L1703.5 2109.5 L1703.5 2109.4 L1699.5 2109.4 L1699.5 2109.3 L1695.5 2109.3 L1695.5 2109.2 L1691.5 2109.2 L1691.5 2109.1 L1687.5 2109.1 L1687.5 2109 L1683.5 2109 L1683.5 2108.9 L1679.5 2108.9 L1679.5 2108.8 L1675.5 2108.8 L1675.5 2108.7 L1673.5 2108.7 L1673.5 2108.6 L1669.5 2108.6 L1669.5 2108.5 L1665.5 2108.5 L1665.5 2108.4 L1661.5 2108.4 L1661.5 2108.3 L1657.5 2108.3 L1657.5 2108.2 L1655.5 2108.2 L1655.5 2108.1 L1651.5 2108.1 L1651.5 2108 L1649.5 2108 L1649.5 2107.9 L1645.5 2107.9 L1645.5 2107.8 L1643.5 2107.8 L1643.5 2107.7 L1639.5 2107.7 L1639.5 2107.6 L1637.5 2107.6 L1637.5 2107.5 L1635.5 2107.5 L1635.5 2107.4 L1633.5 2107.4 L1633.5 2107.3 L1629.5 2107.3 L1629.5 2107.2 L1627.5 2107.2 L1627.5 2107.1 L1625.5 2107.1 L1625.5 2107 L1623.5 2107 L1623.5 2106.9 L1621.5 2106.9 L1621.5 2106.8 L1617.5 2106.8 L1617.5 2106.7 L1615.5 2106.7 L1615.5 2106.6 L1613.5 2106.6 L1613.5 2106.5 L1611.5 2106.5 L1611.5 2106.4 L1609.5 2106.4 L1609.5 2106.3 L1607.5 2106.3 L1607.5 2106.2 L1605.5 2106.2 L1605.5 2106.1 L1603.5 2106.1 L1603.5 2106 L1601.5 2106 L1601.5 2105.9 L1599.5 2105.9 L1599.5 2105.8 L1597.5 2105.8 L1597.5 2105.7 L1595.5 2105.7 L1595.5 2105.5 L1593.5 2105.5 L1593.5 2105.4 L1591.5 2105.4 L1591.5 2105.3 L1589.5 2105.3 L1589.5 2105.2 L1587.5 2105.2 L1587.5 2105.1 L1585.5 2105.1 L1585.5 2104.9 L1583.5 2104.9 L1583.5 2104.8 L1581.5 2104.8 L1581.5 2104.7 L1579.5 2104.7 L1579.5 2104.5 L1577.5 2104.5 L1577.5 2104.4 L1575.5 2104.4 L1575.5 2104.2 L1573.5 2104.2 L1573.5 2104.1 L1571.5 2104.1 L1571.5 2103.9 L1569.5 2103.9 L1569.5 2103.8 L1567.5 2103.8 L1567.5 2103.6 L1565.5 2103.6 L1565.5 2103.5 L1563.5 2103.5 L1563.5 2103.3 L1561.5 2103.3 L1561.5 2103.1 L1559.5 2103.1 L1559.5 2103 L1557.5 2103 L1557.5 2102.8 L1555.5 2102.8 L1555.5 2102.6 L1553.5 2102.6 L1553.5 2102.4 L1551.5 2102.4 L1551.5 2102.2 L1549.5 2102.2 L1549.5 2101.9 L1547.5 2101.9 L1547.5 2101.6 L1545.5 2101.6 L1545.5 2101.3 L1543.5 2101.3 L1543.5 2101 L1541.5 2101 L1541.5 2100.7 L1539.5 2100.7 L1539.5 2100.4 L1537.5 2100.4 L1537.5 2100 L1535.5 2100 L1535.5 2099.6 L1533.5 2099.6 L1533.5 2099.2 L1531.5 2099.2 L1531.5 2098.8 L1529.5 2098.8 L1529.5 2098.4 L1527.5 2098.4 L1527.5 2098 L1525.5 2098 L1525.5 2097.5 L1523.5 2097.5 L1523.5 2097 L1521.5 2097 L1521.5 2096.5 L1519.5 2096.5 Z" fill="#ff0000"/>
<path d="M316 2399.5 L329.5 2399.5 L329.5 2434.2 L332.5 2434.2 L332.5 2444.7 L334.5 2444.7 L334.5 2460.8 L337.5 2460.8 L337.5 2466.6 L339.5 2466.6 L339.5 2476.9 L349.5 2476.9 L349.5 2483.4 L357.5 2483.4 L357.5 2484.2 L359.5 2484.2 L359.5 2498.7 L367.5 2498.7 L367.5 2500.6 L372.5 2500.6 L372.5 2508.9 L374.5 2508.9 L374.5 2513.8 L379.5 2513.8 L379.5 2515.7 L384.5 2515.7 L384.5 2516.5 L389.5 2516.5 L389.5 2519.2 L394.5 2519.2 L394.5 2529.4 L397.5 2529.4 L397.5 2532.7 L399.5 2532.7 L399.5 2533 L402.5 2533 L402.5 2533.9 L417.5 2533.9 L417.5 2541.6 L419.5 2541.6 L419.5 2543.4 L427.5 2543.4 L427.5 2546.7 L429.5 2546.7 L429.5 2549.5 L434.5 2549.5 L434.5 2551.3 L437.5 2551.3 L437.5 2559.9 L444.5 2559.9 L444.5 2561.9 L457.5 2561.9 L457.5 2562.5 L464.5 2562.5 L464.5 2573.7 L467.5 2573.7 L467.5 2575.5 L482.5 2575.5 L482.5 2582.5 L485.5 2582.5 L485.5 2575.3 L504.5 2575.3 L504.5 2582.3 L519.5 2582.3 L519.5 2584.5 L522.5 2584.5 L522.5 2580.8 L542.5 2580.8 L542.5 2591.1 L544.5 2591.1 L544.5 2596.4 L557.5 2596.4 L557.5 2597.6 L574.5 2597.6 L574.5 2600.3 L580.5 2600.3 L580.5 2596.6 L599.5 2596.6 L599.5 2600.1 L602.5 2600.1 L602.5 2600.5 L619.5 2600.5 L619.5 2607.8 L622.5 2607.8 L622.5 2611.6 L627.5 2611.6 L627.5 2610.2 L647.5 2610.2 L647.5 2613.4 L649.5 2613.4 L649.5 2616.9 L652.5 2616.9 L652.5 2616.7 L672.5 2616.7 L672.5 2621.2 L682.5 2621.2 L682.5 2623.1 L687.5 2623.1 L687.5 2624.6 L694.5 2624.6 L694.5 2627.7 L702.5 2627.7 L702.5 2623.9 L722.5 2623.9 L722.5 2629.1 L742.5 2629.1 L742.5 2626.5 L762.5 2626.5 L762.5 2625.2 L782.5 2625.2 L782.5 2632.9 L785.5 2632.9 L785.5 2629.3 L795.5 2629.3 L795.5 2626.5 L814.5 2626.5 L814.5 2637.9 L822.5 2637.9 L822.5 2636.6 L842.5 2636.6 L842.5 2643.6 L846.5 2643.6 L846.5 2662.6 L844.5 2662.6 L844.5 2664.5 L839.5 2664.5 L839.5 2664.8 L837.5 2664.8 L837.5 2666.6 L829.5 2666.6 L829.5 2667.8 L810.5 2667.8 L810.5 2662.7 L809.5 2662.7 L809.5 2662.8 L792.5 2662.8 L792.5 2666.3 L772.5 2666.3 L772.5 2665.4 L770.5 2665.4 L770.5 2660.4 L769.5 2660.4 L769.5 2660.9 L757.5 2660.9 L757.5 2665.6 L737.5 2665.6 L737.5 2661.1 L725.5 2661.1 L725.5 2658.8 L715.5 2658.8 L715.5 2658.7 L697.5 2658.7 L697.5 2654.1 L695.5 2654.1 L695.5 2653.9 L692.5 2653.9 L692.5 2653.3 L690.5 2653.3 L690.5 2651 L689.5 2651 L689.5 2652.5 L670.5 2652.5 L670.5 2649.9 L669.5 2649.9 L669.5 2652.5 L650.5 2652.5 L650.5 2648.9 L645.5 2648.9 L645.5 2643.3 L635.5 2643.3 L635.5 2641.7 L624.5 2641.7 L624.5 2642 L605.5 2642 L605.5 2631.3 L597.5 2631.3 L597.5 2635.5 L577.5 2635.5 L577.5 2634.5 L570.5 2634.5 L570.5 2627.9 L569.5 2627.9 L569.5 2630.2 L552.5 2630.2 L552.5 2630.8 L532.5 2630.8 L532.5 2626.5 L517.5 2626.5 L517.5 2620.7 L507.5 2620.7 L507.5 2613.5 L495.5 2613.5 L495.5 2611.5 L487.5 2611.5 L487.5 2609.9 L477.5 2609.9 L477.5 2608.6 L465.5 2608.6 L465.5 2607.7 L452.5 2607.7 L452.5 2598.6 L450.5 2598.6 L450.5 2593.1 L440.5 2593.1 L440.5 2583.5 L422.5 2583.5 L422.5 2580.2 L420.5 2580.2 L420.5 2572.1 L412.5 2572.1 L412.5 2569.7 L395.5 2569.7 L395.5 2567.9 L390.5 2567.9 L390.5 2565.5 L387.5 2565.5 L387.5 2553.5 L385.5 2553.5 L385.5 2552 L382.5 2552 L382.5 2551.7 L380.5 2551.7 L380.5 2548.4 L377.5 2548.4 L377.5 2544.8 L367.5 2544.8 L367.5 2540.4 L362.5 2540.4 L362.5 2536.3 L357.5 2536.3 L357.5 2527.9 L355.5 2527.9 L355.5 2523.8 L350.5 2523.8 L350.5 2519.8 L342.5 2519.8 L342.5 2508.6 L335.5 2508.6 L335.5 2508.2 L327.5 2508.2 L327.5 2496.9 L322.5 2496.9 L322.5 2485.6 L320.5 2485.6 L320.5 2479.8 L317.5 2479.8 L317.5 2463.7 L316 2463.7 Z" fill="#ff0000"/>
<path d="M900.5 3000.4 L919.5 3000.4 L919.5 3010.3 L924.5 3010.3 L924.5 3031.2 L927.5 3031.2 L927.5 3032.3 L929.5 3032.3 L929.5 3033.3 L937.5 3033.3 L937.5 3041.1 L939.5 3041.1 L939.5 3050.9 L942.5 3050.9 L942.5 3051.5 L952.5 3051.5 L952.5 3066.2 L954.5 3066.2 L954.5 3070.3 L957.5 3070.3 L957.5 3075.1 L962.5 3075.1 L962.5 3079.5 L964.5 3079.5 L964.5 3082 L969.5 3082 L969.5 3084.9 L974.5 3084.9 L974.5 3091.2 L987.5 3091.2 L987.5 3106.5 L1004.5 3106.5 L1004.5 3119 L1012.5 3119 L1012.5 3127 L1017.5 3127 L1017.5 3128.1 L1019.5 3128.1 L1019.5 3128.3 L1022.5 3128.3 L1022.5 3139.2 L1027.5 3139.2 L1027.5 3139.8 L1029.5 3139.8 L1029.5 3140.3 L1032.5 3140.3 L1032.5 3143.9 L1037.5 3143.9 L1037.5 3146 L1042.5 3146 L1042.5 3147.8 L1052.5 3147.8 L1052.5 3153.6 L1057.5 3153.6 L1057.5 3157.3 L1067.5 3157.3 L1067.5 3160.5 L1072.5 3160.5 L1072.5 3167.4 L1077.5 3167.4 L1077.5 3171.1 L1082.5 3171.1 L1082.5 3177.3 L1092.5 3177.3 L1092.5 3181.4 L1104.5 3181.4 L1104.5 3187.3 L1114.5 3187.3 L1114.5 3190 L1115.5 3190 L1115.5 3183.9 L1134.5 3183.9 L1134.5 3201.5 L1144.5 3201.5 L1144.5 3202.8 L1150.5 3202.8 L1150.5 3198.2 L1169.5 3198.2 L1169.5 3210.4 L1170.5 3210.4 L1170.5 3205.4 L1189.5 3205.4 L1189.5 3209.7 L1194.5 3209.7 L1194.5 3214 L1195.5 3214 L1195.5 3212.6 L1205.5 3212.6 L1205.5 3205.8 L1224.5 3205.8 L1224.5 3217.9 L1239.5 3217.9 L1239.5 3218.4 L1249.5 3218.4 L1249.5 3222.8 L1252.5 3222.8 L1252.5 3223.1 L1262.5 3223.1 L1262.5 3225 L1277.5 3225 L1277.5 3226.2 L1282.5 3226.2 L1282.5 3232.5 L1289.5 3232.5 L1289.5 3234 L1294.5 3234 L1294.5 3236.2 L1300.5 3236.2 L1300.5 3228.1 L1319.5 3228.1 L1319.5 3238.7 L1327.5 3238.7 L1327.5 3239 L1334.5 3239 L1334.5 3243 L1335.5 3243 L1335.5 3240.5 L1354.5 3240.5 L1354.5 3242.6 L1355.5 3242.6 L1355.5 3240.2 L1357.5 3240.2 L1357.5 3240.1 L1377.5 3240.1 L1377.5 3237.6 L1397.5 3237.6 L1397.5 3239.7 L1412.5 3239.7 L1412.5 3251.8 L1424.5 3251.8 L1424.5 3253.8 L1425.5 3253.8 L1425.5 3251.2 L1444.5 3251.2 L1444.5 3254.3 L1447.5 3254.3 L1447.5 3256.8 L1449.5 3256.8 L1449.5 3258.6 L1454.5 3258.6 L1454.5 3260.7 L1459.5 3260.7 L1459.5 3264.4 L1464.5 3264.4 L1464.5 3268.1 L1472.5 3268.1 L1472.5 3273.1 L1477.5 3273.1 L1477.5 3276.6 L1479.5 3276.6 L1479.5 3295.6 L1469.5 3295.6 L1469.5 3297.7 L1450.5 3297.7 L1450.5 3294.4 L1447.5 3294.4 L1447.5 3287.4 L1432.5 3287.4 L1432.5 3283.7 L1415.5 3283.7 L1415.5 3278.6 L1414.5 3278.6 L1414.5 3281.7 L1395.5 3281.7 L1395.5 3279.4 L1390.5 3279.4 L1390.5 3276 L1385.5 3276 L1385.5 3272.9 L1382.5 3272.9 L1382.5 3271.7 L1365.5 3271.7 L1365.5 3269.9 L1362.5 3269.9 L1362.5 3274.6 L1342.5 3274.6 L1342.5 3274.2 L1340.5 3274.2 L1340.5 3272.5 L1330.5 3272.5 L1330.5 3265.8 L1325.5 3265.8 L1325.5 3263.9 L1322.5 3263.9 L1322.5 3264.9 L1314.5 3264.9 L1314.5 3272.2 L1295.5 3272.2 L1295.5 3267.9 L1287.5 3267.9 L1287.5 3264.7 L1285.5 3264.7 L1285.5 3263.7 L1282.5 3263.7 L1282.5 3258.5 L1280.5 3258.5 L1280.5 3257 L1279.5 3257 L1279.5 3261.2 L1260.5 3261.2 L1260.5 3256.6 L1250.5 3256.6 L1250.5 3248.9 L1247.5 3248.9 L1247.5 3248.7 L1245.5 3248.7 L1245.5 3247.1 L1235.5 3247.1 L1235.5 3243.4 L1232.5 3243.4 L1232.5 3246.5 L1217.5 3246.5 L1217.5 3246.7 L1197.5 3246.7 L1197.5 3241.9 L1177.5 3241.9 L1177.5 3239.3 L1157.5 3239.3 L1157.5 3235.1 L1142.5 3235.1 L1142.5 3230 L1132.5 3230 L1132.5 3232 L1112.5 3232 L1112.5 3218 L1110.5 3218 L1110.5 3216.7 L1097.5 3216.7 L1097.5 3212.1 L1092.5 3212.1 L1092.5 3210 L1082.5 3210 L1082.5 3203.4 L1077.5 3203.4 L1077.5 3202.5 L1075.5 3202.5 L1075.5 3202.4 L1070.5 3202.4 L1070.5 3201.7 L1065.5 3201.7 L1065.5 3201.3 L1060.5 3201.3 L1060.5 3189.5 L1055.5 3189.5 L1055.5 3189.1 L1040.5 3189.1 L1040.5 3177.3 L1030.5 3177.3 L1030.5 3172.7 L1025.5 3172.7 L1025.5 3168.2 L1020.5 3168.2 L1020.5 3165.8 L1015.5 3165.8 L1015.5 3162.4 L1005.5 3162.4 L1005.5 3147.3 L1002.5 3147.3 L1002.5 3147.1 L1000.5 3147.1 L1000.5 3146.5 L990.5 3146.5 L990.5 3141.5 L987.5 3141.5 L987.5 3137.2 L972.5 3137.2 L972.5 3128.9 L970.5 3128.9 L970.5 3125.1 L962.5 3125.1 L962.5 3122.7 L960.5 3122.7 L960.5 3112.4 L957.5 3112.4 L957.5 3111.5 L947.5 3111.5 L947.5 3100.3 L940.5 3100.3 L940.5 3089.3 L937.5 3089.3 L937.5 3088.6 L930.5 3088.6 L930.5 3085.3 L925.5 3085.3 L925.5 3069.9 L922.5 3069.9 L922.5 3062 L912.5 3062 L912.5 3051.3 L910.5 3051.3 L910.5 3050.2 L907.5 3050.2 L907.5 3035.2 L902.5 3035.2 L902.5 3019.4 L900.5 3019.4 Z" fill="#ff0000"/>
<rect x="1140.0" y="3276.6" width="18" height="18" fill="#ff0000"/>
<path d="M1552.5 3069 L1567.5 3069 L1567.5 3068.5 L1569.5 3068.5 L1569.5 3064.9 L1589.5 3064.9 L1589.5 3068.6 L1606.5 3068.6 L1606.5 3070.2 L1607.5 3070.2 L1607.5 3070.1 L1619.5 3070.1 L1619.5 3069.3 L1624.5 3069.3 L1624.5 3066 L1644.5 3066 L1644.5 3070.1 L1652.5 3070.1 L1652.5 3070 L1669.5 3070 L1669.5 3068.2 L1689.5 3068.2 L1689.5 3071.9 L1699.5 3071.9 L1699.5 3070.9 L1719.5 3070.9 L1719.5 3073.6 L1721.5 3073.6 L1721.5 3074.4 L1722.5 3074.4 L1722.5 3073.1 L1741.5 3073.1 L1741.5 3074.1 L1744.5 3074.1 L1744.5 3072.3 L1762.5 3072.3 L1762.5 3071.6 L1781.5 3071.6 L1781.5 3074.8 L1784.5 3074.8 L1784.5 3068.6 L1814.5 3068.6 L1814.5 3066.4 L1827.5 3066.4 L1827.5 3064.8 L1834.5 3064.8 L1834.5 3063.7 L1839.5 3063.7 L1839.5 3062.4 L1859.5 3062.4 L1859.5 3069 L1864.5 3069 L1864.5 3059.9 L1867.5 3059.9 L1867.5 3058.5 L1886.5 3058.5 L1886.5 3063.1 L1894.5 3063.1 L1894.5 3067.3 L1897.5 3067.3 L1897.5 3066.3 L1899.5 3066.3 L1899.5 3065.5 L1902.5 3065.5 L1902.5 3063.5 L1912.5 3063.5 L1912.5 3063.4 L1919.5 3063.4 L1919.5 3058.3 L1922.5 3058.3 L1922.5 3053.4 L1941.5 3053.4 L1941.5 3057.1 L1959.5 3057.1 L1959.5 3051.9 L1979.5 3051.9 L1979.5 3060.8 L1986.5 3060.8 L1986.5 3060.9 L1987.5 3060.9 L1987.5 3060.4 L2006.5 3060.4 L2006.5 3067.6 L2014.5 3067.6 L2014.5 3067.9 L2016.5 3067.9 L2016.5 3068.6 L2019.5 3068.6 L2019.5 3066.3 L2039.5 3066.3 L2039.5 3066.7 L2047.5 3066.7 L2047.5 3056.8 L2066.5 3056.8 L2066.5 3070.1 L2075.5 3070.1 L2075.5 3089.1 L2074.5 3089.1 L2074.5 3096.8 L2069.5 3096.8 L2069.5 3097.1 L2049.5 3097.1 L2049.5 3096.6 L2044.5 3096.6 L2044.5 3097.7 L2007.5 3097.7 L2007.5 3096.9 L1999.5 3096.9 L1999.5 3093.2 L1992.5 3093.2 L1992.5 3091.5 L1984.5 3091.5 L1984.5 3088.8 L1982.5 3088.8 L1982.5 3088.7 L1964.5 3088.7 L1964.5 3083.5 L1957.5 3083.5 L1957.5 3081.3 L1956.5 3081.3 L1956.5 3089.4 L1929.5 3089.4 L1929.5 3086.4 L1924.5 3086.4 L1924.5 3088.1 L1911.5 3088.1 L1911.5 3090.4 L1901.5 3090.4 L1901.5 3091 L1891.5 3091 L1891.5 3093.1 L1889.5 3093.1 L1889.5 3093.3 L1881.5 3093.3 L1881.5 3093.8 L1864.5 3093.8 L1864.5 3098.2 L1851.5 3098.2 L1851.5 3099.1 L1832.5 3099.1 L1832.5 3097 L1826.5 3097 L1826.5 3100.5 L1807.5 3100.5 L1807.5 3097.6 L1799.5 3097.6 L1799.5 3102.4 L1779.5 3102.4 L1779.5 3101.5 L1774.5 3101.5 L1774.5 3102.6 L1754.5 3102.6 L1754.5 3100.7 L1749.5 3100.7 L1749.5 3097.8 L1737.5 3097.8 L1737.5 3097 L1736.5 3097 L1736.5 3102.3 L1717.5 3102.3 L1717.5 3099.5 L1707.5 3099.5 L1707.5 3097.2 L1701.5 3097.2 L1701.5 3099.2 L1696.5 3099.2 L1696.5 3100.9 L1677.5 3100.9 L1677.5 3097.5 L1676.5 3097.5 L1676.5 3098.7 L1661.5 3098.7 L1661.5 3103 L1659.5 3103 L1659.5 3104 L1639.5 3104 L1639.5 3103.2 L1622.5 3103.2 L1622.5 3094.3 L1621.5 3094.3 L1621.5 3094.5 L1616.5 3094.5 L1616.5 3106.1 L1597.5 3106.1 L1597.5 3099.9 L1596.5 3099.9 L1596.5 3101.4 L1591.5 3101.4 L1591.5 3101.8 L1572.5 3101.8 L1572.5 3096.3 L1562.5 3096.3 L1562.5 3096 L1559.5 3096 L1559.5 3094.3 L1554.5 3094.3 L1554.5 3088 L1552.5 3088 Z" fill="#ff0000"/>
<line x1="1789.0" y1="916.2" x2="1739.6" y2="916.2" stroke="#ff0000" stroke-width="2.0"/>
<line x1="1899.5" y1="2006.0" x2="1805.4" y2="2006.0" stroke="#ff0000" stroke-width="2.0"/>
<polygon points="1710.9,489.7 1765.6,480.2 1765.6,499.2" fill="#000"/>
<polygon points="1843.7,916.2 1789.0,906.7 1789.0,925.7" fill="#ff0000"/>
<polygon points="1650.0,1266.1 1720.6,1239.1 1720.6,1293.1" fill="#000"/>
<polygon points="1967.7,2006.0 1899.5,1978.0 1899.5,2034.0" fill="#ff0000"/>
<polygon points="1699.5,2517.5 1751.2,2508.8 1751.2,2526.2" fill="#000"/>
<polygon points="1986.0,2995.9 1930.0,2986.4 1930.0,3005.4" fill="#000"/>
<text transform="translate(295.7,3493.5) scale(0.9177,1)" font-family="'Liberation Sans', Arial, sans-serif" font-size="86.6" font-weight="normal" font-style="normal" fill="#000" >0</text>
<text transform="translate(510.5,3493.5) scale(0.9177,1)" font-family="'Liberation Sans', Arial, sans-serif" font-size="86.6" font-weight="normal" font-style="normal" fill="#000" >2000</text>
<text transform="translate(792.8,3493.5) scale(0.9177,1)" font-family="'Liberation Sans', Arial, sans-serif" font-size="86.6" font-weight="normal" font-style="normal" fill="#000" >4000</text>
<text transform="translate(1072.7,3493.5) scale(0.9177,1)" font-family="'Liberation Sans', Arial, sans-serif" font-size="86.6" font-weight="normal" font-style="normal" fill="#000" >6000</text>
<text transform="translate(1354.2,3493.5) scale(0.9177,1)" font-family="'Liberation Sans', Arial, sans-serif" font-size="86.6" font-weight="normal" font-style="normal" fill="#000" >8000</text>
<text transform="translate(1611.5,3493.5) scale(0.9177,1)" font-family="'Liberation Sans', Arial, sans-serif" font-size="86.6" font-weight="normal" font-style="normal" fill="#000" >10000</text>
<text transform="translate(1892.6,3493.5) scale(0.9177,1)" font-family="'Liberation Sans', Arial, sans-serif" font-size="86.6" font-weight="normal" font-style="normal" fill="#000" >12000</text>
<text transform="translate(176.2,1004.1) scale(0.9177,1)" font-family="'Liberation Sans', Arial, sans-serif" font-size="86.6" font-weight="normal" font-style="normal" fill="#000" >8.0</text>
<text transform="translate(177.0,603.2) scale(0.9177,1)" font-family="'Liberation Sans', Arial, sans-serif" font-size="86.6" font-weight="normal" font-style="normal" fill="#000" >8.2</text>
<text transform="translate(175.4,202.4) scale(0.9177,1)" font-family="'Liberation Sans', Arial, sans-serif" font-size="86.6" font-weight="normal" font-style="normal" fill="#000" >8.4</text>
<text transform="translate(2104.5,1107.0) scale(0.9177,1)" font-family="'Liberation Sans', Arial, sans-serif" font-size="86.6" font-weight="normal" font-style="normal" fill="#dc121c" >6.7</text>
<text transform="translate(2104.5,617.1) scale(0.9177,1)" font-family="'Liberation Sans', Arial, sans-serif" font-size="86.6" font-weight="normal" font-style="normal" fill="#dc121c" >6.8</text>
<text transform="translate(2104.5,127.2) scale(0.9177,1)" font-family="'Liberation Sans', Arial, sans-serif" font-size="86.6" font-weight="normal" font-style="normal" fill="#dc121c" >6.9</text>
<text transform="translate(243.0,2081.6) scale(0.9177,1)" font-family="'Liberation Sans', Arial, sans-serif" font-size="86.6" font-weight="normal" font-style="normal" fill="#000" >6</text>
<text transform="translate(243.0,1767.1) scale(0.9177,1)" font-family="'Liberation Sans', Arial, sans-serif" font-size="86.6" font-weight="normal" font-style="normal" fill="#000" >7</text>
<text transform="translate(243.0,1451.6) scale(0.9177,1)" font-family="'Liberation Sans', Arial, sans-serif" font-size="86.6" font-weight="normal" font-style="normal" fill="#000" >8</text>
<text transform="translate(2104.5,2318.4) scale(0.9177,1)" font-family="'Liberation Sans', Arial, sans-serif" font-size="86.6" font-weight="normal" font-style="normal" fill="#dc121c" >6</text>
<text transform="translate(2104.5,2098.3) scale(0.9177,1)" font-family="'Liberation Sans', Arial, sans-serif" font-size="86.6" font-weight="normal" font-style="normal" fill="#dc121c" >7</text>
<text transform="translate(2104.5,1877.4) scale(0.9177,1)" font-family="'Liberation Sans', Arial, sans-serif" font-size="86.6" font-weight="normal" font-style="normal" fill="#dc121c" >8</text>
<text transform="translate(2104.5,1656.9) scale(0.9177,1)" font-family="'Liberation Sans', Arial, sans-serif" font-size="86.6" font-weight="normal" font-style="normal" fill="#dc121c" >9</text>
<text transform="translate(2104.5,1436.4) scale(0.9177,1)" font-family="'Liberation Sans', Arial, sans-serif" font-size="86.6" font-weight="normal" font-style="normal" fill="#dc121c" >10</text>
<text transform="translate(2104.5,1215.9) scale(0.9177,1)" font-family="'Liberation Sans', Arial, sans-serif" font-size="86.6" font-weight="normal" font-style="normal" fill="#dc121c" >11</text>
<text transform="translate(176.2,3433.9) scale(0.9177,1)" font-family="'Liberation Sans', Arial, sans-serif" font-size="86.6" font-weight="normal" font-style="normal" fill="#000" >7.6</text>
<text transform="translate(176.2,3189.0) scale(0.9177,1)" font-family="'Liberation Sans', Arial, sans-serif" font-size="86.6" font-weight="normal" font-style="normal" fill="#000" >7.8</text>
<text transform="translate(176.2,2944.1) scale(0.9177,1)" font-family="'Liberation Sans', Arial, sans-serif" font-size="86.6" font-weight="normal" font-style="normal" fill="#000" >8.0</text>
<text transform="translate(177.0,2699.2) scale(0.9177,1)" font-family="'Liberation Sans', Arial, sans-serif" font-size="86.6" font-weight="normal" font-style="normal" fill="#000" >8.2</text>
<text transform="translate(175.4,2454.3) scale(0.9177,1)" font-family="'Liberation Sans', Arial, sans-serif" font-size="86.6" font-weight="normal" font-style="normal" fill="#000" >8.4</text>
<text transform="translate(2104.5,3434.4) scale(0.9177,1)" font-family="'Liberation Sans', Arial, sans-serif" font-size="86.6" font-weight="normal" font-style="normal" fill="#dc121c" >6.2</text>
<text transform="translate(2104.5,3119.5) scale(0.9177,1)" font-family="'Liberation Sans', Arial, sans-serif" font-size="86.6" font-weight="normal" font-style="normal" fill="#dc121c" >6.4</text>
<text transform="translate(2104.5,2804.7) scale(0.9177,1)" font-family="'Liberation Sans', Arial, sans-serif" font-size="86.6" font-weight="normal" font-style="normal" fill="#dc121c" >6.6</text>
<text transform="translate(2104.5,2489.8) scale(0.9177,1)" font-family="'Liberation Sans', Arial, sans-serif" font-size="86.6" font-weight="normal" font-style="normal" fill="#dc121c" >6.8</text>
<text transform="translate(388.1,269.7) scale(0.9300,1)" font-family="'Liberation Sans', Arial, sans-serif" font-size="101.9" font-weight="normal" font-style="normal" fill="#000" >H</text>
<text transform="translate(513.3,268.7) scale(0.9597,1)" font-family="'Liberation Sans', Arial, sans-serif" font-size="98.2" font-weight="normal" font-style="normal" fill="#000" >= 0 Oe</text>
<text transform="translate(454.7,296.1) scale(1.1163,1)" font-family="'Liberation Serif', 'Times New Roman', serif" font-size="62.3" font-weight="normal" font-style="italic" fill="#000" >a</text>
<text transform="translate(351.0,1117.7) scale(0.9300,1)" font-family="'Liberation Sans', Arial, sans-serif" font-size="101.3" font-weight="normal" font-style="normal" fill="#000" >H</text>
<text transform="translate(478.0,1116.7) scale(0.9618,1)" font-family="'Liberation Sans', Arial, sans-serif" font-size="97.6" font-weight="normal" font-style="normal" fill="#000" >= 500 Oe</text>
<text transform="translate(420.7,1144.3) scale(1.1163,1)" font-family="'Liberation Serif', 'Times New Roman', serif" font-size="52.7" font-weight="normal" font-style="italic" fill="#000" >a</text>
<text transform="translate(363.5,1318.1) scale(0.9300,1)" font-family="'Liberation Sans', Arial, sans-serif" font-size="101.7" font-weight="normal" font-style="normal" fill="#000" >H</text>
<text transform="translate(490.9,1317.1) scale(0.9580,1)" font-family="'Liberation Sans', Arial, sans-serif" font-size="98.0" font-weight="normal" font-style="normal" fill="#000" >= 500 Oe</text>
<text transform="translate(432.4,1344.7) scale(1.1163,1)" font-family="'Liberation Serif', 'Times New Roman', serif" font-size="61.5" font-weight="normal" font-style="italic" fill="#000" >a</text>
<text transform="translate(359.0,2234.7) scale(0.9300,1)" font-family="'Liberation Sans', Arial, sans-serif" font-size="101.7" font-weight="normal" font-style="normal" fill="#000" >H</text>
<text transform="translate(484.1,2233.7) scale(0.9615,1)" font-family="'Liberation Sans', Arial, sans-serif" font-size="98.0" font-weight="normal" font-style="normal" fill="#000" >= 0 Oe</text>
<text transform="translate(427.9,2261.2) scale(1.1163,1)" font-family="'Liberation Serif', 'Times New Roman', serif" font-size="61.3" font-weight="normal" font-style="italic" fill="#000" >a</text>
<text transform="translate(395.0,2447.2) scale(0.9300,1)" font-family="'Liberation Sans', Arial, sans-serif" font-size="100.6" font-weight="normal" font-style="normal" fill="#000" >H</text>
<text transform="translate(521.8,2446.2) scale(0.9697,1)" font-family="'Liberation Sans', Arial, sans-serif" font-size="96.9" font-weight="normal" font-style="normal" fill="#000" >= 0 Oe</text>
<text transform="translate(463.5,2472.6) scale(1.1163,1)" font-family="'Liberation Serif', 'Times New Roman', serif" font-size="61.3" font-weight="normal" font-style="italic" fill="#000" >a</text>
<text transform="translate(355.1,3348.2) scale(0.9300,1)" font-family="'Liberation Sans', Arial, sans-serif" font-size="100.6" font-weight="normal" font-style="normal" fill="#000" >H</text>
<text transform="translate(481.9,3347.2) scale(0.9693,1)" font-family="'Liberation Sans', Arial, sans-serif" font-size="96.9" font-weight="normal" font-style="normal" fill="#000" >= 500 Oe</text>
<text transform="translate(423.5,3374.9) scale(1.1163,1)" font-family="'Liberation Serif', 'Times New Roman', serif" font-size="61.3" font-weight="normal" font-style="italic" fill="#000" >a</text>
<text transform="translate(1070.7,641.9) scale(0.9425,1)" font-family="'Liberation Sans', Arial, sans-serif" font-size="101.0" font-weight="normal" font-style="normal" fill="#000" >280 K</text>
<text transform="translate(455.7,1004.1) scale(0.9750,1)" font-family="'Liberation Sans', Arial, sans-serif" font-size="95.6" font-weight="normal" font-style="normal" fill="#000" >300 K</text>
<text transform="translate(1840.9,524.9) scale(0.9365,1)" font-family="'Liberation Sans', Arial, sans-serif" font-size="100.8" font-weight="normal" font-style="normal" fill="#000" >ZFC</text>
<text transform="translate(1598.5,944.6) scale(0.9462,1)" font-family="'Liberation Sans', Arial, sans-serif" font-size="98.9" font-weight="normal" font-style="normal" fill="#000" >FC</text>
<text transform="translate(1718.6,1082.4) scale(0.9227,1)" font-family="'Liberation Sans', Arial, sans-serif" font-size="102.1" font-weight="normal" font-style="normal" fill="#000" >300 K</text>
<text transform="translate(1076.2,1492.7) scale(0.9399,1)" font-family="'Liberation Sans', Arial, sans-serif" font-size="100.1" font-weight="normal" font-style="normal" fill="#000" >280 K</text>
<text transform="translate(489.7,2024.0) scale(0.9671,1)" font-family="'Liberation Sans', Arial, sans-serif" font-size="96.9" font-weight="normal" font-style="normal" fill="#000" >300 K</text>
<text transform="translate(1842.5,1315.5) scale(0.9300,1)" font-family="'Liberation Sans', Arial, sans-serif" font-size="102.8" font-weight="normal" font-style="normal" fill="#000" >ZFC</text>
<text transform="translate(1651.9,2038.1) scale(1.0251,1)" font-family="'Liberation Sans', Arial, sans-serif" font-size="93.0" font-weight="normal" font-style="normal" fill="#000" >FC</text>
<text transform="translate(1714.5,2238.0) scale(0.9428,1)" font-family="'Liberation Sans', Arial, sans-serif" font-size="99.4" font-weight="normal" font-style="normal" fill="#000" >300 K</text>
<text transform="translate(1090.9,2564.8) scale(0.9424,1)" font-family="'Liberation Sans', Arial, sans-serif" font-size="99.4" font-weight="normal" font-style="normal" fill="#000" >320 K</text>
<text transform="translate(518.6,3149.7) scale(0.9878,1)" font-family="'Liberation Sans', Arial, sans-serif" font-size="94.8" font-weight="normal" font-style="normal" fill="#000" >300 K</text>
<text transform="translate(1816.7,2548.5) scale(0.9812,1)" font-family="'Liberation Sans', Arial, sans-serif" font-size="96.2" font-weight="normal" font-style="normal" fill="#000" >ZFC</text>
<text transform="translate(1728.3,3018.8) scale(0.9487,1)" font-family="'Liberation Sans', Arial, sans-serif" font-size="100.7" font-weight="normal" font-style="normal" fill="#000" >FC</text>
<text transform="translate(1738.5,3208.0) scale(0.9294,1)" font-family="'Liberation Sans', Arial, sans-serif" font-size="100.7" font-weight="normal" font-style="normal" fill="#000" >300 K</text>
<text transform="translate(1904.5,172.6) scale(1.0248,1)" font-family="'Liberation Serif', 'Times New Roman', serif" font-size="97.2" font-weight="bold" font-style="normal" fill="#000" >(a)</text>
<text transform="translate(1895.4,1533.9) scale(1.0656,1)" font-family="'Liberation Serif', 'Times New Roman', serif" font-size="96.9" font-weight="bold" font-style="normal" fill="#000" >(b)</text>
<text transform="translate(1900.0,2675.6) scale(1.1159,1)" font-family="'Liberation Serif', 'Times New Roman', serif" font-size="94.2" font-weight="bold" font-style="normal" fill="#000" >(c)</text>
<text transform="translate(972.3,3599.0) scale(0.9584,1)" font-family="'Liberation Sans', Arial, sans-serif" font-size="106.0" font-weight="normal" font-style="normal" fill="#000" >Time (second)</text>
<g transform="translate(151.5,2460.6) rotate(-90) scale(1.0580,1)"><text font-family="'Liberation Sans', Arial, sans-serif" font-size="115" fill="#000">Magnetization (10<tspan font-size="72.5" dy="-51.8">-2</tspan><tspan dy="51.8"> emu/g)</tspan></text></g>
<g transform="translate(2257.0,1056.5) rotate(90) scale(1.0530,1)"><text font-family="'Liberation Sans', Arial, sans-serif" font-size="115" fill="#dc121c">Magnetization (10<tspan font-size="72.5" dy="-51.8">-2</tspan><tspan dy="51.8"> emu/g)</tspan></text></g>
</svg></body></html>
